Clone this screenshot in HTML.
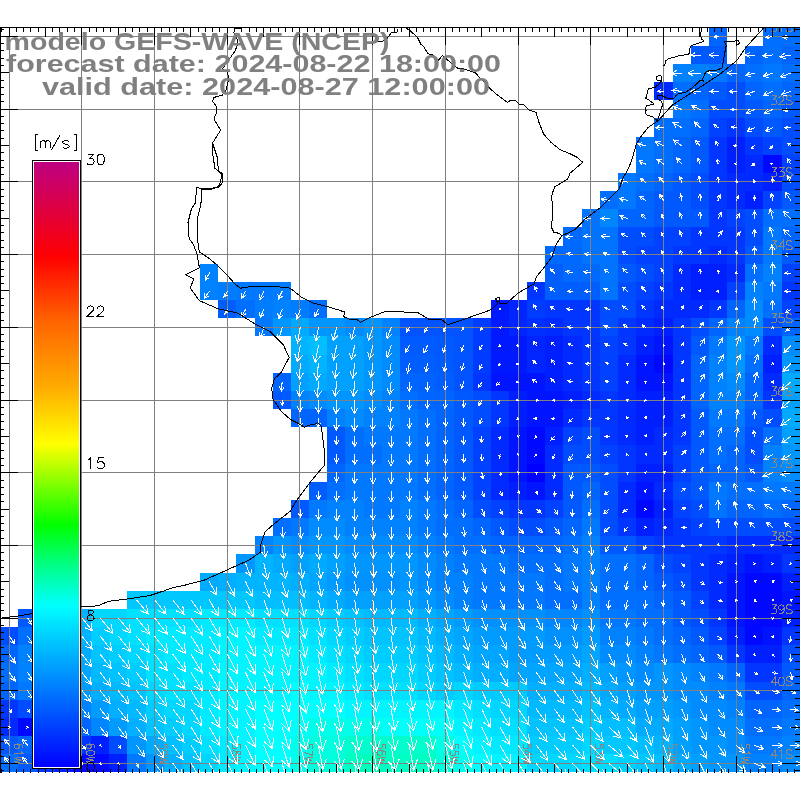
<!DOCTYPE html><html><head><meta charset="utf-8"><style>html,body{margin:0;padding:0;background:#fff;width:800px;height:800px;overflow:hidden}svg{display:block;will-change:transform}</style></head><body>
<svg width="800" height="800" viewBox="0 0 800 800">
<rect x="0" y="0" width="800" height="800" fill="#fff"/>
<defs><clipPath id="mc"><rect x="0" y="28" width="800" height="744"/></clipPath></defs>
<g shape-rendering="crispEdges" clip-path="url(#mc)">
<rect x="709" y="28" width="18" height="18" fill="#0064ff"/>
<rect x="763" y="28" width="19" height="18" fill="#006eff"/>
<rect x="782" y="28" width="18" height="18" fill="#006eff"/>
<rect x="691" y="46" width="18" height="18" fill="#0058ff"/>
<rect x="709" y="46" width="18" height="18" fill="#0058ff"/>
<rect x="745" y="46" width="18" height="18" fill="#0064ff"/>
<rect x="763" y="46" width="19" height="18" fill="#006eff"/>
<rect x="782" y="46" width="18" height="18" fill="#0064ff"/>
<rect x="673" y="64" width="18" height="18" fill="#0082ff"/>
<rect x="691" y="64" width="18" height="18" fill="#0082ff"/>
<rect x="709" y="64" width="18" height="18" fill="#0078ff"/>
<rect x="727" y="64" width="18" height="18" fill="#0064ff"/>
<rect x="745" y="64" width="18" height="18" fill="#006eff"/>
<rect x="763" y="64" width="19" height="18" fill="#0078ff"/>
<rect x="782" y="64" width="18" height="18" fill="#006eff"/>
<rect x="654" y="82" width="19" height="18" fill="#002aff"/>
<rect x="673" y="82" width="18" height="18" fill="#006eff"/>
<rect x="691" y="82" width="18" height="18" fill="#0064ff"/>
<rect x="709" y="82" width="18" height="18" fill="#0058ff"/>
<rect x="727" y="82" width="18" height="18" fill="#004dff"/>
<rect x="745" y="82" width="18" height="18" fill="#0064ff"/>
<rect x="763" y="82" width="19" height="18" fill="#006eff"/>
<rect x="782" y="82" width="18" height="18" fill="#0064ff"/>
<rect x="673" y="100" width="18" height="18" fill="#0078ff"/>
<rect x="691" y="100" width="18" height="18" fill="#006eff"/>
<rect x="709" y="100" width="18" height="18" fill="#004dff"/>
<rect x="727" y="100" width="18" height="18" fill="#004dff"/>
<rect x="745" y="100" width="18" height="18" fill="#0058ff"/>
<rect x="763" y="100" width="19" height="18" fill="#0064ff"/>
<rect x="782" y="100" width="18" height="18" fill="#0058ff"/>
<rect x="654" y="118" width="19" height="19" fill="#006eff"/>
<rect x="673" y="118" width="18" height="19" fill="#006eff"/>
<rect x="691" y="118" width="18" height="19" fill="#0064ff"/>
<rect x="709" y="118" width="18" height="19" fill="#0042ff"/>
<rect x="727" y="118" width="18" height="19" fill="#0036ff"/>
<rect x="745" y="118" width="18" height="19" fill="#004dff"/>
<rect x="763" y="118" width="19" height="19" fill="#0058ff"/>
<rect x="782" y="118" width="18" height="19" fill="#004dff"/>
<rect x="636" y="137" width="18" height="18" fill="#0078ff"/>
<rect x="654" y="137" width="19" height="18" fill="#006eff"/>
<rect x="673" y="137" width="18" height="18" fill="#0064ff"/>
<rect x="691" y="137" width="18" height="18" fill="#0058ff"/>
<rect x="709" y="137" width="18" height="18" fill="#0036ff"/>
<rect x="727" y="137" width="18" height="18" fill="#001fff"/>
<rect x="745" y="137" width="18" height="18" fill="#0036ff"/>
<rect x="763" y="137" width="19" height="18" fill="#0042ff"/>
<rect x="782" y="137" width="18" height="18" fill="#004dff"/>
<rect x="636" y="155" width="18" height="18" fill="#0078ff"/>
<rect x="654" y="155" width="19" height="18" fill="#006eff"/>
<rect x="673" y="155" width="18" height="18" fill="#0064ff"/>
<rect x="691" y="155" width="18" height="18" fill="#0058ff"/>
<rect x="709" y="155" width="18" height="18" fill="#0036ff"/>
<rect x="727" y="155" width="18" height="18" fill="#001fff"/>
<rect x="745" y="155" width="18" height="18" fill="#002aff"/>
<rect x="763" y="155" width="19" height="18" fill="#0008ff"/>
<rect x="782" y="155" width="18" height="18" fill="#0042ff"/>
<rect x="618" y="173" width="18" height="18" fill="#0078ff"/>
<rect x="636" y="173" width="18" height="18" fill="#006eff"/>
<rect x="654" y="173" width="19" height="18" fill="#0064ff"/>
<rect x="673" y="173" width="18" height="18" fill="#0058ff"/>
<rect x="691" y="173" width="18" height="18" fill="#004dff"/>
<rect x="709" y="173" width="18" height="18" fill="#0036ff"/>
<rect x="727" y="173" width="18" height="18" fill="#002aff"/>
<rect x="745" y="173" width="18" height="18" fill="#002aff"/>
<rect x="763" y="173" width="19" height="18" fill="#001fff"/>
<rect x="782" y="173" width="18" height="18" fill="#004dff"/>
<rect x="600" y="191" width="18" height="18" fill="#006eff"/>
<rect x="618" y="191" width="18" height="18" fill="#0078ff"/>
<rect x="636" y="191" width="18" height="18" fill="#0064ff"/>
<rect x="654" y="191" width="19" height="18" fill="#0058ff"/>
<rect x="673" y="191" width="18" height="18" fill="#0058ff"/>
<rect x="691" y="191" width="18" height="18" fill="#004dff"/>
<rect x="709" y="191" width="18" height="18" fill="#0036ff"/>
<rect x="727" y="191" width="18" height="18" fill="#002aff"/>
<rect x="745" y="191" width="18" height="18" fill="#001fff"/>
<rect x="763" y="191" width="19" height="18" fill="#0042ff"/>
<rect x="782" y="191" width="18" height="18" fill="#0058ff"/>
<rect x="582" y="209" width="18" height="18" fill="#0073ff"/>
<rect x="600" y="209" width="18" height="18" fill="#0087ff"/>
<rect x="618" y="209" width="18" height="18" fill="#0064ff"/>
<rect x="636" y="209" width="18" height="18" fill="#0064ff"/>
<rect x="654" y="209" width="19" height="18" fill="#0058ff"/>
<rect x="673" y="209" width="18" height="18" fill="#0058ff"/>
<rect x="691" y="209" width="18" height="18" fill="#0058ff"/>
<rect x="709" y="209" width="18" height="18" fill="#0036ff"/>
<rect x="727" y="209" width="18" height="18" fill="#0042ff"/>
<rect x="745" y="209" width="18" height="18" fill="#004dff"/>
<rect x="763" y="209" width="19" height="18" fill="#006eff"/>
<rect x="782" y="209" width="18" height="18" fill="#006eff"/>
<rect x="563" y="227" width="19" height="19" fill="#0069ff"/>
<rect x="582" y="227" width="18" height="19" fill="#0073ff"/>
<rect x="600" y="227" width="18" height="19" fill="#0073ff"/>
<rect x="618" y="227" width="18" height="19" fill="#004dff"/>
<rect x="636" y="227" width="18" height="19" fill="#004dff"/>
<rect x="654" y="227" width="19" height="19" fill="#0042ff"/>
<rect x="673" y="227" width="18" height="19" fill="#0042ff"/>
<rect x="691" y="227" width="18" height="19" fill="#0036ff"/>
<rect x="709" y="227" width="18" height="19" fill="#0036ff"/>
<rect x="727" y="227" width="18" height="19" fill="#0036ff"/>
<rect x="745" y="227" width="18" height="19" fill="#004dff"/>
<rect x="763" y="227" width="19" height="19" fill="#0078ff"/>
<rect x="782" y="227" width="18" height="19" fill="#0064ff"/>
<rect x="545" y="246" width="18" height="18" fill="#0069ff"/>
<rect x="563" y="246" width="19" height="18" fill="#0069ff"/>
<rect x="582" y="246" width="18" height="18" fill="#0073ff"/>
<rect x="600" y="246" width="18" height="18" fill="#0073ff"/>
<rect x="618" y="246" width="18" height="18" fill="#004dff"/>
<rect x="636" y="246" width="18" height="18" fill="#0042ff"/>
<rect x="654" y="246" width="19" height="18" fill="#0042ff"/>
<rect x="673" y="246" width="18" height="18" fill="#0036ff"/>
<rect x="691" y="246" width="18" height="18" fill="#0036ff"/>
<rect x="709" y="246" width="18" height="18" fill="#002aff"/>
<rect x="727" y="246" width="18" height="18" fill="#0036ff"/>
<rect x="745" y="246" width="18" height="18" fill="#0058ff"/>
<rect x="763" y="246" width="19" height="18" fill="#0078ff"/>
<rect x="782" y="246" width="18" height="18" fill="#0058ff"/>
<rect x="200" y="264" width="18" height="18" fill="#0082ff"/>
<rect x="545" y="264" width="18" height="18" fill="#005eff"/>
<rect x="563" y="264" width="19" height="18" fill="#0069ff"/>
<rect x="582" y="264" width="18" height="18" fill="#0069ff"/>
<rect x="600" y="264" width="18" height="18" fill="#0073ff"/>
<rect x="618" y="264" width="18" height="18" fill="#0058ff"/>
<rect x="636" y="264" width="18" height="18" fill="#004dff"/>
<rect x="654" y="264" width="19" height="18" fill="#0042ff"/>
<rect x="673" y="264" width="18" height="18" fill="#002aff"/>
<rect x="691" y="264" width="18" height="18" fill="#001fff"/>
<rect x="709" y="264" width="18" height="18" fill="#001fff"/>
<rect x="727" y="264" width="18" height="18" fill="#002aff"/>
<rect x="745" y="264" width="18" height="18" fill="#006eff"/>
<rect x="763" y="264" width="19" height="18" fill="#0082ff"/>
<rect x="782" y="264" width="18" height="18" fill="#0042ff"/>
<rect x="200" y="282" width="18" height="18" fill="#0082ff"/>
<rect x="218" y="282" width="18" height="18" fill="#007dff"/>
<rect x="236" y="282" width="19" height="18" fill="#0078ff"/>
<rect x="255" y="282" width="18" height="18" fill="#0078ff"/>
<rect x="273" y="282" width="18" height="18" fill="#007dff"/>
<rect x="527" y="282" width="18" height="18" fill="#0036ff"/>
<rect x="545" y="282" width="18" height="18" fill="#005eff"/>
<rect x="563" y="282" width="19" height="18" fill="#005eff"/>
<rect x="582" y="282" width="18" height="18" fill="#005eff"/>
<rect x="600" y="282" width="18" height="18" fill="#0073ff"/>
<rect x="618" y="282" width="18" height="18" fill="#004dff"/>
<rect x="636" y="282" width="18" height="18" fill="#0042ff"/>
<rect x="654" y="282" width="19" height="18" fill="#0036ff"/>
<rect x="673" y="282" width="18" height="18" fill="#002aff"/>
<rect x="691" y="282" width="18" height="18" fill="#001fff"/>
<rect x="709" y="282" width="18" height="18" fill="#001fff"/>
<rect x="727" y="282" width="18" height="18" fill="#0042ff"/>
<rect x="745" y="282" width="18" height="18" fill="#0082ff"/>
<rect x="763" y="282" width="19" height="18" fill="#0078ff"/>
<rect x="782" y="282" width="18" height="18" fill="#0036ff"/>
<rect x="218" y="300" width="18" height="18" fill="#005eff"/>
<rect x="236" y="300" width="19" height="18" fill="#006eff"/>
<rect x="255" y="300" width="18" height="18" fill="#007dff"/>
<rect x="273" y="300" width="18" height="18" fill="#0082ff"/>
<rect x="291" y="300" width="18" height="18" fill="#007dff"/>
<rect x="309" y="300" width="18" height="18" fill="#006eff"/>
<rect x="491" y="300" width="18" height="18" fill="#0019ff"/>
<rect x="509" y="300" width="18" height="18" fill="#0025ff"/>
<rect x="527" y="300" width="18" height="18" fill="#003cff"/>
<rect x="545" y="300" width="18" height="18" fill="#0036ff"/>
<rect x="563" y="300" width="19" height="18" fill="#0036ff"/>
<rect x="582" y="300" width="18" height="18" fill="#0036ff"/>
<rect x="600" y="300" width="18" height="18" fill="#004dff"/>
<rect x="618" y="300" width="18" height="18" fill="#004dff"/>
<rect x="636" y="300" width="18" height="18" fill="#0036ff"/>
<rect x="654" y="300" width="19" height="18" fill="#002aff"/>
<rect x="673" y="300" width="18" height="18" fill="#002aff"/>
<rect x="691" y="300" width="18" height="18" fill="#002aff"/>
<rect x="709" y="300" width="18" height="18" fill="#0036ff"/>
<rect x="727" y="300" width="18" height="18" fill="#0064ff"/>
<rect x="745" y="300" width="18" height="18" fill="#008cff"/>
<rect x="763" y="300" width="19" height="18" fill="#006eff"/>
<rect x="782" y="300" width="18" height="18" fill="#0042ff"/>
<rect x="255" y="318" width="18" height="18" fill="#0078ff"/>
<rect x="273" y="318" width="18" height="18" fill="#0096ff"/>
<rect x="291" y="318" width="18" height="18" fill="#00aaff"/>
<rect x="309" y="318" width="18" height="18" fill="#0096ff"/>
<rect x="327" y="318" width="18" height="18" fill="#0096ff"/>
<rect x="345" y="318" width="19" height="18" fill="#008cff"/>
<rect x="364" y="318" width="18" height="18" fill="#0096ff"/>
<rect x="382" y="318" width="18" height="18" fill="#0082ff"/>
<rect x="400" y="318" width="18" height="18" fill="#0053ff"/>
<rect x="418" y="318" width="18" height="18" fill="#0053ff"/>
<rect x="436" y="318" width="18" height="18" fill="#0053ff"/>
<rect x="454" y="318" width="19" height="18" fill="#0053ff"/>
<rect x="473" y="318" width="18" height="18" fill="#003cff"/>
<rect x="491" y="318" width="18" height="18" fill="#0019ff"/>
<rect x="509" y="318" width="18" height="18" fill="#0025ff"/>
<rect x="527" y="318" width="18" height="18" fill="#0030ff"/>
<rect x="545" y="318" width="18" height="18" fill="#002aff"/>
<rect x="563" y="318" width="19" height="18" fill="#0036ff"/>
<rect x="582" y="318" width="18" height="18" fill="#0036ff"/>
<rect x="600" y="318" width="18" height="18" fill="#004dff"/>
<rect x="618" y="318" width="18" height="18" fill="#0036ff"/>
<rect x="636" y="318" width="18" height="18" fill="#002aff"/>
<rect x="654" y="318" width="19" height="18" fill="#001fff"/>
<rect x="673" y="318" width="18" height="18" fill="#0036ff"/>
<rect x="691" y="318" width="18" height="18" fill="#004dff"/>
<rect x="709" y="318" width="18" height="18" fill="#0064ff"/>
<rect x="727" y="318" width="18" height="18" fill="#0082ff"/>
<rect x="745" y="318" width="18" height="18" fill="#008cff"/>
<rect x="763" y="318" width="19" height="18" fill="#004dff"/>
<rect x="782" y="318" width="18" height="18" fill="#0064ff"/>
<rect x="291" y="336" width="18" height="19" fill="#00b4ff"/>
<rect x="309" y="336" width="18" height="19" fill="#00beff"/>
<rect x="327" y="336" width="18" height="19" fill="#00a0ff"/>
<rect x="345" y="336" width="19" height="19" fill="#00a0ff"/>
<rect x="364" y="336" width="18" height="19" fill="#0096ff"/>
<rect x="382" y="336" width="18" height="19" fill="#008cff"/>
<rect x="400" y="336" width="18" height="19" fill="#005bff"/>
<rect x="418" y="336" width="18" height="19" fill="#005bff"/>
<rect x="436" y="336" width="18" height="19" fill="#0058ff"/>
<rect x="454" y="336" width="19" height="19" fill="#0053ff"/>
<rect x="473" y="336" width="18" height="19" fill="#003cff"/>
<rect x="491" y="336" width="18" height="19" fill="#0019ff"/>
<rect x="509" y="336" width="18" height="19" fill="#0019ff"/>
<rect x="527" y="336" width="18" height="19" fill="#0025ff"/>
<rect x="545" y="336" width="18" height="19" fill="#001fff"/>
<rect x="563" y="336" width="19" height="19" fill="#002aff"/>
<rect x="582" y="336" width="18" height="19" fill="#0036ff"/>
<rect x="600" y="336" width="18" height="19" fill="#0042ff"/>
<rect x="618" y="336" width="18" height="19" fill="#0036ff"/>
<rect x="636" y="336" width="18" height="19" fill="#001fff"/>
<rect x="654" y="336" width="19" height="19" fill="#0014ff"/>
<rect x="673" y="336" width="18" height="19" fill="#0036ff"/>
<rect x="691" y="336" width="18" height="19" fill="#0058ff"/>
<rect x="709" y="336" width="18" height="19" fill="#0078ff"/>
<rect x="727" y="336" width="18" height="19" fill="#0096ff"/>
<rect x="745" y="336" width="18" height="19" fill="#0078ff"/>
<rect x="763" y="336" width="19" height="19" fill="#002aff"/>
<rect x="782" y="336" width="18" height="19" fill="#008cff"/>
<rect x="291" y="355" width="18" height="18" fill="#00aaff"/>
<rect x="309" y="355" width="18" height="18" fill="#00b4ff"/>
<rect x="327" y="355" width="18" height="18" fill="#00a0ff"/>
<rect x="345" y="355" width="19" height="18" fill="#00a0ff"/>
<rect x="364" y="355" width="18" height="18" fill="#0096ff"/>
<rect x="382" y="355" width="18" height="18" fill="#008cff"/>
<rect x="400" y="355" width="18" height="18" fill="#005eff"/>
<rect x="418" y="355" width="18" height="18" fill="#005eff"/>
<rect x="436" y="355" width="18" height="18" fill="#005bff"/>
<rect x="454" y="355" width="19" height="18" fill="#0053ff"/>
<rect x="473" y="355" width="18" height="18" fill="#003cff"/>
<rect x="491" y="355" width="18" height="18" fill="#0019ff"/>
<rect x="509" y="355" width="18" height="18" fill="#0019ff"/>
<rect x="527" y="355" width="18" height="18" fill="#0025ff"/>
<rect x="545" y="355" width="18" height="18" fill="#001fff"/>
<rect x="563" y="355" width="19" height="18" fill="#002aff"/>
<rect x="582" y="355" width="18" height="18" fill="#0036ff"/>
<rect x="600" y="355" width="18" height="18" fill="#0042ff"/>
<rect x="618" y="355" width="18" height="18" fill="#002aff"/>
<rect x="636" y="355" width="18" height="18" fill="#0014ff"/>
<rect x="654" y="355" width="19" height="18" fill="#0008ff"/>
<rect x="673" y="355" width="18" height="18" fill="#0036ff"/>
<rect x="691" y="355" width="18" height="18" fill="#0064ff"/>
<rect x="709" y="355" width="18" height="18" fill="#0082ff"/>
<rect x="727" y="355" width="18" height="18" fill="#0096ff"/>
<rect x="745" y="355" width="18" height="18" fill="#006eff"/>
<rect x="763" y="355" width="19" height="18" fill="#001fff"/>
<rect x="782" y="355" width="18" height="18" fill="#0096ff"/>
<rect x="273" y="373" width="18" height="18" fill="#0064ff"/>
<rect x="291" y="373" width="18" height="18" fill="#00a0ff"/>
<rect x="309" y="373" width="18" height="18" fill="#00aaff"/>
<rect x="327" y="373" width="18" height="18" fill="#00a0ff"/>
<rect x="345" y="373" width="19" height="18" fill="#00a0ff"/>
<rect x="364" y="373" width="18" height="18" fill="#0096ff"/>
<rect x="382" y="373" width="18" height="18" fill="#008cff"/>
<rect x="400" y="373" width="18" height="18" fill="#0064ff"/>
<rect x="418" y="373" width="18" height="18" fill="#0062ff"/>
<rect x="436" y="373" width="18" height="18" fill="#005eff"/>
<rect x="454" y="373" width="19" height="18" fill="#0053ff"/>
<rect x="473" y="373" width="18" height="18" fill="#0036ff"/>
<rect x="491" y="373" width="18" height="18" fill="#0014ff"/>
<rect x="509" y="373" width="18" height="18" fill="#0014ff"/>
<rect x="527" y="373" width="18" height="18" fill="#0014ff"/>
<rect x="545" y="373" width="18" height="18" fill="#001fff"/>
<rect x="563" y="373" width="19" height="18" fill="#002aff"/>
<rect x="582" y="373" width="18" height="18" fill="#0036ff"/>
<rect x="600" y="373" width="18" height="18" fill="#0042ff"/>
<rect x="618" y="373" width="18" height="18" fill="#002aff"/>
<rect x="636" y="373" width="18" height="18" fill="#0014ff"/>
<rect x="654" y="373" width="19" height="18" fill="#0014ff"/>
<rect x="673" y="373" width="18" height="18" fill="#0036ff"/>
<rect x="691" y="373" width="18" height="18" fill="#0064ff"/>
<rect x="709" y="373" width="18" height="18" fill="#0082ff"/>
<rect x="727" y="373" width="18" height="18" fill="#008cff"/>
<rect x="745" y="373" width="18" height="18" fill="#0064ff"/>
<rect x="763" y="373" width="19" height="18" fill="#002aff"/>
<rect x="782" y="373" width="18" height="18" fill="#00aaff"/>
<rect x="273" y="391" width="18" height="18" fill="#0058ff"/>
<rect x="291" y="391" width="18" height="18" fill="#0082ff"/>
<rect x="309" y="391" width="18" height="18" fill="#008cff"/>
<rect x="327" y="391" width="18" height="18" fill="#0096ff"/>
<rect x="345" y="391" width="19" height="18" fill="#0096ff"/>
<rect x="364" y="391" width="18" height="18" fill="#008cff"/>
<rect x="382" y="391" width="18" height="18" fill="#0082ff"/>
<rect x="400" y="391" width="18" height="18" fill="#006eff"/>
<rect x="418" y="391" width="18" height="18" fill="#0064ff"/>
<rect x="436" y="391" width="18" height="18" fill="#0064ff"/>
<rect x="454" y="391" width="19" height="18" fill="#0058ff"/>
<rect x="473" y="391" width="18" height="18" fill="#004dff"/>
<rect x="491" y="391" width="18" height="18" fill="#0036ff"/>
<rect x="509" y="391" width="18" height="18" fill="#001fff"/>
<rect x="527" y="391" width="18" height="18" fill="#0014ff"/>
<rect x="545" y="391" width="18" height="18" fill="#0014ff"/>
<rect x="563" y="391" width="19" height="18" fill="#001fff"/>
<rect x="582" y="391" width="18" height="18" fill="#002aff"/>
<rect x="600" y="391" width="18" height="18" fill="#0036ff"/>
<rect x="618" y="391" width="18" height="18" fill="#002aff"/>
<rect x="636" y="391" width="18" height="18" fill="#001fff"/>
<rect x="654" y="391" width="19" height="18" fill="#001fff"/>
<rect x="673" y="391" width="18" height="18" fill="#0036ff"/>
<rect x="691" y="391" width="18" height="18" fill="#0064ff"/>
<rect x="709" y="391" width="18" height="18" fill="#0082ff"/>
<rect x="727" y="391" width="18" height="18" fill="#0082ff"/>
<rect x="745" y="391" width="18" height="18" fill="#0064ff"/>
<rect x="763" y="391" width="19" height="18" fill="#0036ff"/>
<rect x="782" y="391" width="18" height="18" fill="#00a0ff"/>
<rect x="291" y="409" width="18" height="18" fill="#0064ff"/>
<rect x="309" y="409" width="18" height="18" fill="#0064ff"/>
<rect x="327" y="409" width="18" height="18" fill="#0082ff"/>
<rect x="345" y="409" width="19" height="18" fill="#008cff"/>
<rect x="364" y="409" width="18" height="18" fill="#0082ff"/>
<rect x="382" y="409" width="18" height="18" fill="#0082ff"/>
<rect x="400" y="409" width="18" height="18" fill="#0078ff"/>
<rect x="418" y="409" width="18" height="18" fill="#006eff"/>
<rect x="436" y="409" width="18" height="18" fill="#0064ff"/>
<rect x="454" y="409" width="19" height="18" fill="#0058ff"/>
<rect x="473" y="409" width="18" height="18" fill="#004dff"/>
<rect x="491" y="409" width="18" height="18" fill="#0036ff"/>
<rect x="509" y="409" width="18" height="18" fill="#001fff"/>
<rect x="527" y="409" width="18" height="18" fill="#0014ff"/>
<rect x="545" y="409" width="18" height="18" fill="#0014ff"/>
<rect x="563" y="409" width="19" height="18" fill="#002aff"/>
<rect x="582" y="409" width="18" height="18" fill="#0036ff"/>
<rect x="600" y="409" width="18" height="18" fill="#0036ff"/>
<rect x="618" y="409" width="18" height="18" fill="#002aff"/>
<rect x="636" y="409" width="18" height="18" fill="#001fff"/>
<rect x="654" y="409" width="19" height="18" fill="#001fff"/>
<rect x="673" y="409" width="18" height="18" fill="#0036ff"/>
<rect x="691" y="409" width="18" height="18" fill="#0058ff"/>
<rect x="709" y="409" width="18" height="18" fill="#0078ff"/>
<rect x="727" y="409" width="18" height="18" fill="#0078ff"/>
<rect x="745" y="409" width="18" height="18" fill="#0058ff"/>
<rect x="763" y="409" width="19" height="18" fill="#004dff"/>
<rect x="782" y="409" width="18" height="18" fill="#00aaff"/>
<rect x="327" y="427" width="18" height="18" fill="#0058ff"/>
<rect x="345" y="427" width="19" height="18" fill="#006eff"/>
<rect x="364" y="427" width="18" height="18" fill="#0078ff"/>
<rect x="382" y="427" width="18" height="18" fill="#0078ff"/>
<rect x="400" y="427" width="18" height="18" fill="#0078ff"/>
<rect x="418" y="427" width="18" height="18" fill="#006eff"/>
<rect x="436" y="427" width="18" height="18" fill="#0064ff"/>
<rect x="454" y="427" width="19" height="18" fill="#0058ff"/>
<rect x="473" y="427" width="18" height="18" fill="#0042ff"/>
<rect x="491" y="427" width="18" height="18" fill="#002aff"/>
<rect x="509" y="427" width="18" height="18" fill="#0014ff"/>
<rect x="527" y="427" width="18" height="18" fill="#0008ff"/>
<rect x="545" y="427" width="18" height="18" fill="#001fff"/>
<rect x="563" y="427" width="19" height="18" fill="#0042ff"/>
<rect x="582" y="427" width="18" height="18" fill="#004dff"/>
<rect x="600" y="427" width="18" height="18" fill="#0036ff"/>
<rect x="618" y="427" width="18" height="18" fill="#002aff"/>
<rect x="636" y="427" width="18" height="18" fill="#001fff"/>
<rect x="654" y="427" width="19" height="18" fill="#002aff"/>
<rect x="673" y="427" width="18" height="18" fill="#0036ff"/>
<rect x="691" y="427" width="18" height="18" fill="#0058ff"/>
<rect x="709" y="427" width="18" height="18" fill="#006eff"/>
<rect x="727" y="427" width="18" height="18" fill="#006eff"/>
<rect x="745" y="427" width="18" height="18" fill="#004dff"/>
<rect x="763" y="427" width="19" height="18" fill="#006eff"/>
<rect x="782" y="427" width="18" height="18" fill="#00a0ff"/>
<rect x="327" y="445" width="18" height="19" fill="#0058ff"/>
<rect x="345" y="445" width="19" height="19" fill="#006eff"/>
<rect x="364" y="445" width="18" height="19" fill="#006eff"/>
<rect x="382" y="445" width="18" height="19" fill="#0078ff"/>
<rect x="400" y="445" width="18" height="19" fill="#0078ff"/>
<rect x="418" y="445" width="18" height="19" fill="#006eff"/>
<rect x="436" y="445" width="18" height="19" fill="#0064ff"/>
<rect x="454" y="445" width="19" height="19" fill="#0058ff"/>
<rect x="473" y="445" width="18" height="19" fill="#0042ff"/>
<rect x="491" y="445" width="18" height="19" fill="#002aff"/>
<rect x="509" y="445" width="18" height="19" fill="#0014ff"/>
<rect x="527" y="445" width="18" height="19" fill="#0008ff"/>
<rect x="545" y="445" width="18" height="19" fill="#002aff"/>
<rect x="563" y="445" width="19" height="19" fill="#004dff"/>
<rect x="582" y="445" width="18" height="19" fill="#004dff"/>
<rect x="600" y="445" width="18" height="19" fill="#0042ff"/>
<rect x="618" y="445" width="18" height="19" fill="#0036ff"/>
<rect x="636" y="445" width="18" height="19" fill="#002aff"/>
<rect x="654" y="445" width="19" height="19" fill="#002aff"/>
<rect x="673" y="445" width="18" height="19" fill="#0042ff"/>
<rect x="691" y="445" width="18" height="19" fill="#0058ff"/>
<rect x="709" y="445" width="18" height="19" fill="#006eff"/>
<rect x="727" y="445" width="18" height="19" fill="#0064ff"/>
<rect x="745" y="445" width="18" height="19" fill="#004dff"/>
<rect x="763" y="445" width="19" height="19" fill="#0082ff"/>
<rect x="782" y="445" width="18" height="19" fill="#0096ff"/>
<rect x="327" y="464" width="18" height="18" fill="#0064ff"/>
<rect x="345" y="464" width="19" height="18" fill="#0078ff"/>
<rect x="364" y="464" width="18" height="18" fill="#0078ff"/>
<rect x="382" y="464" width="18" height="18" fill="#0078ff"/>
<rect x="400" y="464" width="18" height="18" fill="#0078ff"/>
<rect x="418" y="464" width="18" height="18" fill="#006eff"/>
<rect x="436" y="464" width="18" height="18" fill="#0064ff"/>
<rect x="454" y="464" width="19" height="18" fill="#0058ff"/>
<rect x="473" y="464" width="18" height="18" fill="#0042ff"/>
<rect x="491" y="464" width="18" height="18" fill="#002aff"/>
<rect x="509" y="464" width="18" height="18" fill="#0014ff"/>
<rect x="527" y="464" width="18" height="18" fill="#0000ff"/>
<rect x="545" y="464" width="18" height="18" fill="#002aff"/>
<rect x="563" y="464" width="19" height="18" fill="#0058ff"/>
<rect x="582" y="464" width="18" height="18" fill="#0058ff"/>
<rect x="600" y="464" width="18" height="18" fill="#004dff"/>
<rect x="618" y="464" width="18" height="18" fill="#0036ff"/>
<rect x="636" y="464" width="18" height="18" fill="#001fff"/>
<rect x="654" y="464" width="19" height="18" fill="#001fff"/>
<rect x="673" y="464" width="18" height="18" fill="#0042ff"/>
<rect x="691" y="464" width="18" height="18" fill="#0058ff"/>
<rect x="709" y="464" width="18" height="18" fill="#0064ff"/>
<rect x="727" y="464" width="18" height="18" fill="#0064ff"/>
<rect x="745" y="464" width="18" height="18" fill="#0058ff"/>
<rect x="763" y="464" width="19" height="18" fill="#0082ff"/>
<rect x="782" y="464" width="18" height="18" fill="#008cff"/>
<rect x="309" y="482" width="18" height="18" fill="#005eff"/>
<rect x="327" y="482" width="18" height="18" fill="#006eff"/>
<rect x="345" y="482" width="19" height="18" fill="#0078ff"/>
<rect x="364" y="482" width="18" height="18" fill="#0078ff"/>
<rect x="382" y="482" width="18" height="18" fill="#0078ff"/>
<rect x="400" y="482" width="18" height="18" fill="#0078ff"/>
<rect x="418" y="482" width="18" height="18" fill="#006eff"/>
<rect x="436" y="482" width="18" height="18" fill="#0064ff"/>
<rect x="454" y="482" width="19" height="18" fill="#0058ff"/>
<rect x="473" y="482" width="18" height="18" fill="#0042ff"/>
<rect x="491" y="482" width="18" height="18" fill="#002aff"/>
<rect x="509" y="482" width="18" height="18" fill="#001fff"/>
<rect x="527" y="482" width="18" height="18" fill="#0014ff"/>
<rect x="545" y="482" width="18" height="18" fill="#002aff"/>
<rect x="563" y="482" width="19" height="18" fill="#0058ff"/>
<rect x="582" y="482" width="18" height="18" fill="#0064ff"/>
<rect x="600" y="482" width="18" height="18" fill="#004dff"/>
<rect x="618" y="482" width="18" height="18" fill="#002aff"/>
<rect x="636" y="482" width="18" height="18" fill="#0014ff"/>
<rect x="654" y="482" width="19" height="18" fill="#002aff"/>
<rect x="673" y="482" width="18" height="18" fill="#004dff"/>
<rect x="691" y="482" width="18" height="18" fill="#0058ff"/>
<rect x="709" y="482" width="18" height="18" fill="#0078ff"/>
<rect x="727" y="482" width="18" height="18" fill="#006eff"/>
<rect x="745" y="482" width="18" height="18" fill="#006eff"/>
<rect x="763" y="482" width="19" height="18" fill="#0078ff"/>
<rect x="782" y="482" width="18" height="18" fill="#0078ff"/>
<rect x="291" y="500" width="18" height="18" fill="#0058ff"/>
<rect x="309" y="500" width="18" height="18" fill="#0078ff"/>
<rect x="327" y="500" width="18" height="18" fill="#0082ff"/>
<rect x="345" y="500" width="19" height="18" fill="#0082ff"/>
<rect x="364" y="500" width="18" height="18" fill="#0078ff"/>
<rect x="382" y="500" width="18" height="18" fill="#0078ff"/>
<rect x="400" y="500" width="18" height="18" fill="#0082ff"/>
<rect x="418" y="500" width="18" height="18" fill="#0078ff"/>
<rect x="436" y="500" width="18" height="18" fill="#006eff"/>
<rect x="454" y="500" width="19" height="18" fill="#0064ff"/>
<rect x="473" y="500" width="18" height="18" fill="#004dff"/>
<rect x="491" y="500" width="18" height="18" fill="#0042ff"/>
<rect x="509" y="500" width="18" height="18" fill="#0036ff"/>
<rect x="527" y="500" width="18" height="18" fill="#0036ff"/>
<rect x="545" y="500" width="18" height="18" fill="#0042ff"/>
<rect x="563" y="500" width="19" height="18" fill="#0058ff"/>
<rect x="582" y="500" width="18" height="18" fill="#006eff"/>
<rect x="600" y="500" width="18" height="18" fill="#004dff"/>
<rect x="618" y="500" width="18" height="18" fill="#002aff"/>
<rect x="636" y="500" width="18" height="18" fill="#0008ff"/>
<rect x="654" y="500" width="19" height="18" fill="#001fff"/>
<rect x="673" y="500" width="18" height="18" fill="#0042ff"/>
<rect x="691" y="500" width="18" height="18" fill="#004dff"/>
<rect x="709" y="500" width="18" height="18" fill="#0073ff"/>
<rect x="727" y="500" width="18" height="18" fill="#0064ff"/>
<rect x="745" y="500" width="18" height="18" fill="#0064ff"/>
<rect x="763" y="500" width="19" height="18" fill="#006eff"/>
<rect x="782" y="500" width="18" height="18" fill="#0064ff"/>
<rect x="273" y="518" width="18" height="18" fill="#006eff"/>
<rect x="291" y="518" width="18" height="18" fill="#0078ff"/>
<rect x="309" y="518" width="18" height="18" fill="#008cff"/>
<rect x="327" y="518" width="18" height="18" fill="#008cff"/>
<rect x="345" y="518" width="19" height="18" fill="#0082ff"/>
<rect x="364" y="518" width="18" height="18" fill="#0082ff"/>
<rect x="382" y="518" width="18" height="18" fill="#0082ff"/>
<rect x="400" y="518" width="18" height="18" fill="#0082ff"/>
<rect x="418" y="518" width="18" height="18" fill="#0078ff"/>
<rect x="436" y="518" width="18" height="18" fill="#006eff"/>
<rect x="454" y="518" width="19" height="18" fill="#006eff"/>
<rect x="473" y="518" width="18" height="18" fill="#0064ff"/>
<rect x="491" y="518" width="18" height="18" fill="#0058ff"/>
<rect x="509" y="518" width="18" height="18" fill="#004dff"/>
<rect x="527" y="518" width="18" height="18" fill="#004dff"/>
<rect x="545" y="518" width="18" height="18" fill="#0058ff"/>
<rect x="563" y="518" width="19" height="18" fill="#0064ff"/>
<rect x="582" y="518" width="18" height="18" fill="#0078ff"/>
<rect x="600" y="518" width="18" height="18" fill="#004dff"/>
<rect x="618" y="518" width="18" height="18" fill="#0036ff"/>
<rect x="636" y="518" width="18" height="18" fill="#001fff"/>
<rect x="654" y="518" width="19" height="18" fill="#002aff"/>
<rect x="673" y="518" width="18" height="18" fill="#0036ff"/>
<rect x="691" y="518" width="18" height="18" fill="#0042ff"/>
<rect x="709" y="518" width="18" height="18" fill="#004dff"/>
<rect x="727" y="518" width="18" height="18" fill="#004dff"/>
<rect x="745" y="518" width="18" height="18" fill="#004dff"/>
<rect x="763" y="518" width="19" height="18" fill="#004dff"/>
<rect x="782" y="518" width="18" height="18" fill="#004dff"/>
<rect x="255" y="536" width="18" height="18" fill="#0082ff"/>
<rect x="273" y="536" width="18" height="18" fill="#0096ff"/>
<rect x="291" y="536" width="18" height="18" fill="#008cff"/>
<rect x="309" y="536" width="18" height="18" fill="#0096ff"/>
<rect x="327" y="536" width="18" height="18" fill="#0096ff"/>
<rect x="345" y="536" width="19" height="18" fill="#008cff"/>
<rect x="364" y="536" width="18" height="18" fill="#008cff"/>
<rect x="382" y="536" width="18" height="18" fill="#008cff"/>
<rect x="400" y="536" width="18" height="18" fill="#008cff"/>
<rect x="418" y="536" width="18" height="18" fill="#0082ff"/>
<rect x="436" y="536" width="18" height="18" fill="#0078ff"/>
<rect x="454" y="536" width="19" height="18" fill="#006eff"/>
<rect x="473" y="536" width="18" height="18" fill="#006eff"/>
<rect x="491" y="536" width="18" height="18" fill="#0064ff"/>
<rect x="509" y="536" width="18" height="18" fill="#0064ff"/>
<rect x="527" y="536" width="18" height="18" fill="#0064ff"/>
<rect x="545" y="536" width="18" height="18" fill="#0064ff"/>
<rect x="563" y="536" width="19" height="18" fill="#006eff"/>
<rect x="582" y="536" width="18" height="18" fill="#0082ff"/>
<rect x="600" y="536" width="18" height="18" fill="#0058ff"/>
<rect x="618" y="536" width="18" height="18" fill="#0058ff"/>
<rect x="636" y="536" width="18" height="18" fill="#0042ff"/>
<rect x="654" y="536" width="19" height="18" fill="#0036ff"/>
<rect x="673" y="536" width="18" height="18" fill="#0036ff"/>
<rect x="691" y="536" width="18" height="18" fill="#0036ff"/>
<rect x="709" y="536" width="18" height="18" fill="#0036ff"/>
<rect x="727" y="536" width="18" height="18" fill="#002aff"/>
<rect x="745" y="536" width="18" height="18" fill="#002aff"/>
<rect x="763" y="536" width="19" height="18" fill="#002aff"/>
<rect x="782" y="536" width="18" height="18" fill="#002aff"/>
<rect x="236" y="554" width="19" height="19" fill="#0096ff"/>
<rect x="255" y="554" width="18" height="19" fill="#00b4ff"/>
<rect x="273" y="554" width="18" height="19" fill="#00aaff"/>
<rect x="291" y="554" width="18" height="19" fill="#00a0ff"/>
<rect x="309" y="554" width="18" height="19" fill="#00aaff"/>
<rect x="327" y="554" width="18" height="19" fill="#00a0ff"/>
<rect x="345" y="554" width="19" height="19" fill="#0096ff"/>
<rect x="364" y="554" width="18" height="19" fill="#0096ff"/>
<rect x="382" y="554" width="18" height="19" fill="#0096ff"/>
<rect x="400" y="554" width="18" height="19" fill="#0096ff"/>
<rect x="418" y="554" width="18" height="19" fill="#008cff"/>
<rect x="436" y="554" width="18" height="19" fill="#0082ff"/>
<rect x="454" y="554" width="19" height="19" fill="#0078ff"/>
<rect x="473" y="554" width="18" height="19" fill="#0078ff"/>
<rect x="491" y="554" width="18" height="19" fill="#0078ff"/>
<rect x="509" y="554" width="18" height="19" fill="#006eff"/>
<rect x="527" y="554" width="18" height="19" fill="#006eff"/>
<rect x="545" y="554" width="18" height="19" fill="#006eff"/>
<rect x="563" y="554" width="19" height="19" fill="#0078ff"/>
<rect x="582" y="554" width="18" height="19" fill="#0082ff"/>
<rect x="600" y="554" width="18" height="19" fill="#006eff"/>
<rect x="618" y="554" width="18" height="19" fill="#006eff"/>
<rect x="636" y="554" width="18" height="19" fill="#0064ff"/>
<rect x="654" y="554" width="19" height="19" fill="#004dff"/>
<rect x="673" y="554" width="18" height="19" fill="#0042ff"/>
<rect x="691" y="554" width="18" height="19" fill="#0036ff"/>
<rect x="709" y="554" width="18" height="19" fill="#002aff"/>
<rect x="727" y="554" width="18" height="19" fill="#001fff"/>
<rect x="745" y="554" width="18" height="19" fill="#0014ff"/>
<rect x="763" y="554" width="19" height="19" fill="#001fff"/>
<rect x="782" y="554" width="18" height="19" fill="#0036ff"/>
<rect x="200" y="573" width="18" height="18" fill="#00aaff"/>
<rect x="218" y="573" width="18" height="18" fill="#00afff"/>
<rect x="236" y="573" width="19" height="18" fill="#00b4ff"/>
<rect x="255" y="573" width="18" height="18" fill="#00b4ff"/>
<rect x="273" y="573" width="18" height="18" fill="#00b4ff"/>
<rect x="291" y="573" width="18" height="18" fill="#00afff"/>
<rect x="309" y="573" width="18" height="18" fill="#00a5ff"/>
<rect x="327" y="573" width="18" height="18" fill="#009bff"/>
<rect x="345" y="573" width="19" height="18" fill="#0091ff"/>
<rect x="364" y="573" width="18" height="18" fill="#0091ff"/>
<rect x="382" y="573" width="18" height="18" fill="#0091ff"/>
<rect x="400" y="573" width="18" height="18" fill="#0096ff"/>
<rect x="418" y="573" width="18" height="18" fill="#008cff"/>
<rect x="436" y="573" width="18" height="18" fill="#0082ff"/>
<rect x="454" y="573" width="19" height="18" fill="#0082ff"/>
<rect x="473" y="573" width="18" height="18" fill="#0078ff"/>
<rect x="491" y="573" width="18" height="18" fill="#0078ff"/>
<rect x="509" y="573" width="18" height="18" fill="#0078ff"/>
<rect x="527" y="573" width="18" height="18" fill="#0078ff"/>
<rect x="545" y="573" width="18" height="18" fill="#006eff"/>
<rect x="563" y="573" width="19" height="18" fill="#0078ff"/>
<rect x="582" y="573" width="18" height="18" fill="#0082ff"/>
<rect x="600" y="573" width="18" height="18" fill="#006eff"/>
<rect x="618" y="573" width="18" height="18" fill="#006eff"/>
<rect x="636" y="573" width="18" height="18" fill="#0064ff"/>
<rect x="654" y="573" width="19" height="18" fill="#0058ff"/>
<rect x="673" y="573" width="18" height="18" fill="#004dff"/>
<rect x="691" y="573" width="18" height="18" fill="#0036ff"/>
<rect x="709" y="573" width="18" height="18" fill="#002aff"/>
<rect x="727" y="573" width="18" height="18" fill="#0014ff"/>
<rect x="745" y="573" width="18" height="18" fill="#0008ff"/>
<rect x="763" y="573" width="19" height="18" fill="#0008ff"/>
<rect x="782" y="573" width="18" height="18" fill="#001fff"/>
<rect x="127" y="591" width="19" height="18" fill="#00c8ff"/>
<rect x="146" y="591" width="18" height="18" fill="#00c8ff"/>
<rect x="164" y="591" width="18" height="18" fill="#00c8ff"/>
<rect x="182" y="591" width="18" height="18" fill="#00c8ff"/>
<rect x="200" y="591" width="18" height="18" fill="#00c8ff"/>
<rect x="218" y="591" width="18" height="18" fill="#00c8ff"/>
<rect x="236" y="591" width="19" height="18" fill="#00c8ff"/>
<rect x="255" y="591" width="18" height="18" fill="#00beff"/>
<rect x="273" y="591" width="18" height="18" fill="#00beff"/>
<rect x="291" y="591" width="18" height="18" fill="#00beff"/>
<rect x="309" y="591" width="18" height="18" fill="#00b4ff"/>
<rect x="327" y="591" width="18" height="18" fill="#00aaff"/>
<rect x="345" y="591" width="19" height="18" fill="#00a0ff"/>
<rect x="364" y="591" width="18" height="18" fill="#00a0ff"/>
<rect x="382" y="591" width="18" height="18" fill="#00a0ff"/>
<rect x="400" y="591" width="18" height="18" fill="#00a0ff"/>
<rect x="418" y="591" width="18" height="18" fill="#0096ff"/>
<rect x="436" y="591" width="18" height="18" fill="#008cff"/>
<rect x="454" y="591" width="19" height="18" fill="#0082ff"/>
<rect x="473" y="591" width="18" height="18" fill="#0078ff"/>
<rect x="491" y="591" width="18" height="18" fill="#0078ff"/>
<rect x="509" y="591" width="18" height="18" fill="#0078ff"/>
<rect x="527" y="591" width="18" height="18" fill="#0078ff"/>
<rect x="545" y="591" width="18" height="18" fill="#006eff"/>
<rect x="563" y="591" width="19" height="18" fill="#006eff"/>
<rect x="582" y="591" width="18" height="18" fill="#0082ff"/>
<rect x="600" y="591" width="18" height="18" fill="#006eff"/>
<rect x="618" y="591" width="18" height="18" fill="#006eff"/>
<rect x="636" y="591" width="18" height="18" fill="#006eff"/>
<rect x="654" y="591" width="19" height="18" fill="#0064ff"/>
<rect x="673" y="591" width="18" height="18" fill="#0058ff"/>
<rect x="691" y="591" width="18" height="18" fill="#0042ff"/>
<rect x="709" y="591" width="18" height="18" fill="#002aff"/>
<rect x="727" y="591" width="18" height="18" fill="#0014ff"/>
<rect x="745" y="591" width="18" height="18" fill="#0008ff"/>
<rect x="763" y="591" width="19" height="18" fill="#0008ff"/>
<rect x="782" y="591" width="18" height="18" fill="#0014ff"/>
<rect x="18" y="609" width="19" height="18" fill="#0058ff"/>
<rect x="37" y="609" width="18" height="18" fill="#0078ff"/>
<rect x="55" y="609" width="18" height="18" fill="#0096ff"/>
<rect x="73" y="609" width="18" height="18" fill="#00b4ff"/>
<rect x="91" y="609" width="18" height="18" fill="#00d7ff"/>
<rect x="109" y="609" width="18" height="18" fill="#00d7ff"/>
<rect x="127" y="609" width="19" height="18" fill="#00e1ff"/>
<rect x="146" y="609" width="18" height="18" fill="#00e1ff"/>
<rect x="164" y="609" width="18" height="18" fill="#00e1ff"/>
<rect x="182" y="609" width="18" height="18" fill="#00e1ff"/>
<rect x="200" y="609" width="18" height="18" fill="#00ebff"/>
<rect x="218" y="609" width="18" height="18" fill="#00ebff"/>
<rect x="236" y="609" width="19" height="18" fill="#00ebff"/>
<rect x="255" y="609" width="18" height="18" fill="#00e1ff"/>
<rect x="273" y="609" width="18" height="18" fill="#00e1ff"/>
<rect x="291" y="609" width="18" height="18" fill="#00e1ff"/>
<rect x="309" y="609" width="18" height="18" fill="#00d7ff"/>
<rect x="327" y="609" width="18" height="18" fill="#00cdff"/>
<rect x="345" y="609" width="19" height="18" fill="#00c3ff"/>
<rect x="364" y="609" width="18" height="18" fill="#00b9ff"/>
<rect x="382" y="609" width="18" height="18" fill="#00b9ff"/>
<rect x="400" y="609" width="18" height="18" fill="#00b9ff"/>
<rect x="418" y="609" width="18" height="18" fill="#00afff"/>
<rect x="436" y="609" width="18" height="18" fill="#00a5ff"/>
<rect x="454" y="609" width="19" height="18" fill="#009bff"/>
<rect x="473" y="609" width="18" height="18" fill="#0091ff"/>
<rect x="491" y="609" width="18" height="18" fill="#0091ff"/>
<rect x="509" y="609" width="18" height="18" fill="#0091ff"/>
<rect x="527" y="609" width="18" height="18" fill="#0091ff"/>
<rect x="545" y="609" width="18" height="18" fill="#0087ff"/>
<rect x="563" y="609" width="19" height="18" fill="#0087ff"/>
<rect x="582" y="609" width="18" height="18" fill="#0091ff"/>
<rect x="600" y="609" width="18" height="18" fill="#0078ff"/>
<rect x="618" y="609" width="18" height="18" fill="#0078ff"/>
<rect x="636" y="609" width="18" height="18" fill="#006eff"/>
<rect x="654" y="609" width="19" height="18" fill="#006eff"/>
<rect x="673" y="609" width="18" height="18" fill="#0058ff"/>
<rect x="691" y="609" width="18" height="18" fill="#004dff"/>
<rect x="709" y="609" width="18" height="18" fill="#0036ff"/>
<rect x="727" y="609" width="18" height="18" fill="#0014ff"/>
<rect x="745" y="609" width="18" height="18" fill="#0008ff"/>
<rect x="763" y="609" width="19" height="18" fill="#0008ff"/>
<rect x="782" y="609" width="18" height="18" fill="#001fff"/>
<rect x="0" y="627" width="18" height="18" fill="#004dff"/>
<rect x="18" y="627" width="19" height="18" fill="#006eff"/>
<rect x="37" y="627" width="18" height="18" fill="#008cff"/>
<rect x="55" y="627" width="18" height="18" fill="#00a0ff"/>
<rect x="73" y="627" width="18" height="18" fill="#00b4ff"/>
<rect x="91" y="627" width="18" height="18" fill="#00cdff"/>
<rect x="109" y="627" width="18" height="18" fill="#00d7ff"/>
<rect x="127" y="627" width="19" height="18" fill="#00e1ff"/>
<rect x="146" y="627" width="18" height="18" fill="#00ebff"/>
<rect x="164" y="627" width="18" height="18" fill="#00ebff"/>
<rect x="182" y="627" width="18" height="18" fill="#00ebff"/>
<rect x="200" y="627" width="18" height="18" fill="#00ebff"/>
<rect x="218" y="627" width="18" height="18" fill="#00f5ff"/>
<rect x="236" y="627" width="19" height="18" fill="#00f5ff"/>
<rect x="255" y="627" width="18" height="18" fill="#00ebff"/>
<rect x="273" y="627" width="18" height="18" fill="#00ebff"/>
<rect x="291" y="627" width="18" height="18" fill="#00ebff"/>
<rect x="309" y="627" width="18" height="18" fill="#00e1ff"/>
<rect x="327" y="627" width="18" height="18" fill="#00d7ff"/>
<rect x="345" y="627" width="19" height="18" fill="#00cdff"/>
<rect x="364" y="627" width="18" height="18" fill="#00c3ff"/>
<rect x="382" y="627" width="18" height="18" fill="#00c3ff"/>
<rect x="400" y="627" width="18" height="18" fill="#00c3ff"/>
<rect x="418" y="627" width="18" height="18" fill="#00b9ff"/>
<rect x="436" y="627" width="18" height="18" fill="#00afff"/>
<rect x="454" y="627" width="19" height="18" fill="#00a5ff"/>
<rect x="473" y="627" width="18" height="18" fill="#009bff"/>
<rect x="491" y="627" width="18" height="18" fill="#009bff"/>
<rect x="509" y="627" width="18" height="18" fill="#009bff"/>
<rect x="527" y="627" width="18" height="18" fill="#009bff"/>
<rect x="545" y="627" width="18" height="18" fill="#0091ff"/>
<rect x="563" y="627" width="19" height="18" fill="#0091ff"/>
<rect x="582" y="627" width="18" height="18" fill="#009bff"/>
<rect x="600" y="627" width="18" height="18" fill="#0082ff"/>
<rect x="618" y="627" width="18" height="18" fill="#0082ff"/>
<rect x="636" y="627" width="18" height="18" fill="#0078ff"/>
<rect x="654" y="627" width="19" height="18" fill="#006eff"/>
<rect x="673" y="627" width="18" height="18" fill="#0064ff"/>
<rect x="691" y="627" width="18" height="18" fill="#0058ff"/>
<rect x="709" y="627" width="18" height="18" fill="#0042ff"/>
<rect x="727" y="627" width="18" height="18" fill="#001fff"/>
<rect x="745" y="627" width="18" height="18" fill="#0008ff"/>
<rect x="763" y="627" width="19" height="18" fill="#0014ff"/>
<rect x="782" y="627" width="18" height="18" fill="#0036ff"/>
<rect x="0" y="645" width="18" height="18" fill="#0064ff"/>
<rect x="18" y="645" width="19" height="18" fill="#0082ff"/>
<rect x="37" y="645" width="18" height="18" fill="#0096ff"/>
<rect x="55" y="645" width="18" height="18" fill="#00a0ff"/>
<rect x="73" y="645" width="18" height="18" fill="#00aaff"/>
<rect x="91" y="645" width="18" height="18" fill="#00c3ff"/>
<rect x="109" y="645" width="18" height="18" fill="#00cdff"/>
<rect x="127" y="645" width="19" height="18" fill="#00d7ff"/>
<rect x="146" y="645" width="18" height="18" fill="#00e1ff"/>
<rect x="164" y="645" width="18" height="18" fill="#00ebff"/>
<rect x="182" y="645" width="18" height="18" fill="#00ebff"/>
<rect x="200" y="645" width="18" height="18" fill="#00ebff"/>
<rect x="218" y="645" width="18" height="18" fill="#00f5ff"/>
<rect x="236" y="645" width="19" height="18" fill="#00f5ff"/>
<rect x="255" y="645" width="18" height="18" fill="#00f5ff"/>
<rect x="273" y="645" width="18" height="18" fill="#00f5ff"/>
<rect x="291" y="645" width="18" height="18" fill="#00f5ff"/>
<rect x="309" y="645" width="18" height="18" fill="#00ebff"/>
<rect x="327" y="645" width="18" height="18" fill="#00e1ff"/>
<rect x="345" y="645" width="19" height="18" fill="#00d7ff"/>
<rect x="364" y="645" width="18" height="18" fill="#00cdff"/>
<rect x="382" y="645" width="18" height="18" fill="#00cdff"/>
<rect x="400" y="645" width="18" height="18" fill="#00cdff"/>
<rect x="418" y="645" width="18" height="18" fill="#00c3ff"/>
<rect x="436" y="645" width="18" height="18" fill="#00b9ff"/>
<rect x="454" y="645" width="19" height="18" fill="#00afff"/>
<rect x="473" y="645" width="18" height="18" fill="#00a5ff"/>
<rect x="491" y="645" width="18" height="18" fill="#00a5ff"/>
<rect x="509" y="645" width="18" height="18" fill="#009bff"/>
<rect x="527" y="645" width="18" height="18" fill="#009bff"/>
<rect x="545" y="645" width="18" height="18" fill="#009bff"/>
<rect x="563" y="645" width="19" height="18" fill="#009bff"/>
<rect x="582" y="645" width="18" height="18" fill="#00a5ff"/>
<rect x="600" y="645" width="18" height="18" fill="#008cff"/>
<rect x="618" y="645" width="18" height="18" fill="#008cff"/>
<rect x="636" y="645" width="18" height="18" fill="#0082ff"/>
<rect x="654" y="645" width="19" height="18" fill="#0078ff"/>
<rect x="673" y="645" width="18" height="18" fill="#006eff"/>
<rect x="691" y="645" width="18" height="18" fill="#0064ff"/>
<rect x="709" y="645" width="18" height="18" fill="#0058ff"/>
<rect x="727" y="645" width="18" height="18" fill="#0036ff"/>
<rect x="745" y="645" width="18" height="18" fill="#001fff"/>
<rect x="763" y="645" width="19" height="18" fill="#001fff"/>
<rect x="782" y="645" width="18" height="18" fill="#004dff"/>
<rect x="0" y="663" width="18" height="19" fill="#006eff"/>
<rect x="18" y="663" width="19" height="19" fill="#0082ff"/>
<rect x="37" y="663" width="18" height="19" fill="#0091ff"/>
<rect x="55" y="663" width="18" height="19" fill="#009bff"/>
<rect x="73" y="663" width="18" height="19" fill="#00a5ff"/>
<rect x="91" y="663" width="18" height="19" fill="#00b9ff"/>
<rect x="109" y="663" width="18" height="19" fill="#00c3ff"/>
<rect x="127" y="663" width="19" height="19" fill="#00cdff"/>
<rect x="146" y="663" width="18" height="19" fill="#00e1ff"/>
<rect x="164" y="663" width="18" height="19" fill="#00e1ff"/>
<rect x="182" y="663" width="18" height="19" fill="#00ebff"/>
<rect x="200" y="663" width="18" height="19" fill="#00ebff"/>
<rect x="218" y="663" width="18" height="19" fill="#00f5ff"/>
<rect x="236" y="663" width="19" height="19" fill="#00f5ff"/>
<rect x="255" y="663" width="18" height="19" fill="#00f5ff"/>
<rect x="273" y="663" width="18" height="19" fill="#00f5ff"/>
<rect x="291" y="663" width="18" height="19" fill="#00f5ff"/>
<rect x="309" y="663" width="18" height="19" fill="#00f5ff"/>
<rect x="327" y="663" width="18" height="19" fill="#00ebff"/>
<rect x="345" y="663" width="19" height="19" fill="#00e1ff"/>
<rect x="364" y="663" width="18" height="19" fill="#00d7ff"/>
<rect x="382" y="663" width="18" height="19" fill="#00d7ff"/>
<rect x="400" y="663" width="18" height="19" fill="#00d7ff"/>
<rect x="418" y="663" width="18" height="19" fill="#00cdff"/>
<rect x="436" y="663" width="18" height="19" fill="#00c3ff"/>
<rect x="454" y="663" width="19" height="19" fill="#00b9ff"/>
<rect x="473" y="663" width="18" height="19" fill="#00afff"/>
<rect x="491" y="663" width="18" height="19" fill="#00afff"/>
<rect x="509" y="663" width="18" height="19" fill="#00a5ff"/>
<rect x="527" y="663" width="18" height="19" fill="#00a5ff"/>
<rect x="545" y="663" width="18" height="19" fill="#00a5ff"/>
<rect x="563" y="663" width="19" height="19" fill="#00a5ff"/>
<rect x="582" y="663" width="18" height="19" fill="#00afff"/>
<rect x="600" y="663" width="18" height="19" fill="#00a0ff"/>
<rect x="618" y="663" width="18" height="19" fill="#0096ff"/>
<rect x="636" y="663" width="18" height="19" fill="#008cff"/>
<rect x="654" y="663" width="19" height="19" fill="#0096ff"/>
<rect x="673" y="663" width="18" height="19" fill="#008cff"/>
<rect x="691" y="663" width="18" height="19" fill="#0082ff"/>
<rect x="709" y="663" width="18" height="19" fill="#0078ff"/>
<rect x="727" y="663" width="18" height="19" fill="#0064ff"/>
<rect x="745" y="663" width="18" height="19" fill="#0036ff"/>
<rect x="763" y="663" width="19" height="19" fill="#0036ff"/>
<rect x="782" y="663" width="18" height="19" fill="#0058ff"/>
<rect x="0" y="682" width="18" height="18" fill="#0064ff"/>
<rect x="18" y="682" width="19" height="18" fill="#0078ff"/>
<rect x="37" y="682" width="18" height="18" fill="#0087ff"/>
<rect x="55" y="682" width="18" height="18" fill="#0091ff"/>
<rect x="73" y="682" width="18" height="18" fill="#009bff"/>
<rect x="91" y="682" width="18" height="18" fill="#00afff"/>
<rect x="109" y="682" width="18" height="18" fill="#00b9ff"/>
<rect x="127" y="682" width="19" height="18" fill="#00c3ff"/>
<rect x="146" y="682" width="18" height="18" fill="#00d7ff"/>
<rect x="164" y="682" width="18" height="18" fill="#00e1ff"/>
<rect x="182" y="682" width="18" height="18" fill="#00e1ff"/>
<rect x="200" y="682" width="18" height="18" fill="#00ebff"/>
<rect x="218" y="682" width="18" height="18" fill="#00f5ff"/>
<rect x="236" y="682" width="19" height="18" fill="#00f5ff"/>
<rect x="255" y="682" width="18" height="18" fill="#00f5ff"/>
<rect x="273" y="682" width="18" height="18" fill="#00f5ff"/>
<rect x="291" y="682" width="18" height="18" fill="#00ffff"/>
<rect x="309" y="682" width="18" height="18" fill="#00f5ff"/>
<rect x="327" y="682" width="18" height="18" fill="#00f5ff"/>
<rect x="345" y="682" width="19" height="18" fill="#00ebff"/>
<rect x="364" y="682" width="18" height="18" fill="#00e1ff"/>
<rect x="382" y="682" width="18" height="18" fill="#00e1ff"/>
<rect x="400" y="682" width="18" height="18" fill="#00e1ff"/>
<rect x="418" y="682" width="18" height="18" fill="#00d7ff"/>
<rect x="436" y="682" width="18" height="18" fill="#00cdff"/>
<rect x="454" y="682" width="19" height="18" fill="#00d5ff"/>
<rect x="473" y="682" width="18" height="18" fill="#00cbff"/>
<rect x="491" y="682" width="18" height="18" fill="#00cbff"/>
<rect x="509" y="682" width="18" height="18" fill="#00cbff"/>
<rect x="527" y="682" width="18" height="18" fill="#00afff"/>
<rect x="545" y="682" width="18" height="18" fill="#00afff"/>
<rect x="563" y="682" width="19" height="18" fill="#00afff"/>
<rect x="582" y="682" width="18" height="18" fill="#00b9ff"/>
<rect x="600" y="682" width="18" height="18" fill="#00aaff"/>
<rect x="618" y="682" width="18" height="18" fill="#00a0ff"/>
<rect x="636" y="682" width="18" height="18" fill="#0096ff"/>
<rect x="654" y="682" width="19" height="18" fill="#0096ff"/>
<rect x="673" y="682" width="18" height="18" fill="#008cff"/>
<rect x="691" y="682" width="18" height="18" fill="#008cff"/>
<rect x="709" y="682" width="18" height="18" fill="#0082ff"/>
<rect x="727" y="682" width="18" height="18" fill="#0078ff"/>
<rect x="745" y="682" width="18" height="18" fill="#004dff"/>
<rect x="763" y="682" width="19" height="18" fill="#004dff"/>
<rect x="782" y="682" width="18" height="18" fill="#0064ff"/>
<rect x="0" y="700" width="18" height="18" fill="#0036ff"/>
<rect x="18" y="700" width="19" height="18" fill="#004dff"/>
<rect x="37" y="700" width="18" height="18" fill="#0064ff"/>
<rect x="55" y="700" width="18" height="18" fill="#0078ff"/>
<rect x="73" y="700" width="18" height="18" fill="#0082ff"/>
<rect x="91" y="700" width="18" height="18" fill="#009bff"/>
<rect x="109" y="700" width="18" height="18" fill="#00afff"/>
<rect x="127" y="700" width="19" height="18" fill="#00b9ff"/>
<rect x="146" y="700" width="18" height="18" fill="#00cdff"/>
<rect x="164" y="700" width="18" height="18" fill="#00d7ff"/>
<rect x="182" y="700" width="18" height="18" fill="#00d7ff"/>
<rect x="200" y="700" width="18" height="18" fill="#00ebff"/>
<rect x="218" y="700" width="18" height="18" fill="#00f5ff"/>
<rect x="236" y="700" width="19" height="18" fill="#00f5ff"/>
<rect x="255" y="700" width="18" height="18" fill="#00ffff"/>
<rect x="273" y="700" width="18" height="18" fill="#00ffff"/>
<rect x="291" y="700" width="18" height="18" fill="#00ffff"/>
<rect x="309" y="700" width="18" height="18" fill="#00ffff"/>
<rect x="327" y="700" width="18" height="18" fill="#00ffff"/>
<rect x="345" y="700" width="19" height="18" fill="#00f5ff"/>
<rect x="364" y="700" width="18" height="18" fill="#00f5ff"/>
<rect x="382" y="700" width="18" height="18" fill="#00f5ff"/>
<rect x="400" y="700" width="18" height="18" fill="#00f5ff"/>
<rect x="418" y="700" width="18" height="18" fill="#00f5ff"/>
<rect x="436" y="700" width="18" height="18" fill="#00f5ff"/>
<rect x="454" y="700" width="19" height="18" fill="#00e9ff"/>
<rect x="473" y="700" width="18" height="18" fill="#00dfff"/>
<rect x="491" y="700" width="18" height="18" fill="#00d5ff"/>
<rect x="509" y="700" width="18" height="18" fill="#00d5ff"/>
<rect x="527" y="700" width="18" height="18" fill="#00b9ff"/>
<rect x="545" y="700" width="18" height="18" fill="#00b9ff"/>
<rect x="563" y="700" width="19" height="18" fill="#00b9ff"/>
<rect x="582" y="700" width="18" height="18" fill="#00c3ff"/>
<rect x="600" y="700" width="18" height="18" fill="#00b4ff"/>
<rect x="618" y="700" width="18" height="18" fill="#00aaff"/>
<rect x="636" y="700" width="18" height="18" fill="#00a0ff"/>
<rect x="654" y="700" width="19" height="18" fill="#00a0ff"/>
<rect x="673" y="700" width="18" height="18" fill="#0096ff"/>
<rect x="691" y="700" width="18" height="18" fill="#008cff"/>
<rect x="709" y="700" width="18" height="18" fill="#008cff"/>
<rect x="727" y="700" width="18" height="18" fill="#0082ff"/>
<rect x="745" y="700" width="18" height="18" fill="#0064ff"/>
<rect x="763" y="700" width="19" height="18" fill="#0064ff"/>
<rect x="782" y="700" width="18" height="18" fill="#006eff"/>
<rect x="0" y="718" width="18" height="18" fill="#002aff"/>
<rect x="18" y="718" width="19" height="18" fill="#0008ff"/>
<rect x="37" y="718" width="18" height="18" fill="#002aff"/>
<rect x="55" y="718" width="18" height="18" fill="#004dff"/>
<rect x="73" y="718" width="18" height="18" fill="#0064ff"/>
<rect x="91" y="718" width="18" height="18" fill="#0087ff"/>
<rect x="109" y="718" width="18" height="18" fill="#009bff"/>
<rect x="127" y="718" width="19" height="18" fill="#00afff"/>
<rect x="146" y="718" width="18" height="18" fill="#00c3ff"/>
<rect x="164" y="718" width="18" height="18" fill="#00cdff"/>
<rect x="182" y="718" width="18" height="18" fill="#00d7ff"/>
<rect x="200" y="718" width="18" height="18" fill="#00ebff"/>
<rect x="218" y="718" width="18" height="18" fill="#00f5ff"/>
<rect x="236" y="718" width="19" height="18" fill="#00f5ff"/>
<rect x="255" y="718" width="18" height="18" fill="#00ffff"/>
<rect x="273" y="718" width="18" height="18" fill="#00ffff"/>
<rect x="291" y="718" width="18" height="18" fill="#00fff9"/>
<rect x="309" y="718" width="18" height="18" fill="#00ffeb"/>
<rect x="327" y="718" width="18" height="18" fill="#00ffeb"/>
<rect x="345" y="718" width="19" height="18" fill="#00ffeb"/>
<rect x="364" y="718" width="18" height="18" fill="#00ffeb"/>
<rect x="382" y="718" width="18" height="18" fill="#00fff9"/>
<rect x="400" y="718" width="18" height="18" fill="#00fff9"/>
<rect x="418" y="718" width="18" height="18" fill="#00fff9"/>
<rect x="436" y="718" width="18" height="18" fill="#00fff9"/>
<rect x="454" y="718" width="19" height="18" fill="#00f3ff"/>
<rect x="473" y="718" width="18" height="18" fill="#00e9ff"/>
<rect x="491" y="718" width="18" height="18" fill="#00dfff"/>
<rect x="509" y="718" width="18" height="18" fill="#00dfff"/>
<rect x="527" y="718" width="18" height="18" fill="#00c3ff"/>
<rect x="545" y="718" width="18" height="18" fill="#00c3ff"/>
<rect x="563" y="718" width="19" height="18" fill="#00c3ff"/>
<rect x="582" y="718" width="18" height="18" fill="#00cdff"/>
<rect x="600" y="718" width="18" height="18" fill="#00beff"/>
<rect x="618" y="718" width="18" height="18" fill="#00beff"/>
<rect x="636" y="718" width="18" height="18" fill="#00aaff"/>
<rect x="654" y="718" width="19" height="18" fill="#00aaff"/>
<rect x="673" y="718" width="18" height="18" fill="#00a0ff"/>
<rect x="691" y="718" width="18" height="18" fill="#0096ff"/>
<rect x="709" y="718" width="18" height="18" fill="#008cff"/>
<rect x="727" y="718" width="18" height="18" fill="#008cff"/>
<rect x="745" y="718" width="18" height="18" fill="#006eff"/>
<rect x="763" y="718" width="19" height="18" fill="#006eff"/>
<rect x="782" y="718" width="18" height="18" fill="#0078ff"/>
<rect x="0" y="736" width="18" height="18" fill="#0058ff"/>
<rect x="18" y="736" width="19" height="18" fill="#0064ff"/>
<rect x="37" y="736" width="18" height="18" fill="#005eff"/>
<rect x="55" y="736" width="18" height="18" fill="#0058ff"/>
<rect x="73" y="736" width="18" height="18" fill="#0036ff"/>
<rect x="91" y="736" width="18" height="18" fill="#001fff"/>
<rect x="109" y="736" width="18" height="18" fill="#004dff"/>
<rect x="127" y="736" width="19" height="18" fill="#0096ff"/>
<rect x="146" y="736" width="18" height="18" fill="#00aaff"/>
<rect x="164" y="736" width="18" height="18" fill="#00beff"/>
<rect x="182" y="736" width="18" height="18" fill="#00cdff"/>
<rect x="200" y="736" width="18" height="18" fill="#00e1ff"/>
<rect x="218" y="736" width="18" height="18" fill="#00ebff"/>
<rect x="236" y="736" width="19" height="18" fill="#00f5ff"/>
<rect x="255" y="736" width="18" height="18" fill="#00ffff"/>
<rect x="273" y="736" width="18" height="18" fill="#00ffff"/>
<rect x="291" y="736" width="18" height="18" fill="#00ffeb"/>
<rect x="309" y="736" width="18" height="18" fill="#00ffe1"/>
<rect x="327" y="736" width="18" height="18" fill="#00ffe1"/>
<rect x="345" y="736" width="19" height="18" fill="#00ffcd"/>
<rect x="364" y="736" width="18" height="18" fill="#00ffcd"/>
<rect x="382" y="736" width="18" height="18" fill="#00ffcd"/>
<rect x="400" y="736" width="18" height="18" fill="#00ffcd"/>
<rect x="418" y="736" width="18" height="18" fill="#00ffcd"/>
<rect x="436" y="736" width="18" height="18" fill="#00ffe5"/>
<rect x="454" y="736" width="19" height="18" fill="#00fdff"/>
<rect x="473" y="736" width="18" height="18" fill="#00f3ff"/>
<rect x="491" y="736" width="18" height="18" fill="#00e9ff"/>
<rect x="509" y="736" width="18" height="18" fill="#00e9ff"/>
<rect x="527" y="736" width="18" height="18" fill="#00cdff"/>
<rect x="545" y="736" width="18" height="18" fill="#00cdff"/>
<rect x="563" y="736" width="19" height="18" fill="#00cdff"/>
<rect x="582" y="736" width="18" height="18" fill="#00d7ff"/>
<rect x="600" y="736" width="18" height="18" fill="#00c8ff"/>
<rect x="618" y="736" width="18" height="18" fill="#00c8ff"/>
<rect x="636" y="736" width="18" height="18" fill="#00beff"/>
<rect x="654" y="736" width="19" height="18" fill="#00b4ff"/>
<rect x="673" y="736" width="18" height="18" fill="#00a0ff"/>
<rect x="691" y="736" width="18" height="18" fill="#0096ff"/>
<rect x="709" y="736" width="18" height="18" fill="#0096ff"/>
<rect x="727" y="736" width="18" height="18" fill="#008cff"/>
<rect x="745" y="736" width="18" height="18" fill="#0078ff"/>
<rect x="763" y="736" width="19" height="18" fill="#0078ff"/>
<rect x="782" y="736" width="18" height="18" fill="#0082ff"/>
<rect x="0" y="754" width="18" height="18" fill="#006eff"/>
<rect x="18" y="754" width="19" height="18" fill="#0058ff"/>
<rect x="37" y="754" width="18" height="18" fill="#0036ff"/>
<rect x="55" y="754" width="18" height="18" fill="#001fff"/>
<rect x="73" y="754" width="18" height="18" fill="#0008ff"/>
<rect x="91" y="754" width="18" height="18" fill="#0008ff"/>
<rect x="109" y="754" width="18" height="18" fill="#001fff"/>
<rect x="127" y="754" width="19" height="18" fill="#0078ff"/>
<rect x="146" y="754" width="18" height="18" fill="#0096ff"/>
<rect x="164" y="754" width="18" height="18" fill="#00afff"/>
<rect x="182" y="754" width="18" height="18" fill="#00c3ff"/>
<rect x="200" y="754" width="18" height="18" fill="#00d7ff"/>
<rect x="218" y="754" width="18" height="18" fill="#00ebff"/>
<rect x="236" y="754" width="19" height="18" fill="#00f5ff"/>
<rect x="255" y="754" width="18" height="18" fill="#00ffff"/>
<rect x="273" y="754" width="18" height="18" fill="#00ffff"/>
<rect x="291" y="754" width="18" height="18" fill="#00ffeb"/>
<rect x="309" y="754" width="18" height="18" fill="#00ffdd"/>
<rect x="327" y="754" width="18" height="18" fill="#00ffdd"/>
<rect x="345" y="754" width="19" height="18" fill="#00ffc3"/>
<rect x="364" y="754" width="18" height="18" fill="#00ffb9"/>
<rect x="382" y="754" width="18" height="18" fill="#00ffc3"/>
<rect x="400" y="754" width="18" height="18" fill="#00ffc3"/>
<rect x="418" y="754" width="18" height="18" fill="#00ffc3"/>
<rect x="436" y="754" width="18" height="18" fill="#00ffdd"/>
<rect x="454" y="754" width="19" height="18" fill="#00ffef"/>
<rect x="473" y="754" width="18" height="18" fill="#00fdff"/>
<rect x="491" y="754" width="18" height="18" fill="#00f3ff"/>
<rect x="509" y="754" width="18" height="18" fill="#00f3ff"/>
<rect x="527" y="754" width="18" height="18" fill="#00d7ff"/>
<rect x="545" y="754" width="18" height="18" fill="#00d7ff"/>
<rect x="563" y="754" width="19" height="18" fill="#00d7ff"/>
<rect x="582" y="754" width="18" height="18" fill="#00e1ff"/>
<rect x="600" y="754" width="18" height="18" fill="#00dcff"/>
<rect x="618" y="754" width="18" height="18" fill="#00d2ff"/>
<rect x="636" y="754" width="18" height="18" fill="#00c8ff"/>
<rect x="654" y="754" width="19" height="18" fill="#00beff"/>
<rect x="673" y="754" width="18" height="18" fill="#00aaff"/>
<rect x="691" y="754" width="18" height="18" fill="#00a0ff"/>
<rect x="709" y="754" width="18" height="18" fill="#0096ff"/>
<rect x="727" y="754" width="18" height="18" fill="#0096ff"/>
<rect x="745" y="754" width="18" height="18" fill="#0082ff"/>
<rect x="763" y="754" width="19" height="18" fill="#0082ff"/>
<rect x="782" y="754" width="18" height="18" fill="#008cff"/>
</g>
<g fill="#808080" shape-rendering="crispEdges">
<rect x="9" y="28" width="1" height="744"/>
<rect x="0" y="36" width="800" height="1"/>
<rect x="81" y="28" width="1" height="744"/>
<rect x="0" y="109" width="800" height="1"/>
<rect x="154" y="28" width="1" height="744"/>
<rect x="0" y="181" width="800" height="1"/>
<rect x="227" y="28" width="1" height="744"/>
<rect x="0" y="254" width="800" height="1"/>
<rect x="299" y="28" width="1" height="744"/>
<rect x="0" y="327" width="800" height="1"/>
<rect x="372" y="28" width="1" height="744"/>
<rect x="0" y="400" width="800" height="1"/>
<rect x="445" y="28" width="1" height="744"/>
<rect x="0" y="472" width="800" height="1"/>
<rect x="518" y="28" width="1" height="744"/>
<rect x="0" y="545" width="800" height="1"/>
<rect x="590" y="28" width="1" height="744"/>
<rect x="0" y="618" width="800" height="1"/>
<rect x="663" y="28" width="1" height="744"/>
<rect x="0" y="690" width="800" height="1"/>
<rect x="736" y="28" width="1" height="744"/>
<rect x="0" y="763" width="800" height="1"/>
</g>
<g clip-path="url(#mc)"><path fill="none" stroke="#8a8780" stroke-width="1" shape-rendering="crispEdges" d="M771.5 22.9L776.5 22.9L773.5 26.4L775.0 26.4L776.5 27.3L777.0 29.1L776.5 30.8L774.5 31.7L772.5 31.7L771.0 30.8M779.5 24.7L781.5 22.9L781.5 31.7M792.0 24.1L790.5 22.9L787.5 22.9L786.0 24.1L786.0 25.5L787.2 26.6L790.8 27.8L792.0 29.1L792.0 30.5L790.5 31.7L787.5 31.7L786.0 30.5M771.5 95.9L776.5 95.9L773.5 99.4L775.0 99.4L776.5 100.3L777.0 102.1L776.5 103.8L774.5 104.7L772.5 104.7L771.0 103.8M778.8 98.1L779.3 96.8L781.3 95.9L783.3 96.6L784.1 98.1L783.5 99.9L778.5 104.7L784.5 104.7M792.0 97.1L790.5 95.9L787.5 95.9L786.0 97.1L786.0 98.5L787.2 99.6L790.8 100.8L792.0 102.1L792.0 103.5L790.5 104.7L787.5 104.7L786.0 103.5M771.5 167.9L776.5 167.9L773.5 171.4L775.0 171.4L776.5 172.3L777.0 174.1L776.5 175.8L774.5 176.7L772.5 176.7L771.0 175.8M779.0 167.9L784.0 167.9L781.0 171.4L782.5 171.4L784.0 172.3L784.5 174.1L784.0 175.8L782.0 176.7L780.0 176.7L778.5 175.8M792.0 169.1L790.5 167.9L787.5 167.9L786.0 169.1L786.0 170.5L787.2 171.6L790.8 172.8L792.0 174.1L792.0 175.5L790.5 176.7L787.5 176.7L786.0 175.5M771.5 240.9L776.5 240.9L773.5 244.4L775.0 244.4L776.5 245.3L777.0 247.1L776.5 248.8L774.5 249.7L772.5 249.7L771.0 248.8M783.0 249.7L783.0 240.9L778.5 246.9L785.0 246.9M792.0 242.1L790.5 240.9L787.5 240.9L786.0 242.1L786.0 243.5L787.2 244.6L790.8 245.8L792.0 247.1L792.0 248.5L790.5 249.7L787.5 249.7L786.0 248.5M771.5 313.9L776.5 313.9L773.5 317.4L775.0 317.4L776.5 318.3L777.0 320.1L776.5 321.8L774.5 322.7L772.5 322.7L771.0 321.8M784.0 313.9L779.5 313.9L779.0 317.6L781.0 317.0L783.0 317.2L784.5 318.7L784.5 320.9L783.0 322.4L781.0 322.7L779.3 322.3L778.5 321.4M792.0 315.1L790.5 313.9L787.5 313.9L786.0 315.1L786.0 316.5L787.2 317.6L790.8 318.8L792.0 320.1L792.0 321.5L790.5 322.7L787.5 322.7L786.0 321.5M771.5 386.9L776.5 386.9L773.5 390.4L775.0 390.4L776.5 391.3L777.0 393.1L776.5 394.8L774.5 395.7L772.5 395.7L771.0 394.8M783.7 387.6L782.0 386.9L780.0 387.6L778.8 389.5L778.5 392.2L779.0 394.6L781.0 395.7L783.0 395.3L784.3 393.8L784.3 392.2L783.0 390.6L781.0 390.4L779.3 391.3L778.5 392.6M792.0 388.1L790.5 386.9L787.5 386.9L786.0 388.1L786.0 389.5L787.2 390.6L790.8 391.8L792.0 393.1L792.0 394.5L790.5 395.7L787.5 395.7L786.0 394.5M771.5 458.9L776.5 458.9L773.5 462.4L775.0 462.4L776.5 463.3L777.0 465.1L776.5 466.8L774.5 467.7L772.5 467.7L771.0 466.8M778.5 458.9L784.5 458.9L780.5 467.7M792.0 460.1L790.5 458.9L787.5 458.9L786.0 460.1L786.0 461.5L787.2 462.6L790.8 463.8L792.0 465.1L792.0 466.5L790.5 467.7L787.5 467.7L786.0 466.5M771.5 531.9L776.5 531.9L773.5 535.4L775.0 535.4L776.5 536.3L777.0 538.1L776.5 539.8L774.5 540.7L772.5 540.7L771.0 539.8M781.5 531.9L779.5 532.6L779.3 534.4L781.0 535.7L783.5 536.7L784.5 538.5L783.5 540.3L781.5 540.7L779.5 540.3L778.5 538.5L779.5 536.7L782.0 535.7L783.7 534.4L783.5 532.6L781.5 531.9M792.0 533.1L790.5 531.9L787.5 531.9L786.0 533.1L786.0 534.5L787.2 535.6L790.8 536.8L792.0 538.1L792.0 539.5L790.5 540.7L787.5 540.7L786.0 539.5M771.5 604.9L776.5 604.9L773.5 608.4L775.0 608.4L776.5 609.3L777.0 611.1L776.5 612.8L774.5 613.7L772.5 613.7L771.0 612.8M784.3 608.0L783.0 609.7L781.3 610.2L779.5 609.5L778.5 607.7L779.3 605.6L781.3 604.9L783.3 605.6L784.3 608.0L784.1 610.6L783.0 612.8L781.3 613.7L779.3 613.3M792.0 606.1L790.5 604.9L787.5 604.9L786.0 606.1L786.0 607.5L787.2 608.6L790.8 609.8L792.0 611.1L792.0 612.5L790.5 613.7L787.5 613.7L786.0 612.5M775.5 685.7L775.5 676.9L771.0 682.9L777.5 682.9M781.5 676.9L779.5 677.6L778.7 679.5L778.5 681.3L778.7 683.1L779.5 685.0L781.5 685.7L783.5 685.0L784.3 683.1L784.5 681.3L784.3 679.5L783.5 677.6L781.5 676.9M792.0 678.1L790.5 676.9L787.5 676.9L786.0 678.1L786.0 679.5L787.2 680.6L790.8 681.8L792.0 683.1L792.0 684.5L790.5 685.7L787.5 685.7L786.0 684.5M775.5 758.7L775.5 749.9L771.0 755.9L777.5 755.9M779.5 751.7L781.5 749.9L781.5 758.7M792.0 751.1L790.5 749.9L787.5 749.9L786.0 751.1L786.0 752.5L787.2 753.6L790.8 754.8L792.0 756.1L792.0 757.5L790.5 758.7L787.5 758.7L786.0 757.5M22.1 748.3L22.8 746.9L22.1 745.2L20.2 744.2L17.5 744.0L15.1 744.4L14.0 746.0L14.4 747.7L15.9 748.8L17.5 748.8L19.1 747.7L19.3 746.0L18.4 744.7L17.1 744.0M21.0 751.4L22.8 753.0L14.0 753.0M22.8 757.1L14.0 758.6L21.5 760.2L14.0 761.9L22.8 763.4M94.1 748.3L94.8 746.9L94.1 745.2L92.2 744.2L89.5 744.0L87.1 744.4L86.0 746.0L86.4 747.7L87.9 748.8L89.5 748.8L91.1 747.7L91.3 746.0L90.4 744.7L89.1 744.0M94.8 753.0L94.1 751.4L92.2 750.7L90.4 750.6L88.6 750.7L86.7 751.4L86.0 753.0L86.7 754.7L88.6 755.3L90.4 755.5L92.2 755.3L94.1 754.7L94.8 753.0M94.8 757.1L86.0 758.6L93.5 760.2L86.0 761.9L94.8 763.4M167.8 748.5L167.8 744.8L164.1 744.4L164.7 746.0L164.5 747.7L163.0 748.9L160.8 748.9L159.3 747.7L159.0 746.0L159.4 744.7L160.3 744.0M164.7 755.3L163.0 754.2L162.5 752.9L163.2 751.4L165.0 750.6L167.1 751.2L167.8 752.9L167.1 754.5L164.7 755.3L162.1 755.2L159.9 754.2L159.0 752.9L159.4 751.2M167.8 757.1L159.0 758.6L166.5 760.2L159.0 761.9L167.8 763.4M240.8 748.5L240.8 744.8L237.1 744.4L237.7 746.0L237.5 747.7L236.0 748.9L233.8 748.9L232.3 747.7L232.0 746.0L232.4 744.7L233.3 744.0M240.8 753.0L240.1 751.4L238.3 751.2L237.0 752.6L236.0 754.7L234.2 755.5L232.4 754.7L232.0 753.0L232.4 751.4L234.2 750.6L236.0 751.4L237.0 753.4L238.3 754.8L240.1 754.7L240.8 753.0M240.8 757.1L232.0 758.6L239.5 760.2L232.0 761.9L240.8 763.4M312.8 748.5L312.8 744.8L309.1 744.4L309.7 746.0L309.5 747.7L308.0 748.9L305.8 748.9L304.3 747.7L304.0 746.0L304.4 744.7L305.3 744.0M312.8 750.6L312.8 755.5L304.0 752.2M312.8 757.1L304.0 758.6L311.5 760.2L304.0 761.9L312.8 763.4M385.8 748.5L385.8 744.8L382.1 744.4L382.7 746.0L382.5 747.7L381.0 748.9L378.8 748.9L377.3 747.7L377.0 746.0L377.4 744.7L378.3 744.0M385.1 754.8L385.8 753.4L385.1 751.8L383.2 750.8L380.5 750.6L378.1 751.0L377.0 752.6L377.4 754.2L378.9 755.3L380.5 755.3L382.1 754.2L382.3 752.6L381.4 751.2L380.1 750.6M385.8 757.1L377.0 758.6L384.5 760.2L377.0 761.9L385.8 763.4M458.8 748.5L458.8 744.8L455.1 744.4L455.7 746.0L455.5 747.7L454.0 748.9L451.8 748.9L450.3 747.7L450.0 746.0L450.4 744.7L451.3 744.0M458.8 755.1L458.8 751.4L455.1 751.0L455.7 752.6L455.5 754.2L454.0 755.5L451.8 755.5L450.3 754.2L450.0 752.6L450.4 751.2L451.3 750.6M458.8 757.1L450.0 758.6L457.5 760.2L450.0 761.9L458.8 763.4M531.8 748.5L531.8 744.8L528.1 744.4L528.7 746.0L528.5 747.7L527.0 748.9L524.8 748.9L523.3 747.7L523.0 746.0L523.4 744.7L524.3 744.0M523.0 754.2L531.8 754.2L525.8 750.6L525.8 755.9M531.8 757.1L523.0 758.6L530.5 760.2L523.0 761.9L531.8 763.4M603.8 748.5L603.8 744.8L600.1 744.4L600.7 746.0L600.5 747.7L599.0 748.9L596.8 748.9L595.3 747.7L595.0 746.0L595.4 744.7L596.3 744.0M603.8 751.0L603.8 755.1L600.3 752.6L600.3 753.8L599.4 755.1L597.6 755.5L595.9 755.1L595.0 753.4L595.0 751.8L595.9 750.6M603.8 757.1L595.0 758.6L602.5 760.2L595.0 761.9L603.8 763.4M676.8 748.5L676.8 744.8L673.1 744.4L673.7 746.0L673.5 747.7L672.0 748.9L669.8 748.9L668.3 747.7L668.0 746.0L668.4 744.7L669.3 744.0M674.6 750.8L675.9 751.2L676.8 752.9L676.1 754.5L674.6 755.2L672.8 754.7L668.0 750.6L668.0 755.5M676.8 757.1L668.0 758.6L675.5 760.2L668.0 761.9L676.8 763.4M749.8 748.5L749.8 744.8L746.1 744.4L746.7 746.0L746.5 747.7L745.0 748.9L742.8 748.9L741.3 747.7L741.0 746.0L741.4 744.7L742.3 744.0M748.0 751.4L749.8 753.0L741.0 753.0M749.8 757.1L741.0 758.6L748.5 760.2L741.0 761.9L749.8 763.4"/></g>
<g clip-path="url(#mc)"><path fill="none" stroke="#fff" stroke-width="1" stroke-linecap="square" shape-rendering="crispEdges" d="M718.1 36.8L714.1 36.8M716.4 38.0L714.1 36.8L716.4 35.6M772.6 36.8L765.7 37.4M769.1 38.9L765.7 37.4L768.8 35.3M790.8 36.8L782.8 37.5M786.7 39.2L782.8 37.5L786.3 35.2M700.0 55.0L691.0 55.0M695.0 57.2L691.0 55.0L695.0 52.8M718.1 55.0L709.1 55.0M713.2 57.2L709.1 55.0L713.2 52.8M754.5 55.0L745.5 55.0M749.5 57.2L745.5 55.0L749.5 52.8M772.6 55.0L762.7 55.8M767.3 57.8L762.7 55.8L766.8 53.1M790.8 55.0L780.0 56.9M785.1 58.6L780.0 56.9L784.2 53.5M681.8 73.1L671.8 73.1M676.2 75.5L671.8 73.1L676.2 70.7M700.0 73.1L688.0 73.1M693.0 75.9L688.0 73.1L693.0 70.4M718.1 73.1L707.2 72.2M711.7 75.2L707.2 72.2L712.1 70.0M736.3 73.1L727.3 73.1M731.3 75.3L727.3 73.1L731.3 70.9M754.5 73.1L745.8 75.5M750.2 76.6L745.8 75.5L749.1 72.3M772.6 73.1L763.2 76.6M768.2 77.3L763.2 76.6L766.5 72.8M790.8 73.1L780.5 76.9M785.8 77.7L780.5 76.9L784.0 72.8M663.6 91.3L657.6 91.3M660.6 92.9L657.6 91.3L660.6 89.7M681.8 91.3L671.8 90.4M676.0 93.2L671.8 90.4L676.4 88.4M700.0 91.3L691.0 91.3M695.0 93.5L691.0 91.3L695.0 89.1M718.1 91.3L710.1 91.3M713.8 93.3L710.1 91.3L713.8 89.3M736.3 91.3L729.3 91.3M732.6 93.1L729.3 91.3L732.6 89.5M754.5 91.3L746.0 94.4M750.6 95.1L746.0 94.4L749.1 90.9M772.6 91.3L763.6 95.5M768.6 95.9L763.6 95.5L766.5 91.5M790.8 91.3L781.4 94.7M786.4 95.5L781.4 94.7L784.7 91.0M681.8 109.5L673.3 106.4M676.4 109.9L673.3 106.4L677.9 105.7M700.0 109.5L691.8 105.7M694.5 109.4L691.8 105.7L696.4 105.4M718.1 109.5L711.8 106.5M714.0 109.6L711.8 106.5L715.6 106.3M736.3 109.5L731.3 109.5M733.9 110.9L731.3 109.5L733.9 108.0M754.5 109.5L746.3 113.3M750.9 113.6L746.3 113.3L749.0 109.6M772.6 109.5L764.5 113.3M769.1 113.6L764.5 113.3L767.2 109.6M790.8 109.5L783.9 110.7M787.5 111.9L783.9 110.7L786.9 108.3M663.6 127.7L655.6 127.7M659.3 129.7L655.6 127.7L659.3 125.6M681.8 127.7L673.1 122.7M675.7 126.9L673.1 122.7L678.1 122.8M700.0 127.7L694.3 122.0M695.5 126.0L694.3 122.0L698.3 123.2M718.1 127.7L714.0 124.8M715.4 127.5L714.0 124.8L717.0 125.1M736.3 127.7L731.4 126.8M733.7 128.7L731.4 126.8L734.2 125.8M754.5 127.7L747.2 131.0M751.4 131.3L747.2 131.0L749.7 127.6M772.6 127.7L765.4 131.0M769.6 131.3L765.4 131.0L767.9 127.6M790.8 127.7L784.8 127.7M787.8 129.3L784.8 127.7L787.8 126.0M645.5 145.8L637.7 143.7M640.8 146.6L637.7 143.7L641.8 142.8M663.6 145.8L655.5 142.0M658.2 145.7L655.5 142.0L660.1 141.7M681.8 145.8L673.6 140.1M675.8 144.6L673.6 140.1L678.6 140.6M700.0 145.8L695.5 140.5M696.2 144.2L695.5 140.5L699.0 141.8M718.1 145.8L715.6 141.5M715.7 144.5L715.6 141.5L718.2 143.1M736.3 145.8L733.3 145.8M735.2 146.9L733.3 145.8L735.2 144.8M754.5 145.8L751.6 148.6M754.1 147.9L751.6 148.6L752.4 146.2M772.6 145.8L769.8 148.6M772.3 147.9L769.8 148.6L770.5 146.2M790.8 145.8L787.7 143.2M788.7 145.7L787.7 143.2L790.3 143.8M645.5 164.0L639.1 161.0M641.4 164.1L639.1 161.0L642.9 160.8M663.6 164.0L657.1 159.4M658.9 163.2L657.1 159.4L661.2 159.9M681.8 164.0L676.6 157.9M677.5 162.0L676.6 157.9L680.6 159.4M700.0 164.0L697.9 158.4M697.4 161.7L697.9 158.4L700.5 160.6M718.1 164.0L717.3 159.1M716.3 161.9L717.3 159.1L719.1 161.4M736.3 164.0L734.4 163.3M735.7 164.8L734.4 163.3L736.4 163.0M754.5 164.0L751.9 165.5M754.1 165.4L751.9 165.5L753.0 163.6M772.6 164.0L770.8 163.3M772.1 164.8L770.8 163.3L772.7 163.0M790.8 164.0L787.8 158.8M787.9 162.2L787.8 158.8L790.7 160.6M627.3 182.2L619.6 180.1M622.6 183.0L619.6 180.1L623.6 179.1M645.5 182.2L640.5 178.7M642.0 181.8L640.5 178.7L643.9 179.1M663.6 182.2L658.7 177.2M659.7 180.9L658.7 177.2L662.3 178.3M681.8 182.2L679.7 176.5M679.2 179.9L679.7 176.5L682.3 178.8M700.0 182.2L698.9 176.3M697.8 179.5L698.9 176.3L701.0 178.9M718.1 182.2L718.1 177.2M716.7 179.8L718.1 177.2L719.6 179.8M736.3 182.2L736.6 180.2M735.4 181.8L736.6 180.2L737.3 182.1M754.5 182.2L753.8 180.3M753.5 182.3L753.8 180.3L755.3 181.6M772.6 182.2L772.6 178.2M771.4 180.4L772.6 178.2L773.9 180.4M790.8 182.2L787.3 176.1M787.4 179.9L787.3 176.1L790.6 178.1M609.1 200.3L601.2 198.9M604.5 201.6L601.2 198.9L605.2 197.6M627.3 200.3L619.6 198.3M622.6 201.2L619.6 198.3L623.6 197.3M645.5 200.3L639.7 196.3M641.4 199.7L639.7 196.3L643.5 196.7M663.6 200.3L659.6 194.6M660.0 198.4L659.6 194.6L663.0 196.3M681.8 200.3L680.7 194.4M679.7 197.6L680.7 194.4L682.9 197.1M700.0 200.3L700.0 194.3M698.3 197.3L700.0 194.3L701.6 197.3M718.1 200.3L720.2 194.7M717.6 196.9L720.2 194.7L720.7 198.1M736.3 200.3L738.8 196.0M736.2 197.6L738.8 196.0L738.7 199.0M754.5 200.3L754.5 196.3M753.2 198.6L754.5 196.3L755.7 198.6M772.6 200.3L771.4 193.4M770.2 197.0L771.4 193.4L773.8 196.4M790.8 200.3L785.1 192.1M785.6 197.1L785.1 192.1L789.6 194.4M590.9 218.5L583.9 218.5M587.3 220.3L583.9 218.5L587.3 216.7M609.1 218.5L601.1 218.5M604.8 220.5L601.1 218.5L604.8 216.5M627.3 218.5L619.8 215.8M622.5 218.9L619.8 215.8L623.9 215.1M645.5 218.5L641.2 214.3M642.2 217.5L641.2 214.3L644.5 215.2M663.6 218.5L661.1 214.2M661.2 217.2L661.1 214.2L663.7 215.7M681.8 218.5L679.7 212.9M679.2 216.2L679.7 212.9L682.3 215.1M700.0 218.5L700.0 212.5M698.3 215.5L700.0 212.5L701.6 215.5M718.1 218.5L721.6 212.4M718.4 214.4L721.6 212.4L721.5 216.2M736.3 218.5L739.7 213.6M736.7 215.1L739.7 213.6L739.4 217.0M754.5 218.5L754.5 211.5M752.6 214.8L754.5 211.5L756.3 214.8M772.6 218.5L770.1 208.8M768.9 213.7L770.1 208.8L773.5 212.5M790.8 218.5L783.7 211.4M785.1 216.2L783.7 211.4L788.5 212.8M572.8 236.7L565.8 236.7M569.1 238.5L565.8 236.7L569.1 234.8M590.9 236.7L584.0 236.1M587.1 238.2L584.0 236.1L587.4 234.5M609.1 236.7L601.1 236.0M604.6 238.3L601.1 236.0L605.0 234.3M627.3 236.7L621.2 233.2M623.2 236.4L621.2 233.2L625.0 233.3M645.5 236.7L641.9 233.1M642.8 236.0L641.9 233.1L644.8 234.0M663.6 236.7L661.1 232.3M661.2 235.3L661.1 232.3L663.7 233.9M681.8 236.7L679.7 231.0M679.2 234.4L679.7 231.0L682.3 233.3M700.0 236.7L700.5 230.7M698.6 233.5L700.5 230.7L701.8 233.8M718.1 236.7L722.1 230.9M718.7 232.6L722.1 230.9L721.7 234.7M736.3 236.7L740.2 232.1M737.0 233.3L740.2 232.1L739.5 235.4M754.5 236.7L754.5 229.7M752.6 233.0L754.5 229.7L756.3 233.0M772.6 236.7L770.1 227.0M768.9 231.9L770.1 227.0L773.5 230.6M790.8 236.7L783.7 229.6M785.1 234.4L783.7 229.6L788.5 231.0M554.6 254.8L549.9 253.1M551.9 255.4L549.9 253.1L552.9 252.7M572.8 254.8L567.0 253.3M569.4 255.6L567.0 253.3L570.3 252.5M590.9 254.8L585.0 253.8M587.7 255.9L585.0 253.8L588.3 252.7M609.1 254.8L603.5 252.8M605.7 255.3L603.5 252.8L606.8 252.3M627.3 254.8L622.4 251.4M623.9 254.4L622.4 251.4L625.7 251.8M645.5 254.8L641.6 250.2M642.3 253.6L641.6 250.2L644.8 251.5M663.6 254.8L661.1 250.5M661.2 253.5L661.1 250.5L663.7 252.1M681.8 254.8L680.1 250.1M679.6 253.1L680.1 250.1L682.3 252.1M700.0 254.8L700.0 249.8M698.5 252.5L700.0 249.8L701.4 252.5M718.1 254.8L720.6 250.5M718.1 252.1L720.6 250.5L720.6 253.5M736.3 254.8L736.3 250.8M735.1 253.1L736.3 250.8L737.5 253.1M754.5 254.8L754.5 246.8M752.5 250.5L754.5 246.8L756.5 250.5M772.6 254.8L771.8 244.9M769.8 249.5L771.8 244.9L774.5 249.0M790.8 254.8L784.8 254.8M787.8 256.5L784.8 254.8L787.8 253.2M209.4 273.0L205.4 279.9M209.0 277.8L205.4 279.9L205.5 275.7M554.6 273.0L550.4 268.8M551.3 272.0L550.4 268.8L553.6 269.7M572.8 273.0L566.0 271.2M568.8 273.8L566.0 271.2L569.7 270.3M590.9 273.0L584.0 271.8M587.0 274.2L584.0 271.8L587.6 270.6M609.1 273.0L604.2 269.6M605.7 272.6L604.2 269.6L607.6 269.9M627.3 273.0L623.0 268.8M624.0 272.0L623.0 268.8L626.3 269.7M645.5 273.0L641.6 268.4M642.3 271.7L641.6 268.4L644.8 269.7M663.6 273.0L661.1 268.7M661.2 271.7L661.1 268.7L663.7 270.2M681.8 273.0L680.1 268.3M679.6 271.3L680.1 268.3L682.3 270.3M700.0 273.0L700.0 269.0M698.7 271.3L700.0 269.0L701.2 271.3M718.1 273.0L718.1 270.0M717.1 271.9L718.1 270.0L719.2 271.9M736.3 273.0L736.3 272.0M735.3 273.8L736.3 272.0L737.3 273.8M754.5 273.0L754.5 264.0M752.3 268.0L754.5 264.0L756.7 268.0M772.6 273.0L772.6 263.0M770.2 267.4L772.6 263.0L775.0 267.4M790.8 273.0L784.8 273.0M787.8 274.6L784.8 273.0L787.8 271.4M209.4 291.2L204.2 298.6M208.3 296.5L204.2 298.6L204.7 294.0M227.5 291.2L224.0 297.2M227.3 295.3L224.0 297.2L224.1 293.4M245.7 291.2L241.7 298.1M245.3 295.9L241.7 298.1L241.8 293.9M263.9 291.2L260.1 299.3M263.8 296.6L260.1 299.3L259.8 294.7M282.1 291.2L278.2 299.3M282.0 296.6L278.2 299.3L278.0 294.7M536.4 291.2L534.7 286.5M534.3 289.4L534.7 286.5L537.0 288.5M554.6 291.2L549.7 287.7M551.2 290.8L549.7 287.7L553.1 288.1M572.8 291.2L567.8 291.2M570.4 292.6L567.8 291.2L570.4 289.7M590.9 291.2L584.9 291.2M587.9 292.8L584.9 291.2L587.9 289.5M609.1 291.2L603.9 288.2M605.7 291.1L603.9 288.2L607.3 288.3M627.3 291.2L622.7 287.3M623.9 290.5L622.7 287.3L626.0 288.0M645.5 291.2L641.6 286.6M642.3 289.9L641.6 286.6L644.8 287.8M663.6 291.2L660.8 287.1M661.1 290.1L660.8 287.1L663.4 288.4M681.8 291.2L682.1 287.2M680.7 289.4L682.1 287.2L683.2 289.6M700.0 291.2L700.6 289.3M699.1 290.6L700.6 289.3L700.9 291.3M718.1 291.2L718.6 290.3M716.9 291.4L718.6 290.3L718.6 292.3M736.3 291.2L736.8 290.3M735.1 291.4L736.8 290.3L736.8 292.3M754.5 291.2L754.5 280.2M751.9 284.9L754.5 280.2L757.1 284.9M772.6 291.2L772.6 281.2M770.2 285.6L772.6 281.2L775.0 285.6M790.8 291.2L784.8 291.2M787.8 292.8L784.8 291.2L787.8 289.5M227.5 309.4L225.0 313.7M227.6 312.1L225.0 313.7L225.1 310.7M245.7 309.4L241.7 316.3M245.3 314.1L241.7 316.3L241.8 312.1M263.9 309.4L260.1 317.5M263.8 314.8L260.1 317.5L259.8 312.9M282.1 309.4L278.6 318.7M282.4 315.4L278.6 318.7L277.9 313.8M300.2 309.4L296.8 318.7M300.6 315.4L296.8 318.7L296.0 313.8M318.4 309.4L315.0 316.6M318.4 314.1L315.0 316.6L314.7 312.4M500.1 309.4L500.1 308.4M499.1 310.1L500.1 308.4L501.0 310.1M518.3 309.4L518.3 307.4M517.3 309.1L518.3 307.4L519.2 309.1M536.4 309.4L533.9 305.0M534.0 308.0L533.9 305.0L536.5 306.6M554.6 309.4L550.5 306.5M551.8 309.2L550.5 306.5L553.5 306.8M572.8 309.4L566.8 308.8M569.6 310.7L566.8 308.8L569.9 307.5M590.9 309.4L585.9 309.4M588.6 310.8L585.9 309.4L588.6 307.9M609.1 309.4L604.6 307.2M606.4 309.7L604.6 307.2L607.6 307.0M627.3 309.4L622.4 305.9M623.9 309.0L622.4 305.9L625.7 306.3M645.5 309.4L641.9 305.8M642.8 308.7L641.9 305.8L644.8 306.7M663.6 309.4L661.0 306.3M661.6 308.8L661.0 306.3L663.5 307.2M681.8 309.4L683.2 305.6M681.2 307.3L683.2 305.6L683.5 308.2M700.0 309.4L702.0 305.9M699.7 307.2L702.0 305.9L701.9 308.5M718.1 309.4L720.7 306.3M718.3 307.2L720.7 306.3L720.2 308.8M736.3 309.4L736.3 307.4M735.3 309.1L736.3 307.4L737.3 309.1M754.5 309.4L754.5 298.4M751.9 303.1L754.5 298.4L757.1 303.1M772.6 309.4L772.6 300.4M770.4 304.4L772.6 300.4L774.8 304.4M790.8 309.4L785.6 312.4M789.0 312.3L785.6 312.4L787.4 309.4M263.9 327.5L260.2 337.7M264.2 334.2L260.2 337.7L259.4 332.4M282.1 327.5L278.6 340.6M283.0 335.9L278.6 340.6L277.0 334.3M300.2 327.5L297.6 342.6M302.0 337.0L297.6 342.6L295.3 335.8M318.4 327.5L316.0 340.8M320.0 335.8L316.0 340.8L314.0 334.8M336.6 327.5L333.1 340.6M337.5 335.9L333.1 340.6L331.6 334.3M354.7 327.5L351.5 339.7M355.6 335.3L351.5 339.7L350.0 333.8M372.9 327.5L368.3 340.2M373.1 336.0L368.3 340.2L367.3 333.9M391.1 327.5L387.1 338.5M391.3 334.8L387.1 338.5L386.2 332.9M409.2 327.5L406.7 331.9M409.3 330.3L406.7 331.9L406.8 328.9M427.4 327.5L424.9 331.9M427.5 330.3L424.9 331.9L425.0 328.9M445.6 327.5L443.1 331.9M445.6 330.3L443.1 331.9L443.2 328.9M463.8 327.5L462.0 330.0M464.0 329.0L462.0 330.0L462.3 327.8M481.9 327.5L480.9 330.3M482.5 328.9L480.9 330.3L480.6 328.2M500.1 327.5L500.1 328.5M501.0 326.8L500.1 328.5L499.1 326.8M518.3 327.5L518.3 329.5M519.2 327.8L518.3 329.5L517.3 327.8M536.4 327.5L533.6 323.4M533.9 326.4L533.6 323.4L536.3 324.8M554.6 327.5L551.1 324.0M551.9 326.9L551.1 324.0L553.9 324.8M572.8 327.5L567.8 326.7M570.2 328.5L567.8 326.7L570.7 325.7M590.9 327.5L585.9 327.5M588.6 329.0L585.9 327.5L588.6 326.1M609.1 327.5L604.4 325.8M606.4 328.1L604.4 325.8L607.4 325.4M627.3 327.5L623.2 324.7M624.5 327.3L623.2 324.7L626.2 325.0M645.5 327.5L642.4 324.9M643.3 327.4L642.4 324.9L644.9 325.5M663.6 327.5L663.3 326.6M663.0 328.6L663.3 326.6L664.8 327.9M681.8 327.5L683.7 325.2M681.7 326.0L683.7 325.2L683.3 327.4M700.0 327.5L703.4 322.6M700.4 324.1L703.4 322.6L703.0 326.0M718.1 327.5L722.1 320.6M718.5 322.8L722.1 320.6L722.0 324.8M736.3 327.5L738.4 319.8M735.5 322.8L738.4 319.8L739.4 323.9M754.5 327.5L756.4 316.7M753.0 320.9L756.4 316.7L758.1 321.8M772.6 327.5L772.6 326.5M771.7 328.3L772.6 326.5L773.6 328.3M790.8 327.5L785.9 331.0M789.3 330.6L785.9 331.0L787.4 327.9M300.2 345.7L297.4 361.6M302.1 355.8L297.4 361.6L295.0 354.5M318.4 345.7L315.2 362.5M320.2 356.4L315.2 362.5L312.8 355.0M336.6 345.7L333.7 359.8M338.1 354.6L333.7 359.8L331.7 353.4M354.7 345.7L351.4 359.7M355.9 354.7L351.4 359.7L349.6 353.2M372.9 345.7L369.5 358.8M373.9 354.1L369.5 358.8L368.0 352.6M391.1 345.7L387.2 357.7M391.6 353.5L387.2 357.7L386.1 351.7M409.2 345.7L405.2 352.6M408.8 350.4L405.2 352.6L405.3 348.4M427.4 345.7L424.0 352.9M427.4 350.5L424.0 352.9L423.8 348.7M445.6 345.7L443.2 352.3M446.0 349.8L443.2 352.3L442.6 348.5M463.8 345.7L461.2 351.1M464.0 349.1L461.2 351.1L461.0 347.7M481.9 345.7L479.1 349.8M481.7 348.5L479.1 349.8L479.4 346.8M500.1 345.7L498.4 346.7M500.4 346.6L498.4 346.7L499.4 345.0M518.3 345.7L516.3 345.7M518.0 346.6L516.3 345.7L518.0 344.7M536.4 345.7L533.6 341.6M533.9 344.6L533.6 341.6L536.3 342.9M554.6 345.7L551.1 342.2M551.9 345.0L551.1 342.2L553.9 343.0M572.8 345.7L568.1 344.0M570.1 346.2L568.1 344.0L571.0 343.5M590.9 345.7L585.9 345.7M588.6 347.1L585.9 345.7L588.6 344.3M609.1 345.7L604.6 343.6M606.4 346.0L604.6 343.6L607.6 343.4M627.3 345.7L624.0 343.4M625.2 345.7L624.0 343.4L626.6 343.7M645.5 345.7L644.7 345.0M645.4 346.9L644.7 345.0L646.6 345.4M663.6 345.7L663.3 344.8M663.0 346.7L663.3 344.8L664.8 346.1M681.8 345.7L683.3 343.1M681.4 344.2L683.3 343.1L683.2 345.3M700.0 345.7L704.5 339.1M700.8 341.0L704.5 339.1L704.1 343.3M718.1 345.7L722.6 337.9M718.7 340.3L722.6 337.9L722.5 342.5M736.3 345.7L739.7 336.3M736.0 339.6L739.7 336.3L740.5 341.2M754.5 345.7L757.9 336.3M754.1 339.6L757.9 336.3L758.6 341.2M772.6 345.7L772.6 344.7M771.7 346.4L772.6 344.7L773.6 346.4M790.8 345.7L783.7 352.8M788.5 351.4L783.7 352.8L785.1 348.0M300.2 363.9L299.7 379.2M303.3 373.0L299.7 379.2L296.5 372.8M318.4 363.9L316.7 380.0M321.0 373.8L316.7 380.0L313.8 373.1M336.6 363.9L335.3 378.2M339.1 372.6L335.3 378.2L332.6 372.0M354.7 363.9L352.7 378.1M356.7 372.7L352.7 378.1L350.3 371.8M372.9 363.9L371.0 377.2M374.8 372.1L371.0 377.2L368.8 371.2M391.1 363.9L388.9 376.3M392.7 371.6L388.9 376.3L387.0 370.5M409.2 363.9L407.7 372.7M410.6 369.1L407.7 372.7L406.2 368.4M427.4 363.9L426.0 371.7M428.6 368.5L426.0 371.7L424.7 367.8M445.6 363.9L444.2 371.7M446.8 368.5L444.2 371.7L442.8 367.8M463.8 363.9L461.4 370.4M464.2 367.9L461.4 370.4L460.8 366.7M481.9 363.9L479.4 369.3M482.1 367.3L479.4 369.3L479.2 365.9M500.1 363.9L498.7 365.3M500.6 364.7L498.7 365.3L499.2 363.4M518.3 363.9L516.3 363.9M518.0 364.8L516.3 363.9L518.0 362.9M536.4 363.9L532.9 360.3M533.7 363.2L532.9 360.3L535.8 361.2M554.6 363.9L551.4 360.0M552.0 363.0L551.4 360.0L554.2 361.1M572.8 363.9L567.8 363.0M570.2 364.9L567.8 363.0L570.7 362.0M590.9 363.9L585.9 363.9M588.6 365.3L585.9 363.9L588.6 362.4M609.1 363.9L605.4 362.5M607.1 364.4L605.4 362.5L607.9 362.1M627.3 363.9L626.4 363.4M627.5 365.1L626.4 363.4L628.4 363.4M645.5 363.9L644.7 363.2M645.4 365.1L644.7 363.2L646.6 363.6M663.6 363.9L663.3 362.9M663.0 364.9L663.3 362.9L664.8 364.2M681.8 363.9L683.8 360.4M681.6 361.7L683.8 360.4L683.7 363.0M700.0 363.9L705.1 356.5M701.0 358.5L705.1 356.5L704.6 361.1M718.1 363.9L723.1 355.2M718.9 357.8L723.1 355.2L723.0 360.2M736.3 363.9L740.5 354.8M736.5 357.8L740.5 354.8L740.8 359.8M754.5 363.9L757.9 354.5M754.1 357.8L757.9 354.5L758.6 359.4M772.6 363.9L772.6 362.9M771.7 364.6L772.6 362.9L773.6 364.6M790.8 363.9L783.0 371.6M788.2 370.1L783.0 371.6L784.6 366.5M282.1 382.0L281.6 391.0M284.0 387.1L281.6 391.0L279.6 386.9M300.2 382.0L299.4 396.4M303.0 390.7L299.4 396.4L296.5 390.3M318.4 382.0L317.5 397.3M321.3 391.3L317.5 397.3L314.5 390.9M336.6 382.0L335.3 396.4M339.1 390.7L335.3 396.4L332.6 390.2M354.7 382.0L353.4 396.4M357.2 390.8L353.4 396.4L350.7 390.2M372.9 382.0L371.2 395.4M375.0 390.2L371.2 395.4L368.9 389.5M391.1 382.0L389.7 394.6M393.2 389.6L389.7 394.6L387.4 389.0M409.2 382.0L409.2 391.0M411.4 387.0L409.2 391.0L407.0 387.0M427.4 382.0L427.4 391.0M429.6 387.0L427.4 391.0L425.2 387.0M445.6 382.0L444.9 390.0M447.2 386.5L444.9 390.0L443.2 386.2M463.8 382.0L461.4 388.6M464.2 386.1L461.4 388.6L460.8 384.9M481.9 382.0L478.9 387.2M481.8 385.5L478.9 387.2L479.0 383.8M500.1 382.0L496.3 385.2M499.2 384.7L496.3 385.2L497.4 382.4M518.3 382.0L516.3 382.0M518.0 383.0L516.3 382.0L518.0 381.1M536.4 382.0L532.3 379.2M533.7 381.9L532.3 379.2L535.3 379.5M554.6 382.0L550.8 378.8M551.9 381.6L550.8 378.8L553.7 379.4M572.8 382.0L568.1 380.3M570.1 382.6L568.1 380.3L571.0 379.9M590.9 382.0L585.9 382.0M588.6 383.5L585.9 382.0L588.6 380.6M609.1 382.0L605.4 380.7M607.1 382.6L605.4 380.7L607.9 380.3M627.3 382.0L626.4 381.5M627.5 383.2L626.4 381.5L628.4 381.6M645.5 382.0L644.7 381.4M645.4 383.2L644.7 381.4L646.6 381.8M663.6 382.0L663.6 381.0M662.7 382.8L663.6 381.0L664.6 382.8M681.8 382.0L683.8 378.6M681.6 379.9L683.8 378.6L683.7 381.2M700.0 382.0L704.5 374.2M700.5 376.6L704.5 374.2L704.4 378.8M718.1 382.0L722.4 373.0M718.3 375.9L722.4 373.0L722.7 378.0M736.3 382.0L739.7 372.6M736.0 375.9L739.7 372.6L740.5 377.6M754.5 382.0L757.1 372.4M753.6 376.0L757.1 372.4L758.2 377.2M772.6 382.0L771.6 382.0M773.4 383.0L771.6 382.0L773.4 381.1M790.8 382.0L781.6 389.7M787.3 388.6L781.6 389.7L783.7 384.3M282.1 400.2L282.1 405.2M283.5 402.6L282.1 405.2L280.6 402.6M300.2 400.2L300.0 411.9M302.8 407.0L300.0 411.9L297.4 406.9M318.4 400.2L318.4 412.8M321.3 407.5L318.4 412.8L315.5 407.5M336.6 400.2L336.1 413.7M339.3 408.2L336.1 413.7L333.2 408.0M354.7 400.2L354.3 413.7M357.5 408.2L354.3 413.7L351.4 408.0M372.9 400.2L372.0 412.8M375.3 407.7L372.0 412.8L369.5 407.3M391.1 400.2L390.1 411.9M393.2 407.1L390.1 411.9L387.8 406.7M409.2 400.2L409.2 409.2M411.4 405.2L409.2 409.2L407.0 405.2M427.4 400.2L427.4 408.2M429.4 404.5L427.4 408.2L425.4 404.5M445.6 400.2L444.9 408.2M447.2 404.7L444.9 408.2L443.2 404.3M463.8 400.2L463.8 407.2M465.6 403.9L463.8 407.2L461.9 403.9M481.9 400.2L478.9 405.4M481.8 403.6L478.9 405.4L479.0 402.0M500.1 400.2L497.2 404.3M499.9 403.0L497.2 404.3L497.6 401.3M518.3 400.2L516.3 400.2M518.0 401.2L516.3 400.2L518.0 399.2M536.4 400.2L538.4 400.2M536.7 399.2L538.4 400.2L536.7 401.2M554.6 400.2L552.6 400.2M554.4 401.2L552.6 400.2L554.4 399.2M572.8 400.2L569.8 400.2M571.7 401.3L569.8 400.2L571.7 399.1M590.9 400.2L588.1 399.2M589.6 400.8L588.1 399.2L590.3 398.8M609.1 400.2L608.2 399.9M609.5 401.4L608.2 399.9L610.1 399.6M627.3 400.2L626.4 399.7M627.5 401.4L626.4 399.7L628.4 399.7M645.5 400.2L645.1 399.3M644.8 401.2L645.1 399.3L646.6 400.6M663.6 400.2L664.6 397.4M663.0 398.8L664.6 397.4L665.0 399.6M681.8 400.2L684.3 395.9M681.7 397.4L684.3 395.9L684.2 398.9M700.0 400.2L704.0 393.3M700.4 395.5L704.0 393.3L703.9 397.5M718.1 400.2L721.9 392.0M718.2 394.8L721.9 392.0L722.2 396.6M736.3 400.2L739.7 390.8M736.0 394.1L739.7 390.8L740.5 395.7M754.5 400.2L756.5 392.5M753.6 395.5L756.5 392.5L757.5 396.6M772.6 400.2L771.8 400.7M773.8 400.7L771.8 400.7L772.8 399.0M790.8 400.2L781.6 407.9M787.3 406.8L781.6 407.9L783.7 402.5M300.2 418.4L300.1 427.4M302.3 423.4L300.1 427.4L297.9 423.3M318.4 418.4L318.3 427.4M320.5 423.4L318.3 427.4L316.1 423.3M336.6 418.4L336.3 430.1M339.2 425.1L336.3 430.1L333.7 425.0M354.7 418.4L354.3 431.0M357.4 425.8L354.3 431.0L351.6 425.6M372.9 418.4L372.4 430.1M375.3 425.2L372.4 430.1L369.9 425.0M391.1 418.4L390.7 430.1M393.6 425.2L390.7 430.1L388.1 425.0M409.2 418.4L409.2 428.4M411.6 424.0L409.2 428.4L406.8 424.0M427.4 418.4L427.4 427.4M429.6 423.3L427.4 427.4L425.2 423.3M445.6 418.4L445.6 426.4M447.6 422.7L445.6 426.4L443.6 422.7M463.8 418.4L463.8 426.4M465.8 422.7L463.8 426.4L461.7 422.7M481.9 418.4L479.4 423.8M482.1 421.8L479.4 423.8L479.2 420.4M500.1 418.4L497.6 423.8M500.3 421.8L497.6 423.8L497.3 420.4M518.3 418.4L516.7 419.7M518.7 419.3L516.7 419.7L517.5 417.8M536.4 418.4L534.4 418.4M536.2 419.3L534.4 418.4L536.2 417.4M554.6 418.4L551.6 418.9M553.7 419.6L551.6 418.9L553.4 417.5M572.8 418.4L569.2 421.9M572.1 421.1L569.2 421.9L570.1 419.0M590.9 418.4L588.3 419.9M590.5 419.8L588.3 419.9L589.5 418.0M609.1 418.4L606.1 418.4M608.0 419.4L606.1 418.4L608.0 417.3M627.3 418.4L626.6 416.5M626.3 418.5L626.6 416.5L628.1 417.8M645.5 418.4L646.1 416.5M644.6 417.8L646.1 416.5L646.4 418.5M663.6 418.4L664.6 415.6M663.0 417.0L664.6 415.6L665.0 417.7M681.8 418.4L684.7 414.3M682.0 415.6L684.7 414.3L684.3 417.3M700.0 418.4L703.5 412.3M700.2 414.3L703.5 412.3L703.4 416.1M718.1 418.4L721.2 409.9M717.8 413.0L721.2 409.9L721.9 414.5M736.3 418.4L737.9 409.5M735.0 413.1L737.9 409.5L739.3 413.9M754.5 418.4L754.5 411.4M752.6 414.7L754.5 411.4L756.3 414.7M772.6 418.4L766.5 423.5M770.6 422.7L766.5 423.5L768.0 419.6M790.8 418.4L781.0 425.3M786.7 424.6L781.0 425.3L783.6 420.1M336.6 436.5L336.6 444.5M338.6 440.8L336.6 444.5L334.6 440.8M354.7 436.5L354.6 446.4M357.0 442.1L354.6 446.4L352.3 442.1M372.9 436.5L372.7 447.3M375.4 442.7L372.7 447.3L370.3 442.6M391.1 436.5L391.1 447.3M393.6 442.7L391.1 447.3L388.5 442.7M409.2 436.5L409.2 446.5M411.6 442.2L409.2 446.5L406.8 442.2M427.4 436.5L427.4 446.5M429.8 442.2L427.4 446.5L425.0 442.2M445.6 436.5L445.6 444.5M447.6 440.9L445.6 444.5L443.6 440.9M463.8 436.5L463.8 444.5M465.8 440.9L463.8 444.5L461.7 440.9M481.9 436.5L481.4 442.5M483.3 439.7L481.4 442.5L480.0 439.4M500.1 436.5L499.6 439.5M500.9 437.8L499.6 439.5L498.9 437.4M518.3 436.5L518.3 437.5M519.2 435.8L518.3 437.5L517.3 435.8M536.4 436.5L535.0 438.0M536.9 437.4L535.0 438.0L535.6 436.0M554.6 436.5L551.1 440.1M553.9 439.2L551.1 440.1L551.9 437.2M572.8 436.5L568.5 440.8M571.8 439.8L568.5 440.8L569.5 437.5M590.9 436.5L587.7 438.8M590.2 438.5L587.7 438.8L588.8 436.5M609.1 436.5L605.1 436.5M607.4 437.8L605.1 436.5L607.4 435.3M627.3 436.5L625.7 435.3M626.5 437.1L625.7 435.3L627.7 435.6M645.5 436.5L646.5 434.8M644.7 435.8L646.5 434.8L646.4 436.8M663.6 436.5L666.2 433.5M663.8 434.4L666.2 433.5L665.7 436.0M681.8 436.5L685.6 431.9M682.5 433.2L685.6 431.9L685.0 435.3M700.0 436.5L703.5 430.5M700.2 432.5L703.5 430.5L703.4 434.3M718.1 436.5L721.2 428.1M717.8 431.1L721.2 428.1L721.9 432.6M736.3 436.5L737.9 427.7M735.0 431.3L737.9 427.7L739.3 432.0M754.5 436.5L753.4 430.6M752.3 433.9L753.4 430.6L755.6 433.3M772.6 436.5L764.4 442.3M769.4 441.7L764.4 442.3L766.7 437.8M790.8 436.5L781.8 442.8M787.2 442.3L781.8 442.8L784.2 438.0M336.6 454.7L336.5 462.7M338.6 459.0L336.5 462.7L334.5 459.0M354.7 454.7L354.7 464.6M357.1 460.3L354.7 464.6L352.3 460.2M372.9 454.7L372.8 464.6M375.2 460.3L372.8 464.6L370.5 460.2M391.1 454.7L391.0 465.5M393.6 460.8L391.0 465.5L388.5 460.8M409.2 454.7L409.2 464.7M411.6 460.3L409.2 464.7L406.8 460.3M427.4 454.7L427.4 464.7M429.8 460.3L427.4 464.7L425.0 460.3M445.6 454.7L445.6 463.7M447.8 459.7L445.6 463.7L443.4 459.7M463.8 454.7L463.8 462.7M465.8 459.0L463.8 462.7L461.7 459.0M481.9 454.7L481.9 460.7M483.6 457.7L481.9 460.7L480.3 457.7M500.1 454.7L499.6 457.7M500.9 455.9L499.6 457.7L498.9 455.6M518.3 454.7L518.3 455.7M519.2 454.0L518.3 455.7L517.3 454.0M536.4 454.7L535.0 456.1M536.9 455.6L535.0 456.1L535.6 454.2M554.6 454.7L552.1 459.0M554.7 457.5L552.1 459.0L552.2 456.0M572.8 454.7L568.8 460.4M572.2 458.8L568.8 460.4L569.2 456.7M590.9 454.7L586.8 457.6M589.8 457.2L586.8 457.6L588.2 454.9M609.1 454.7L605.2 455.4M607.6 456.2L605.2 455.4L607.2 453.8M627.3 454.7L626.9 453.8M626.6 455.7L626.9 453.8L628.4 455.1M645.5 454.7L646.7 453.2M644.9 453.9L646.7 453.2L646.3 455.1M663.6 454.7L666.4 451.9M664.0 452.6L666.4 451.9L665.7 454.4M681.8 454.7L686.0 450.5M682.8 451.4L686.0 450.5L685.1 453.7M700.0 454.7L703.5 448.6M700.2 450.6L703.5 448.6L703.4 452.4M718.1 454.7L720.2 447.0M717.3 450.0L720.2 447.0L721.2 451.1M736.3 454.7L736.9 447.7M734.8 450.9L736.9 447.7L738.4 451.2M754.5 454.7L751.5 449.5M751.6 452.9L751.5 449.5L754.4 451.3M772.6 454.7L764.0 459.7M769.0 459.6L764.0 459.7L766.6 455.4M790.8 454.7L782.1 459.7M787.1 459.6L782.1 459.7L784.8 455.4M336.6 472.9L336.6 481.9M338.8 477.8L336.6 481.9L334.4 477.8M354.7 472.9L354.7 483.7M357.3 479.0L354.7 483.7L352.2 479.0M372.9 472.9L372.9 483.7M375.5 479.0L372.9 483.7L370.4 479.0M391.1 472.9L391.1 483.7M393.6 479.0L391.1 483.7L388.5 479.0M409.2 472.9L409.2 482.9M411.6 478.5L409.2 482.9L406.8 478.5M427.4 472.9L427.4 482.9M429.8 478.5L427.4 482.9L425.0 478.5M445.6 472.9L445.6 481.9M447.8 477.8L445.6 481.9L443.4 477.8M463.8 472.9L463.8 480.9M465.8 477.2L463.8 480.9L461.7 477.2M481.9 472.9L483.0 478.8M484.0 475.6L483.0 478.8L480.8 476.1M500.1 472.9L500.6 475.8M501.3 473.7L500.6 475.8L499.2 474.1M518.3 472.9L518.3 473.9M519.2 472.1L518.3 473.9L517.3 472.1M536.4 472.9L536.4 473.9M537.4 472.1L536.4 473.9L535.5 472.1M554.6 472.9L553.7 477.8M555.6 475.5L553.7 477.8L552.8 475.0M572.8 472.9L570.4 479.5M573.2 476.9L570.4 479.5L569.8 475.7M590.9 472.9L587.1 477.5M590.2 476.2L587.1 477.5L587.8 474.1M609.1 472.9L605.4 474.2M607.9 474.6L605.4 474.2L607.1 472.3M627.3 472.9L626.3 472.5M627.7 474.0L626.3 472.5L628.3 472.2M645.5 472.9L646.0 472.0M644.2 473.1L646.0 472.0L645.9 474.0M663.6 472.9L665.0 471.5M663.1 472.0L665.0 471.5L664.5 473.4M681.8 472.9L685.6 469.7M682.7 470.3L685.6 469.7L684.5 472.5M700.0 472.9L703.0 467.7M700.1 469.5L703.0 467.7L702.9 471.1M718.1 472.9L719.3 466.0M717.0 469.0L719.3 466.0L720.6 469.6M736.3 472.9L736.3 466.9M734.7 469.9L736.3 466.9L737.9 469.9M754.5 472.9L749.9 469.0M751.1 472.2L749.9 469.0L753.2 469.7M772.6 472.9L763.2 476.3M768.2 477.1L763.2 476.3L766.5 472.5M790.8 472.9L781.0 474.6M785.7 476.2L781.0 474.6L784.9 471.5M318.4 491.1L318.4 499.5M320.5 495.7L318.4 499.5L316.3 495.7M336.6 491.1L336.6 500.9M339.0 496.6L336.6 500.9L334.2 496.6M354.7 491.1L354.7 501.9M357.3 497.2L354.7 501.9L352.2 497.2M372.9 491.1L372.9 501.8M375.5 497.2L372.9 501.8L370.4 497.2M391.1 491.1L391.1 501.9M393.6 497.2L391.1 501.9L388.5 497.2M409.2 491.1L409.2 501.1M411.6 496.7L409.2 501.1L406.8 496.7M427.4 491.1L427.4 501.1M429.8 496.7L427.4 501.1L425.0 496.7M445.6 491.1L445.6 500.1M447.8 496.0L445.6 500.1L443.4 496.0M463.8 491.1L463.8 499.1M465.8 495.4L463.8 499.1L461.7 495.4M481.9 491.1L484.0 496.7M484.5 493.3L484.0 496.7L481.4 494.4M500.1 491.1L502.2 495.6M502.4 492.6L502.2 495.6L499.8 493.8M518.3 491.1L519.8 493.6M519.7 491.4L519.8 493.6L517.9 492.5M536.4 491.1L537.5 493.9M537.8 491.7L537.5 493.9L535.8 492.4M554.6 491.1L554.6 496.1M556.0 493.4L554.6 496.1L553.2 493.4M572.8 491.1L571.6 497.9M573.9 495.0L571.6 497.9L570.3 494.3M590.9 491.1L587.4 497.1M590.7 495.1L587.4 497.1L587.5 493.3M609.1 491.1L604.2 494.5M607.6 494.1L604.2 494.5L605.7 491.4M627.3 491.1L624.7 492.6M626.9 492.5L624.7 492.6L625.8 490.7M645.5 491.1L646.0 490.2M644.2 491.2L646.0 490.2L645.9 492.2M663.6 491.1L665.2 489.8M663.2 490.2L665.2 489.8L664.4 491.6M681.8 491.1L684.9 488.5M682.3 489.0L684.9 488.5L683.9 490.9M700.0 491.1L701.7 486.4M699.4 488.3L701.7 486.4L702.1 489.3M718.1 491.1L718.1 482.1M715.9 486.1L718.1 482.1L720.3 486.1M736.3 491.1L734.2 483.3M733.2 487.4L734.2 483.3L737.1 486.4M754.5 491.1L747.9 488.7M750.4 491.5L747.9 488.7L751.6 488.1M772.6 491.1L763.9 488.7M767.3 491.9L763.9 488.7L768.4 487.6M790.8 491.1L782.1 488.7M785.4 491.9L782.1 488.7L786.6 487.6M300.2 509.2L300.6 517.2M302.4 513.4L300.6 517.2L298.4 513.6M318.4 509.2L318.6 520.0M321.1 515.3L318.6 520.0L316.0 515.4M336.6 509.2L336.8 520.9M339.4 515.9L336.8 520.9L334.0 516.0M354.7 509.2L354.9 520.9M357.5 515.9L354.9 520.9L352.1 516.0M372.9 509.2L373.0 520.0M375.5 515.3L373.0 520.0L370.4 515.4M391.1 509.2L391.2 520.0M393.7 515.3L391.2 520.0L388.6 515.4M409.2 509.2L409.2 520.2M411.8 515.5L409.2 520.2L406.7 515.5M427.4 509.2L427.4 519.2M429.8 514.8L427.4 519.2L425.0 514.8M445.6 509.2L445.6 518.2M447.8 514.2L445.6 518.2L443.4 514.2M463.8 509.2L463.8 517.2M465.8 513.5L463.8 517.2L461.7 513.5M481.9 509.2L484.3 515.8M484.9 512.0L484.3 515.8L481.5 513.3M500.1 509.2L502.6 514.7M502.8 511.3L502.6 514.7L499.9 512.6M518.3 509.2L522.1 513.8M521.4 510.5L522.1 513.8L519.0 512.6M536.4 509.2L541.0 513.1M539.8 509.9L541.0 513.1L537.7 512.4M554.6 509.2L557.6 514.4M557.5 511.0L557.6 514.4L554.7 512.6M572.8 509.2L572.2 516.2M574.3 513.0L572.2 516.2L570.6 512.7M590.9 509.2L588.5 515.8M591.4 513.3L588.5 515.8L588.0 512.0M609.1 509.2L603.7 513.7M607.5 513.0L603.7 513.7L605.1 510.2M627.3 509.2L623.2 512.1M626.2 511.8L623.2 512.1L624.5 509.4M645.5 509.2L646.5 509.2M644.7 508.3L646.5 509.2L644.7 510.2M663.6 509.2L665.6 509.2M663.9 508.3L665.6 509.2L663.9 510.2M681.8 509.2L685.5 507.9M683.0 507.5L685.5 507.9L683.8 509.8M700.0 509.2L701.7 504.5M699.4 506.5L701.7 504.5L702.1 507.5M718.1 509.2L718.1 500.2M715.9 504.3L718.1 500.2L720.3 504.3M736.3 509.2L734.2 501.5M733.2 505.6L734.2 501.5L737.1 504.5M754.5 509.2L747.9 504.6M749.8 508.4L747.9 504.6L752.1 505.1M772.6 509.2L764.8 504.7M767.2 508.6L764.8 504.7L769.4 504.8M790.8 509.2L783.0 504.7M785.4 508.6L783.0 504.7L787.6 504.8M282.1 527.4L283.3 537.2M285.1 532.6L283.3 537.2L280.4 533.2M300.2 527.4L301.2 538.1M303.3 533.3L301.2 538.1L298.2 533.7M318.4 527.4L319.2 540.0M321.8 534.5L319.2 540.0L316.0 534.9M336.6 527.4L337.1 540.0M339.8 534.6L337.1 540.0L334.0 534.8M354.7 527.4L355.2 539.1M357.7 534.0L355.2 539.1L352.3 534.2M372.9 527.4L373.3 539.1M375.8 534.0L373.3 539.1L370.4 534.2M391.1 527.4L391.3 539.1M393.9 534.0L391.3 539.1L388.5 534.2M409.2 527.4L409.2 539.4M412.0 534.3L409.2 539.4L406.5 534.3M427.4 527.4L427.4 538.4M430.0 533.7L427.4 538.4L424.8 533.7M445.6 527.4L445.6 537.4M448.0 533.0L445.6 537.4L443.2 533.0M463.8 527.4L464.5 536.4M466.4 532.1L464.5 536.4L462.0 532.5M481.9 527.4L484.0 535.1M485.0 531.0L484.0 535.1L481.1 532.1M500.1 527.4L503.5 534.6M503.7 530.4L503.5 534.6L500.1 532.2M518.3 527.4L523.4 533.5M522.6 529.4L523.4 533.5L519.5 532.0M536.4 527.4L542.6 532.5M541.0 528.6L542.6 532.5L538.4 531.7M554.6 527.4L559.2 533.9M558.7 529.8L559.2 533.9L555.4 532.1M572.8 527.4L574.2 535.3M575.5 531.3L574.2 535.3L571.5 532.0M590.9 527.4L589.6 535.3M592.2 532.0L589.6 535.3L588.2 531.3M609.1 527.4L604.2 532.3M607.8 531.3L604.2 532.3L605.2 528.7M627.3 527.4L624.1 531.2M626.9 530.1L624.1 531.2L624.7 528.3M645.5 527.4L646.5 527.4M644.7 526.4L646.5 527.4L644.7 528.3M663.6 527.4L666.6 527.4M664.7 526.3L666.6 527.4L664.7 528.4M681.8 527.4L685.8 527.4M683.5 526.1L685.8 527.4L683.5 528.6M700.0 527.4L702.0 523.9M699.7 525.3L702.0 523.9L701.9 526.5M718.1 527.4L718.1 519.4M716.1 523.1L718.1 519.4L720.1 523.1M736.3 527.4L735.3 521.5M734.2 524.7L735.3 521.5L737.4 524.1M754.5 527.4L749.5 522.4M750.6 526.1L749.5 522.4L753.2 523.5M772.6 527.4L766.5 522.2M768.0 526.2L766.5 522.2L770.6 523.1M790.8 527.4L784.3 522.8M786.1 526.6L784.3 522.8L788.4 523.3M263.9 545.6L265.5 557.1M267.5 551.8L265.5 557.1L262.1 552.6M282.1 545.6L283.8 558.9M286.1 553.0L283.8 558.9L280.0 553.8M300.2 545.6L301.3 558.1M303.7 552.6L301.3 558.1L298.0 553.1M318.4 545.6L319.4 559.0M322.0 553.2L319.4 559.0L315.9 553.7M336.6 545.6L337.0 559.1M339.9 553.3L337.0 559.1L333.8 553.5M354.7 545.6L355.3 558.1M358.0 552.7L355.3 558.1L352.2 553.0M372.9 545.6L373.3 558.2M376.0 552.8L373.3 558.2L370.3 553.0M391.1 545.6L391.5 558.2M394.2 552.7L391.5 558.2L388.4 553.0M409.2 545.6L409.2 558.6M412.2 553.1L409.2 558.6L406.3 553.1M427.4 545.6L427.4 557.6M430.2 552.5L427.4 557.6L424.6 552.5M445.6 545.6L446.5 556.5M448.7 551.6L446.5 556.5L443.5 552.0M463.8 545.6L465.5 555.4M467.1 550.7L465.5 555.4L462.4 551.5M481.9 545.6L485.0 554.0M485.7 549.5L485.0 554.0L481.5 551.0M500.1 545.6L503.9 553.7M504.2 549.1L503.9 553.7L500.2 551.0M518.3 545.6L524.0 552.5M523.1 547.9L524.0 552.5L519.8 550.8M536.4 545.6L542.8 551.9M541.5 547.5L542.8 551.9L538.4 550.6M554.6 545.6L560.4 552.5M559.5 547.9L560.4 552.5L556.1 550.8M572.8 545.6L577.3 553.4M577.2 548.8L577.3 553.4L573.3 551.0M590.9 545.6L591.8 555.5M593.8 550.9L591.8 555.5L589.0 551.4M609.1 545.6L605.6 551.6M608.9 549.6L605.6 551.6L605.7 547.8M627.3 545.6L624.3 550.8M627.2 549.0L624.3 550.8L624.4 547.4M645.5 545.6L644.1 549.3M646.0 547.6L644.1 549.3L643.7 546.7M663.6 545.6L664.6 547.3M664.6 545.3L664.6 547.3L662.9 546.3M681.8 545.6L683.7 546.2M682.3 544.7L683.7 546.2L681.7 546.5M700.0 545.6L701.7 544.6M699.7 544.6L701.7 544.6L700.7 546.3M718.1 545.6L718.8 543.7M717.3 545.0L718.8 543.7L719.1 545.7M736.3 545.6L736.3 544.6M735.3 546.3L736.3 544.6L737.3 546.3M754.5 545.6L752.9 544.3M753.7 546.1L752.9 544.3L754.9 544.7M772.6 545.6L771.0 544.4M771.9 546.2L771.0 544.4L773.0 544.6M790.8 545.6L789.1 544.6M790.1 546.3L789.1 544.6L791.1 544.6M245.7 563.7L250.5 576.4M251.4 570.0L250.5 576.4L245.6 572.2M263.9 563.7L267.6 579.5M269.6 572.3L267.6 579.5L262.6 573.9M282.1 563.7L285.6 578.6M287.5 571.7L285.6 578.6L280.8 573.3M300.2 563.7L302.5 578.0M304.7 571.6L302.5 578.0L298.3 572.6M318.4 563.7L320.7 578.9M323.1 572.2L320.7 578.9L316.4 573.2M336.6 563.7L337.9 578.1M340.6 571.9L337.9 578.1L334.1 572.5M354.7 563.7L356.0 577.2M358.5 571.3L356.0 577.2L352.4 571.9M372.9 563.7L373.8 577.2M376.5 571.4L373.8 577.2L370.4 571.8M391.1 563.7L392.1 577.2M394.7 571.4L392.1 577.2L388.6 571.8M409.2 563.7L410.5 577.7M413.1 571.6L410.5 577.7L406.8 572.2M427.4 563.7L428.5 576.7M431.0 571.0L428.5 576.7L425.1 571.5M445.6 563.7L447.7 575.5M449.5 570.1L447.7 575.5L444.0 571.0M463.8 563.7L466.6 574.4M467.9 569.1L466.6 574.4L462.9 570.4M481.9 563.7L485.3 573.1M486.1 568.2L485.3 573.1L481.6 569.8M500.1 563.7L504.3 572.8M504.6 567.8L504.3 572.8L500.3 569.8M518.3 563.7L524.0 571.9M523.4 567.0L524.0 571.9L519.5 569.7M536.4 563.7L542.9 571.4M541.9 566.5L542.9 571.4L538.2 569.6M554.6 563.7L560.3 571.9M559.8 567.0L560.3 571.9L555.9 569.7M572.8 563.7L577.8 572.4M577.7 567.4L577.8 572.4L573.5 569.8M590.9 563.7L592.9 574.6M594.6 569.4L592.9 574.6L589.5 570.3M609.1 563.7L606.4 571.2M609.5 568.5L606.4 571.2L605.7 567.1M627.3 563.7L624.3 570.1M627.4 567.8L624.3 570.1L624.1 566.3M645.5 563.7L643.4 569.4M646.0 567.1L643.4 569.4L642.9 566.0M663.6 563.7L662.8 568.7M664.6 566.3L662.8 568.7L661.8 565.8M681.8 563.7L684.6 566.6M683.9 564.1L684.6 566.6L682.1 565.8M700.0 563.7L703.7 565.1M702.0 563.1L703.7 565.1L701.1 565.5M718.1 563.7L722.8 562.0M719.9 561.6L722.8 562.0L720.8 564.3M736.3 563.7L736.8 562.9M735.1 563.9L736.8 562.9L736.8 564.9M754.5 563.7L755.5 563.7M753.7 562.8L755.5 563.7L753.7 564.7M772.6 563.7L773.6 563.7M771.9 562.8L773.6 563.7L771.9 564.7M790.8 563.7L791.8 563.7M790.1 562.8L791.8 563.7L790.1 564.7M209.4 581.9L217.0 595.2M216.9 588.0L217.0 595.2L210.9 591.4M227.5 581.9L234.7 595.9M234.9 588.6L234.7 595.9L228.7 591.8M245.7 581.9L252.6 596.6M253.0 589.1L252.6 596.6L246.5 592.1M263.9 581.9L269.5 597.1M270.6 589.7L269.5 597.1L263.9 592.2M282.1 581.9L287.1 597.3M288.4 590.0L287.1 597.3L281.6 592.2M300.2 581.9L304.0 597.2M305.9 590.1L304.0 597.2L299.1 591.8M318.4 581.9L321.5 596.4M323.5 589.8L321.5 596.4L317.0 591.2M336.6 581.9L338.8 595.7M341.0 589.5L338.8 595.7L334.7 590.5M354.7 581.9L356.5 594.8M358.7 589.0L356.5 594.8L352.8 589.8M372.9 581.9L374.3 594.9M376.7 589.1L374.3 594.9L370.7 589.8M391.1 581.9L392.2 594.9M394.7 589.2L392.2 594.9L388.8 589.7M409.2 581.9L411.1 595.3M413.4 589.3L411.1 595.3L407.3 590.1M427.4 581.9L429.2 594.4M431.3 588.7L429.2 594.4L425.6 589.5M445.6 581.9L448.0 593.3M449.6 587.9L448.0 593.3L444.3 589.0M463.8 581.9L466.8 593.2M468.2 587.7L466.8 593.2L462.9 589.1M481.9 581.9L485.6 592.0M486.4 586.8L485.6 592.0L481.6 588.5M500.1 581.9L504.7 591.7M505.0 586.4L504.7 591.7L500.4 588.5M518.3 581.9L523.7 591.3M523.5 585.9L523.7 591.3L519.1 588.5M536.4 581.9L542.2 591.0M541.9 585.7L542.2 591.0L537.6 588.4M554.6 581.9L560.3 590.0M559.7 585.1L560.3 590.0L555.8 587.8M572.8 581.9L577.1 591.8M577.6 586.5L577.1 591.8L572.9 588.5M590.9 581.9L596.4 592.2M596.5 586.6L596.4 592.2L591.7 589.1M609.1 581.9L607.5 590.8M610.4 587.2L607.5 590.8L606.1 586.4M627.3 581.9L625.9 589.8M628.5 586.5L625.9 589.8L624.5 585.8M645.5 581.9L644.8 589.9M647.1 586.4L644.8 589.9L643.1 586.0M663.6 581.9L663.6 587.9M665.3 584.9L663.6 587.9L662.0 584.9M681.8 581.9L683.8 587.5M684.4 584.2L683.8 587.5L681.3 585.3M700.0 581.9L704.3 584.4M702.7 581.8L704.3 584.4L701.3 584.3M718.1 581.9L722.1 582.6M720.0 581.0L722.1 582.6L719.6 583.4M736.3 581.9L737.3 581.9M735.5 580.9L737.3 581.9L735.5 582.9M754.5 581.9L756.2 580.9M754.2 580.9L756.2 580.9L755.2 582.6M772.6 581.9L774.2 580.6M772.2 581.0L774.2 580.6L773.4 582.5M790.8 581.9L792.8 581.9M791.1 580.9L792.8 581.9L791.1 582.9M136.7 600.1L148.3 613.9M146.6 605.8L148.3 613.9L140.6 610.9M154.9 600.1L166.1 614.1M164.7 606.0L166.1 614.1L158.6 611.0M173.0 600.1L184.1 614.3M182.8 606.2L184.1 614.3L176.6 611.0M191.2 600.1L201.6 614.8M200.7 606.6L201.6 614.8L194.2 611.2M209.4 600.1L218.4 615.7M218.2 607.5L218.4 615.7L211.4 611.4M227.5 600.1L235.7 616.1M235.9 607.9L235.7 616.1L228.9 611.5M245.7 600.1L253.1 616.5M253.7 608.3L253.1 616.5L246.6 611.5M263.9 600.1L269.8 616.1M271.0 608.3L269.8 616.1L263.9 611.0M282.1 600.1L287.2 616.4M288.7 608.7L287.2 616.4L281.5 610.9M300.2 600.1L304.4 616.6M306.4 609.0L304.4 616.6L299.1 610.9M318.4 600.1L321.7 615.9M323.8 608.8L321.7 615.9L316.8 610.2M336.6 600.1L339.1 615.2M341.4 608.4L339.1 615.2L334.7 609.6M354.7 600.1L356.7 614.3M359.1 608.0L356.7 614.3L352.7 608.9M372.9 600.1L374.5 614.4M377.1 608.1L374.5 614.4L370.6 608.9M391.1 600.1L392.6 614.4M395.2 608.2L392.6 614.4L388.7 608.8M409.2 600.1L411.1 614.4M413.5 608.1L411.1 614.4L407.1 608.9M427.4 600.1L429.5 613.4M431.7 607.4L429.5 613.4L425.6 608.3M445.6 600.1L448.2 612.4M449.9 606.6L448.2 612.4L444.3 607.8M463.8 600.1L466.9 611.3M468.2 605.8L466.9 611.3L463.0 607.3M481.9 600.1L485.7 610.2M486.4 604.9L485.7 610.2L481.7 606.7M500.1 600.1L504.6 609.9M505.0 604.6L504.6 609.9L500.4 606.7M518.3 600.1L523.4 609.6M523.4 604.2L523.4 609.6L518.9 606.7M536.4 600.1L541.6 609.6M541.6 604.2L541.6 609.6L537.1 606.7M554.6 600.1L559.1 608.9M559.3 603.9L559.1 608.9L555.0 606.1M572.8 600.1L575.7 609.5M576.7 604.6L575.7 609.5L572.2 606.1M590.9 600.1L592.4 611.7M594.5 606.4L592.4 611.7L589.1 607.1M609.1 600.1L608.3 609.0M610.9 605.2L608.3 609.0L606.5 604.8M627.3 600.1L625.7 608.9M628.6 605.3L625.7 608.9L624.2 604.6M645.5 600.1L644.8 608.0M647.1 604.5L644.8 608.0L643.1 604.2M663.6 600.1L663.1 606.0M665.0 603.2L663.1 606.0L661.7 602.9M681.8 600.1L684.8 605.3M684.7 601.9L684.8 605.3L681.9 603.5M700.0 600.1L703.5 603.6M702.7 600.7L703.5 603.6L700.6 602.8M718.1 600.1L721.9 601.4M720.2 599.5L721.9 601.4L719.3 601.8M736.3 600.1L737.3 600.1M735.5 599.1L737.3 600.1L735.5 601.0M754.5 600.1L755.9 601.5M755.3 599.6L755.9 601.5L754.0 600.9M772.6 600.1L773.6 600.1M771.9 599.1L773.6 600.1L771.9 601.0M790.8 600.1L792.7 599.4M790.7 599.1L792.7 599.4L791.4 600.9M27.7 618.2L32.3 624.8M31.8 620.6L32.3 624.8L28.5 622.9M45.8 618.2L52.1 627.1M51.5 621.8L52.1 627.1L47.3 624.7M64.0 618.2L72.1 629.0M71.2 622.7L72.1 629.0L66.3 626.4M82.2 618.2L92.4 630.8M91.1 623.4L92.4 630.8L85.5 628.0M100.4 618.2L112.8 633.1M111.1 624.5L112.8 633.1L104.6 629.9M118.5 618.2L130.9 633.1M129.2 624.6L130.9 633.1L122.7 629.9M136.7 618.2L149.6 633.9M147.9 624.9L149.6 633.9L141.1 630.5M154.9 618.2L167.4 634.1M165.9 625.2L167.4 634.1L159.0 630.6M173.0 618.2L185.3 634.3M183.9 625.3L185.3 634.3L177.0 630.6M191.2 618.2L202.7 634.9M201.8 625.8L202.7 634.9L194.6 630.8M209.4 618.2L220.1 636.5M219.8 627.0L220.1 636.5L212.0 631.6M227.5 618.2L237.1 637.1M237.4 627.7L237.1 637.1L229.3 631.8M245.7 618.2L254.3 637.6M255.1 628.1L254.3 637.6L246.8 631.8M263.9 618.2L271.0 637.2M272.3 628.2L271.0 637.2L264.1 631.3M282.1 618.2L288.1 637.6M289.9 628.6L288.1 637.6L281.6 631.2M300.2 618.2L305.3 637.8M307.5 629.0L305.3 637.8L299.1 631.2M318.4 618.2L322.3 637.2M324.9 628.8L322.3 637.2L316.6 630.5M336.6 618.2L339.7 636.4M342.4 628.5L339.7 636.4L334.5 629.9M354.7 618.2L357.3 635.6M360.0 628.1L357.3 635.6L352.4 629.2M372.9 618.2L375.1 634.7M377.8 627.6L375.1 634.7L370.6 628.6M391.1 618.2L393.2 634.8M396.0 627.6L393.2 634.8L388.7 628.6M409.2 618.2L411.6 634.7M414.3 627.6L411.6 634.7L407.0 628.6M427.4 618.2L430.2 633.7M432.5 626.8L430.2 633.7L425.6 628.1M445.6 618.2L448.9 632.7M450.8 626.0L448.9 632.7L444.3 627.5M463.8 618.2L467.8 631.6M469.1 625.2L467.8 631.6L463.1 627.0M481.9 618.2L486.6 630.4M487.4 624.3L486.6 630.4L481.9 626.4M500.1 618.2L505.6 630.1M506.0 623.9L505.6 630.1L500.6 626.4M518.3 618.2L524.2 629.8M524.4 623.6L524.2 629.8L519.1 626.4M536.4 618.2L542.1 630.0M542.4 623.8L542.1 630.0L537.1 626.4M554.6 618.2L559.0 629.6M559.8 623.8L559.0 629.6L554.5 625.8M572.8 618.2L575.6 630.1M577.1 624.4L575.6 630.1L571.7 625.7M590.9 618.2L592.2 631.2M594.7 625.5L592.2 631.2L588.7 626.1M609.1 618.2L609.1 628.2M611.5 623.9L609.1 628.2L606.7 623.9M627.3 618.2L626.5 627.2M629.0 623.4L626.5 627.2L624.7 623.0M645.5 618.2L644.8 626.2M647.1 622.7L644.8 626.2L643.1 622.4M663.6 618.2L663.6 624.2M665.3 621.3L663.6 624.2L662.0 621.3M681.8 618.2L683.3 624.0M684.1 620.7L683.3 624.0L681.0 621.6M700.0 618.2L703.0 623.4M702.9 620.0L703.0 623.4L700.1 621.7M718.1 618.2L720.7 619.7M719.6 617.9L720.7 619.7L718.5 619.7M736.3 618.2L737.3 618.2M735.5 617.3L737.3 618.2L735.5 619.2M754.5 618.2L755.5 618.2M753.7 617.3L755.5 618.2L753.7 619.2M772.6 618.2L772.6 619.2M773.6 617.5L772.6 619.2L771.7 617.5M790.8 618.2L787.8 623.4M790.7 621.7L787.8 623.4L787.9 620.0M9.5 636.4L14.7 643.8M14.2 639.2L14.7 643.8L10.5 641.7M27.7 636.4L32.8 643.8M32.3 639.2L32.8 643.8L28.7 641.7M45.8 636.4L53.2 646.7M52.4 640.7L53.2 646.7L47.7 644.0M64.0 636.4L72.7 647.9M71.7 641.2L72.7 647.9L66.5 645.1M82.2 636.4L92.2 649.1M91.0 641.7L92.2 649.1L85.4 646.2M100.4 636.4L111.9 650.8M110.4 642.5L111.9 650.8L104.2 647.6M118.5 636.4L130.6 651.5M129.1 642.9L130.6 651.5L122.5 648.1M136.7 636.4L149.2 652.3M147.7 643.3L149.2 652.3L140.9 648.7M154.9 636.4L167.8 653.1M166.3 643.8L167.8 653.1L159.1 649.3M173.0 636.4L185.6 653.4M184.3 644.0L185.6 653.4L177.0 649.4M191.2 636.4L202.5 654.3M201.9 644.8L202.5 654.3L194.2 649.7M209.4 636.4L219.9 654.7M219.7 645.3L219.9 654.7L211.9 649.8M227.5 636.4L237.7 656.0M237.9 646.1L237.7 656.0L229.6 650.5M245.7 636.4L255.2 656.3M255.7 646.5L255.2 656.3L247.2 650.6M263.9 636.4L271.7 656.1M272.8 646.7L271.7 656.1L264.4 650.0M282.1 636.4L288.6 656.5M290.3 647.2L288.6 656.5L281.7 650.0M300.2 636.4L305.5 656.9M307.8 647.7L305.5 656.9L299.0 650.0M318.4 636.4L322.2 656.3M325.0 647.6L322.2 656.3L316.4 649.3M336.6 636.4L340.0 655.4M342.8 647.1L340.0 655.4L334.5 648.7M354.7 636.4L357.6 654.6M360.5 646.7L357.6 654.6L352.5 648.0M372.9 636.4L375.6 653.7M378.3 646.2L375.6 653.7L370.7 647.4M391.1 636.4L393.8 653.7M396.5 646.2L393.8 653.7L388.9 647.4M409.2 636.4L412.2 653.7M414.8 646.1L412.2 653.7L407.2 647.4M427.4 636.4L430.8 652.7M433.0 645.4L430.8 652.7L425.8 646.9M445.6 636.4L449.4 651.7M451.3 644.6L449.4 651.7L444.5 646.3M463.8 636.4L468.4 650.5M469.6 643.7L468.4 650.5L463.3 645.8M481.9 636.4L487.3 649.3M488.0 642.8L487.3 649.3L482.1 645.2M500.1 636.4L506.4 648.9M506.6 642.3L506.4 648.9L501.0 645.1M518.3 636.4L525.1 648.6M525.0 642.0L525.1 648.6L519.5 645.1M536.4 636.4L542.9 648.8M543.0 642.2L542.9 648.8L537.4 645.1M554.6 636.4L559.9 648.4M560.4 642.2L559.9 648.4L554.9 644.6M572.8 636.4L576.8 648.8M577.9 642.7L576.8 648.8L572.3 644.5M590.9 636.4L594.3 650.0M596.0 643.6L594.3 650.0L589.8 645.1M609.1 636.4L612.0 647.0M613.2 641.8L612.0 647.0L608.2 643.1M627.3 636.4L628.2 646.4M630.2 641.8L628.2 646.4L625.4 642.2M645.5 636.4L645.8 645.4M647.8 641.3L645.8 645.4L643.4 641.4M663.6 636.4L663.9 644.4M665.8 640.7L663.9 644.4L661.8 640.8M681.8 636.4L683.6 643.2M684.5 639.5L683.6 643.2L681.0 640.4M700.0 636.4L703.4 641.3M703.0 637.9L703.4 641.3L700.4 639.8M718.1 636.4L721.7 639.9M720.8 637.1L721.7 639.9L718.8 639.1M736.3 636.4L737.0 637.1M736.4 635.2L737.0 637.1L735.1 636.6M754.5 636.4L755.2 637.1M754.6 635.2L755.2 637.1L753.3 636.6M772.6 636.4L773.1 637.3M773.1 635.3L773.1 637.3L771.4 636.2M790.8 636.4L789.8 642.3M791.9 639.7L789.8 642.3L788.7 639.1M9.5 654.6L15.2 662.8M14.7 657.8L15.2 662.8L10.8 660.6M27.7 654.6L33.4 662.8M32.9 657.8L33.4 662.8L28.9 660.6M45.8 654.6L53.7 665.6M52.9 659.2L53.7 665.6L47.9 662.8M64.0 654.6L72.7 666.1M71.7 659.4L72.7 666.1L66.5 663.3M82.2 654.6L91.6 666.6M90.4 659.6L91.6 666.6L85.1 663.8M100.4 654.6L111.2 668.4M109.9 660.5L111.2 668.4L103.8 665.2M118.5 654.6L129.9 669.1M128.5 660.8L129.9 669.1L122.2 665.8M136.7 654.6L148.6 669.9M147.2 661.2L148.6 669.9L140.6 666.4M154.9 654.6L167.3 670.5M165.8 661.6L167.3 670.5L159.0 666.9M173.0 654.6L185.7 671.5M184.4 662.1L185.7 671.5L177.1 667.6M191.2 654.6L202.1 672.7M201.7 663.2L202.1 672.7L194.0 667.9M209.4 654.6L219.9 672.9M219.7 663.4L219.9 672.9L211.9 668.0M227.5 654.6L237.9 674.1M238.0 664.2L237.9 674.1L229.7 668.7M245.7 654.6L255.4 674.4M255.8 664.6L255.4 674.4L247.4 668.7M263.9 654.6L272.1 675.0M273.3 665.3L272.1 675.0L264.5 668.8M282.1 654.6L288.9 675.6M290.7 665.9L288.9 675.6L281.7 668.8M300.2 654.6L305.7 675.9M308.1 666.4L305.7 675.9L299.0 668.8M318.4 654.6L322.1 675.4M325.1 666.4L322.1 675.4L316.2 668.0M336.6 654.6L340.2 674.5M343.0 665.9L340.2 674.5L334.5 667.4M354.7 654.6L357.9 673.7M360.8 665.4L357.9 673.7L352.5 666.8M372.9 654.6L375.8 672.8M378.6 664.9L375.8 672.8L370.7 666.2M391.1 654.6L394.1 672.8M396.8 664.9L394.1 672.8L388.9 666.2M409.2 654.6L412.5 672.7M415.2 664.8L412.5 672.7L407.3 666.2M427.4 654.6L431.1 671.7M433.4 664.0L431.1 671.7L425.9 665.7M445.6 654.6L449.8 670.7M451.6 663.3L449.8 670.7L444.5 665.1M463.8 654.6L469.0 669.4M470.1 662.2L469.0 669.4L463.5 664.6M481.9 654.6L488.1 668.1M488.6 661.2L488.1 668.1L482.5 663.9M500.1 654.6L507.3 667.5M507.3 660.6L507.3 667.5L501.5 663.9M518.3 654.6L526.0 666.2M525.4 659.7L526.0 666.2L520.1 663.1M536.4 654.6L544.2 666.2M543.6 659.6L544.2 666.2L538.3 663.1M554.6 654.6L562.5 666.1M561.8 659.5L562.5 666.1L556.6 663.1M572.8 654.6L579.4 666.9M579.4 660.3L579.4 666.9L573.9 663.3M590.9 654.6L597.4 667.9M597.8 661.0L597.4 667.9L591.8 663.9M609.1 654.6L614.6 666.4M615.0 660.2L614.6 666.4L609.6 662.7M627.3 654.6L630.4 666.2M631.8 660.5L630.4 666.2L626.4 662.0M645.5 654.6L647.4 665.4M649.1 660.3L647.4 665.4L644.0 661.2M663.6 654.6L665.0 664.5M666.8 659.8L665.0 664.5L662.0 660.5M681.8 654.6L684.6 663.1M685.4 658.6L684.6 663.1L681.2 660.0M700.0 654.6L704.0 661.5M703.9 657.3L704.0 661.5L700.4 659.3M718.1 654.6L722.0 659.2M721.3 655.8L722.0 659.2L718.8 657.9M736.3 654.6L738.4 656.7M737.8 654.6L738.4 656.7L736.3 656.1M754.5 654.6L755.2 655.3M754.6 653.4L755.2 655.3L753.3 654.7M772.6 654.6L774.1 656.0M773.5 654.1L774.1 656.0L772.1 655.4M790.8 654.6L790.8 661.6M792.6 658.2L790.8 661.6L789.0 658.2M9.5 672.8L15.2 680.9M14.7 676.0L15.2 680.9L10.8 678.7M27.7 672.8L33.4 680.9M32.9 676.0L33.4 680.9L28.9 678.7M45.8 672.8L53.5 683.3M52.7 677.2L53.5 683.3L47.9 680.6M64.0 672.8L72.5 683.8M71.5 677.3L72.5 683.8L66.5 681.2M82.2 672.8L91.4 684.4M90.2 677.6L91.4 684.4L85.0 681.7M100.4 672.8L110.6 685.8M109.4 678.3L110.6 685.8L103.6 682.8M118.5 672.8L129.3 686.6M128.0 678.7L129.3 686.6L122.0 683.4M136.7 672.8L148.0 687.3M146.7 679.0L148.0 687.3L140.3 684.0M154.9 672.8L167.2 688.8M165.8 679.8L167.2 688.8L158.9 685.1M173.0 672.8L185.0 689.1M183.8 680.1L185.0 689.1L176.8 685.2M191.2 672.8L202.3 690.7M201.8 681.3L202.3 690.7L194.1 686.1M209.4 672.8L219.9 691.1M219.7 681.6L219.9 691.1L211.8 686.1M227.5 672.8L237.7 692.3M237.9 682.5L237.7 692.3L229.6 686.8M245.7 672.8L255.2 692.6M255.7 682.8L255.2 692.6L247.2 686.9M263.9 672.8L272.1 693.2M273.2 683.5L272.1 693.2L264.5 687.0M282.1 672.8L288.9 693.7M290.7 684.1L288.9 693.7L281.8 687.0M300.2 672.8L305.8 694.1M308.2 684.5L305.8 694.1L299.1 686.9M318.4 672.8L322.6 694.4M325.6 685.0L322.6 694.4L316.3 686.8M336.6 672.8L340.5 693.5M343.4 684.5L340.5 693.5L334.5 686.2M354.7 672.8L358.1 692.7M361.1 684.1L358.1 692.7L352.5 685.6M372.9 672.8L376.0 691.8M378.9 683.6L376.0 691.8L370.7 685.0M391.1 672.8L394.4 691.8M397.2 683.5L394.4 691.8L388.9 685.0M409.2 672.8L412.6 691.8M415.4 683.5L412.6 691.8L407.1 685.0M427.4 672.8L431.3 690.8M433.7 682.7L431.3 690.8L425.8 684.4M445.6 672.8L449.8 689.8M451.9 682.0L449.8 689.8L444.4 683.9M463.8 672.8L469.3 688.4M470.5 680.9L469.3 688.4L463.6 683.3M481.9 672.8L488.6 687.0M489.0 679.7L488.6 687.0L482.7 682.7M500.1 672.8L507.9 686.4M507.8 679.1L507.9 686.4L501.7 682.6M518.3 672.8L526.8 684.9M526.0 678.0L526.8 684.9L520.6 681.8M536.4 672.8L545.2 684.7M544.3 677.8L545.2 684.7L538.9 681.8M554.6 672.8L564.1 684.1M562.8 677.3L564.1 684.1L557.7 681.6M572.8 672.8L581.4 684.9M580.5 678.0L581.4 684.9L575.1 681.8M590.9 672.8L601.1 684.8M599.6 677.7L601.1 684.8L594.3 682.2M609.1 672.8L617.1 684.2M616.4 677.7L617.1 684.2L611.2 681.3M627.3 672.8L632.5 685.7M633.3 679.2L632.5 685.7L627.4 681.5M645.5 672.8L648.8 685.3M650.3 679.3L648.8 685.3L644.5 680.8M663.6 672.8L665.9 683.5M667.5 678.3L665.9 683.5L662.4 679.4M681.8 672.8L685.6 683.1M686.4 677.7L685.6 683.1L681.5 679.5M700.0 672.8L704.7 681.6M704.7 676.6L704.7 681.6L700.5 678.8M718.1 672.8L722.7 679.3M722.3 675.1L722.7 679.3L719.0 677.4M736.3 672.8L739.8 676.3M739.0 673.4L739.8 676.3L737.0 675.4M754.5 672.8L757.9 674.8M756.6 672.5L757.9 674.8L755.3 674.7M772.6 672.8L776.6 673.4M774.5 671.8L776.6 673.4L774.1 674.3M790.8 672.8L792.0 679.6M793.2 676.0L792.0 679.6L789.7 676.7M9.5 690.9L14.7 698.3M14.2 693.7L14.7 698.3L10.5 696.3M27.7 690.9L32.8 698.3M32.3 693.7L32.8 698.3L28.7 696.3M45.8 690.9L53.1 700.6M52.3 694.8L53.1 700.6L47.8 698.2M64.0 690.9L72.2 701.0M71.1 694.9L72.2 701.0L66.5 698.7M82.2 690.9L90.9 701.8M89.7 695.4L90.9 701.8L84.8 699.3M100.4 690.9L110.0 703.3M108.9 696.1L110.0 703.3L103.3 700.4M118.5 690.9L128.8 704.0M127.5 696.5L128.8 704.0L121.7 701.0M136.7 690.9L147.5 704.7M146.2 696.8L147.5 704.7L140.1 701.6M154.9 690.9L166.7 706.2M165.3 697.6L166.7 706.2L158.7 702.7M173.0 690.9L184.9 707.3M183.8 698.3L184.9 707.3L176.7 703.4M191.2 690.9L202.1 708.0M201.5 698.9L202.1 708.0L194.1 703.6M209.4 690.9L219.9 709.3M219.7 699.8L219.9 709.3L211.8 704.3M227.5 690.9L237.7 710.5M237.9 700.7L237.7 710.5L229.5 705.0M245.7 690.9L254.9 710.9M255.6 701.1L254.9 710.9L247.1 705.1M263.9 690.9L272.0 711.4M273.2 701.7L272.0 711.4L264.4 705.1M282.1 690.9L289.0 711.8M290.8 702.2L289.0 711.8L281.8 705.2M300.2 690.9L306.3 713.0M308.6 703.1L306.3 713.0L299.2 705.7M318.4 690.9L323.2 712.4M325.9 703.0L323.2 712.4L316.7 705.1M336.6 690.9L340.9 712.5M343.8 703.2L340.9 712.5L334.6 705.0M354.7 690.9L358.5 711.7M361.5 702.8L358.5 711.7L352.5 704.4M372.9 690.9L376.4 710.9M379.3 702.3L376.4 710.9L370.7 703.7M391.1 690.9L394.6 710.9M397.5 702.2L394.6 710.9L388.9 703.8M409.2 690.9L412.9 710.8M415.8 702.2L412.9 710.8L407.2 703.8M427.4 690.9L431.6 709.8M434.1 701.4L431.6 709.8L425.9 703.2M445.6 690.9L450.3 708.8M452.3 700.6L450.3 708.8L444.5 702.7M463.8 690.9L470.2 709.0M471.6 700.4L470.2 709.0L463.8 703.2M481.9 690.9L489.6 707.5M490.2 699.2L489.6 707.5L482.9 702.6M500.1 690.9L509.1 706.8M509.0 698.5L509.1 706.8L502.1 702.4M518.3 690.9L528.6 706.0M527.7 697.7L528.6 706.0L521.2 702.2M536.4 690.9L545.7 703.7M544.7 696.4L545.7 703.7L539.1 700.5M554.6 690.9L564.1 703.5M563.0 696.3L564.1 703.5L557.4 700.5M572.8 690.9L581.6 704.0M580.9 696.7L581.6 704.0L575.1 700.6M590.9 690.9L600.2 704.8M599.5 697.1L600.2 704.8L593.4 701.2M609.1 690.9L617.7 703.2M616.9 696.3L617.7 703.2L611.4 700.1M627.3 690.9L632.3 707.2M633.8 699.5L632.3 707.2L626.7 701.7M645.5 690.9L648.6 704.6M650.4 698.2L648.6 704.6L644.2 699.6M663.6 690.9L665.9 701.7M667.5 696.5L665.9 701.7L662.4 697.6M681.8 690.9L686.1 702.1M686.9 696.4L686.1 702.1L681.7 698.4M700.0 690.9L706.3 702.3M706.2 696.1L706.3 702.3L701.0 699.0M718.1 690.9L723.9 699.1M723.3 694.1L723.9 699.1L719.4 696.9M736.3 690.9L741.2 695.9M740.2 692.2L741.2 695.9L737.6 694.8M754.5 690.9L759.7 693.9M757.9 691.0L759.7 693.9L756.3 693.8M772.6 690.9L779.4 692.7M776.7 690.1L779.4 692.7L775.7 693.6M790.8 690.9L796.0 693.9M794.2 691.0L796.0 693.9L792.6 693.8M9.5 709.1L11.5 712.6M11.4 710.0L11.5 712.6L9.3 711.2M27.7 709.1L29.7 712.6M29.6 710.0L29.7 712.6L27.4 711.2M45.8 709.1L51.9 715.7M50.8 711.3L51.9 715.7L47.6 714.2M64.0 709.1L71.4 717.0M70.1 711.8L71.4 717.0L66.3 715.3M82.2 709.1L89.6 718.1M88.6 712.5L89.6 718.1L84.4 716.0M100.4 709.1L109.0 720.0M107.9 713.5L109.0 720.0L103.0 717.5M118.5 709.1L128.2 721.5M127.0 714.3L128.2 721.5L121.5 718.6M136.7 709.1L146.9 722.3M145.7 714.7L146.9 722.3L139.9 719.2M154.9 709.1L166.1 723.7M164.8 715.4L166.1 723.7L158.4 720.3M173.0 709.1L184.4 724.7M183.3 716.1L184.4 724.7L176.5 721.0M191.2 709.1L201.4 725.5M200.9 716.8L201.4 725.5L193.8 721.2M209.4 709.1L219.9 727.4M219.7 718.0L219.9 727.4L211.8 722.5M227.5 709.1L237.7 728.7M237.9 718.8L237.7 728.7L229.6 723.2M245.7 709.1L255.2 729.0M255.7 719.2L255.2 729.0L247.2 723.2M263.9 709.1L272.4 730.4M273.6 720.3L272.4 730.4L264.5 723.9M282.1 709.1L289.2 730.9M291.1 720.9L289.2 730.9L281.8 723.9M300.2 709.1L306.1 731.3M308.5 721.4L306.1 731.3L299.1 723.9M318.4 709.1L322.8 731.6M325.9 721.9L322.8 731.6L316.3 723.8M336.6 709.1L340.9 731.6M344.0 721.9L340.9 731.6L334.4 723.8M354.7 709.1L358.5 730.8M361.7 721.5L358.5 730.8L352.4 723.1M372.9 709.1L376.5 730.8M379.7 721.6L376.5 730.8L370.4 723.1M391.1 709.1L394.8 730.8M398.0 721.5L394.8 730.8L388.7 723.1M409.2 709.1L413.5 730.7M416.4 721.4L413.5 730.7L407.2 723.2M427.4 709.1L432.6 730.5M435.1 721.0L432.6 730.5L426.0 723.3M445.6 709.1L451.7 730.3M453.8 720.7L451.7 730.3L444.8 723.3M463.8 709.1L471.0 728.8M472.4 719.5L471.0 728.8L463.9 722.6M481.9 709.1L490.3 727.3M490.9 718.3L490.3 727.3L483.1 721.9M500.1 709.1L509.5 725.8M509.4 717.1L509.5 725.8L502.1 721.2M518.3 709.1L529.0 725.0M528.2 716.3L529.0 725.0L521.3 721.0M536.4 709.1L546.1 722.6M545.2 715.0L546.1 722.6L539.2 719.3M554.6 709.1L564.2 722.7M563.3 715.1L564.2 722.7L557.3 719.3M572.8 709.1L582.2 722.8M581.4 715.2L582.2 722.8L575.4 719.4M590.9 709.1L601.4 723.2M600.3 715.3L601.4 723.2L594.1 719.8M609.1 709.1L619.1 720.2M617.5 713.4L619.1 720.2L612.5 717.9M627.3 709.1L634.5 724.5M635.0 716.7L634.5 724.5L628.2 719.9M645.5 709.1L650.4 724.3M651.8 717.0L650.4 724.3L645.0 719.2M663.6 709.1L668.1 721.3M669.0 715.2L668.1 721.3L663.4 717.2M681.8 709.1L686.9 721.1M687.5 714.9L686.9 721.1L682.0 717.2M700.0 709.1L706.1 720.6M706.1 714.4L706.1 720.6L700.9 717.2M718.1 709.1L724.4 718.1M723.8 712.7L724.4 718.1L719.6 715.7M736.3 709.1L742.7 715.5M741.4 711.0L742.7 715.5L738.3 714.2M754.5 709.1L761.4 713.1M759.2 709.5L761.4 713.1L757.2 713.0M772.6 709.1L780.5 710.5M777.2 707.9L780.5 710.5L776.5 711.8M790.8 709.1L797.7 710.3M794.7 707.9L797.7 710.3L794.1 711.5M9.5 727.3L10.5 727.3M8.7 726.3L10.5 727.3L8.7 728.2M27.7 727.3L28.7 727.3M26.9 726.3L28.7 727.3L26.9 728.2M45.8 727.3L49.6 728.0M47.7 726.4L49.6 728.0L47.2 728.8M64.0 727.3L69.2 731.8M67.9 728.3L69.2 731.8L65.6 731.0M82.2 727.3L88.0 734.1M87.1 729.6L88.0 734.1L83.7 732.5M100.4 727.3L107.8 736.8M106.9 731.1L107.8 736.8L102.5 734.5M118.5 727.3L126.8 738.5M125.9 731.9L126.8 738.5L120.9 735.7M136.7 727.3L146.1 739.9M145.1 732.6L146.1 739.9L139.5 736.8M154.9 727.3L165.7 741.1M164.4 733.2L165.7 741.1L158.3 737.9M173.0 727.3L184.0 742.1M182.9 733.8L184.0 742.1L176.4 738.6M191.2 727.3L201.2 743.8M200.8 735.1L201.2 743.8L193.7 739.4M209.4 727.3L219.9 745.6M219.7 736.1L219.9 745.6L211.9 740.7M227.5 727.3L237.8 746.8M238.0 737.0L237.8 746.8L229.6 741.3M245.7 727.3L255.4 747.1M255.8 737.3L255.4 747.1L247.4 741.4M263.9 727.3L272.4 748.6M273.6 738.4L272.4 748.6L264.6 742.1M282.1 727.3L289.1 749.1M291.0 739.1L289.1 749.1L281.7 742.1M300.2 727.3L306.0 749.8M308.5 739.8L306.0 749.8L299.0 742.2M318.4 727.3L322.5 750.7M325.9 740.8L322.5 750.7L315.9 742.5M336.6 727.3L340.9 750.7M344.2 740.7L340.9 750.7L334.2 742.5M354.7 727.3L358.7 750.8M362.1 740.8L358.7 750.8L352.1 742.5M372.9 727.3L376.6 750.8M380.2 740.9L376.6 750.8L370.2 742.5M391.1 727.3L394.9 750.2M398.3 740.5L394.9 750.2L388.5 742.1M409.2 727.3L413.6 750.1M416.8 740.3L413.6 750.1L407.1 742.1M427.4 727.3L432.8 749.8M435.5 739.9L432.8 749.8L425.9 742.2M445.6 727.3L452.0 749.6M454.2 739.5L452.0 749.6L444.8 742.3M463.8 727.3L471.4 747.8M472.8 738.1L471.4 747.8L464.0 741.4M481.9 727.3L490.6 746.3M491.3 737.0L490.6 746.3L483.1 740.7M500.1 727.3L509.9 744.7M509.8 735.7L509.9 744.7L502.3 740.0M518.3 727.3L529.6 743.8M528.7 734.8L529.6 743.8L521.6 739.7M536.4 727.3L546.9 741.4M545.8 733.4L546.9 741.4L539.6 738.0M554.6 727.3L565.2 741.2M564.0 733.3L565.2 741.2L557.9 738.0M572.8 727.3L583.5 741.2M582.2 733.2L583.5 741.2L576.1 737.9M590.9 727.3L603.0 741.2M601.2 733.0L603.0 741.2L595.2 738.3M609.1 727.3L621.0 738.0M618.5 731.0L621.0 738.0L613.8 736.3M627.3 727.3L637.0 741.2M636.2 733.4L637.0 741.2L630.0 737.7M645.5 727.3L651.6 745.2M653.1 736.7L651.6 745.2L645.3 739.4M663.6 727.3L668.3 741.5M669.5 734.6L668.3 741.5L663.2 736.7M681.8 727.3L687.5 740.0M688.0 733.5L687.5 740.0L682.2 736.0M700.0 727.3L706.5 739.6M706.6 733.0L706.5 739.6L701.0 736.0M718.1 727.3L725.0 737.1M724.4 731.3L725.0 737.1L719.8 734.5M736.3 727.3L743.4 734.3M742.0 729.5L743.4 734.3L738.6 732.9M754.5 727.3L762.6 731.1M759.9 727.4L762.6 731.1L758.0 731.4M772.6 727.3L781.6 728.0M777.8 725.5L781.6 728.0L777.4 729.9M790.8 727.3L798.8 727.3M795.1 725.2L798.8 727.3L795.1 729.3M9.5 745.4L4.4 739.3M5.2 743.4L4.4 739.3L8.3 740.8M27.7 745.4L22.5 739.3M23.4 743.4L22.5 739.3L26.4 740.8M45.8 745.4L42.8 737.5M42.2 741.9L42.8 737.5L46.1 740.4M64.0 745.4L70.4 750.2M68.6 746.4L70.4 750.2L66.2 749.6M82.2 745.4L85.5 749.0M84.8 746.1L85.5 749.0L82.7 748.1M100.4 745.4L101.1 746.1M100.5 744.2L101.1 746.1L99.1 745.6M118.5 745.4L120.0 748.0M120.0 745.8L120.0 748.0L118.1 746.9M136.7 745.4L144.3 756.6M143.7 750.2L144.3 756.6L138.6 753.7M154.9 745.4L164.0 757.7M163.0 750.6L164.0 757.7L157.5 754.7M173.0 745.4L183.1 759.3M182.1 751.5L183.1 759.3L176.0 755.9M191.2 745.4L200.9 761.2M200.4 752.8L200.9 761.2L193.6 757.0M209.4 745.4L219.5 763.0M219.3 753.9L219.5 763.0L211.7 758.2M227.5 745.4L237.3 764.2M237.5 754.7L237.3 764.2L229.5 758.9M245.7 745.4L255.2 765.3M255.8 755.5L255.2 765.3L247.3 759.6M263.9 745.4L272.4 766.7M273.6 756.6L272.4 766.7L264.6 760.3M282.1 745.4L289.2 767.2M291.0 757.2L289.2 767.2L281.8 760.3M300.2 745.4L306.2 768.5M308.8 758.3L306.2 768.5L299.0 760.8M318.4 745.4L322.9 769.3M326.2 759.1L322.9 769.3L316.1 761.0M336.6 745.4L341.0 769.3M344.4 759.1L341.0 769.3L334.2 761.0M354.7 745.4L358.9 770.3M362.5 759.8L358.9 770.3L352.1 761.6M372.9 745.4L376.9 770.3M380.6 759.9L376.9 770.3L370.1 761.6M391.1 745.4L395.3 770.3M398.9 759.8L395.3 770.3L388.4 761.6M409.2 745.4L413.8 770.2M417.3 759.7L413.8 770.2L406.8 761.6M427.4 745.4L432.9 770.0M436.0 759.4L432.9 770.0L425.6 761.7M445.6 745.4L451.7 768.8M454.3 758.4L451.7 768.8L444.4 761.0M463.8 745.4L471.5 766.9M473.0 756.9L471.5 766.9L463.9 760.1M481.9 745.4L491.1 765.3M491.8 755.5L491.1 765.3L483.3 759.5M500.1 745.4L510.5 763.6M510.3 754.2L510.5 763.6L502.5 758.7M518.3 745.4L530.2 762.7M529.2 753.3L530.2 762.7L521.8 758.5M536.4 745.4L547.6 760.1M546.4 751.8L547.6 760.1L540.0 756.7M554.6 745.4L566.3 759.7M564.8 751.4L566.3 759.7L558.5 756.6M572.8 745.4L584.8 759.4M583.0 751.2L584.8 759.4L577.0 756.5M590.9 745.4L604.4 759.4M602.1 750.9L604.4 759.4L596.0 756.7M609.1 745.4L622.9 757.0M619.9 749.4L622.9 757.0L614.9 755.4M627.3 745.4L638.2 758.5M636.7 750.8L638.2 758.5L630.9 755.6M645.5 745.4L653.5 762.6M654.0 754.1L653.5 762.6L646.6 757.6M663.6 745.4L668.9 761.6M670.3 753.9L668.9 761.6L663.2 756.2M681.8 745.4L687.9 759.1M688.5 752.2L687.9 759.1L682.3 754.9M700.0 745.4L706.3 757.9M706.5 751.3L706.3 757.9L700.9 754.2M718.1 745.4L725.6 756.1M724.9 749.9L725.6 756.1L720.0 753.3M736.3 745.4L744.7 752.5M742.8 747.5L744.7 752.5L739.4 751.4M754.5 745.4L763.9 748.9M760.6 745.1L763.9 748.9L758.9 749.6M772.6 745.4L782.6 745.4M778.3 743.0L782.6 745.4L778.3 747.8M790.8 745.4L799.8 745.4M795.8 743.2L799.8 745.4L795.8 747.6M9.5 763.6L4.4 757.5M5.2 761.6L4.4 757.5L8.3 759.0M27.7 763.6L22.5 757.5M23.4 761.6L22.5 757.5L26.4 759.0M45.8 763.6L43.0 759.7M43.4 762.6L43.0 759.7L45.7 760.9M64.0 763.6L66.3 765.2M65.4 763.3L66.3 765.2L64.2 765.0M82.2 763.6L82.9 764.3M82.3 762.4L82.9 764.3L81.0 763.7M100.4 763.6L101.1 764.3M100.5 762.4L101.1 764.3L99.1 763.7M118.5 763.6L119.2 764.3M118.7 762.4L119.2 764.3L117.3 763.7M136.7 763.6L138.7 767.1M138.6 764.5L138.7 767.1L136.5 765.7M154.9 763.6L163.2 774.2M162.1 767.9L163.2 774.2L157.3 771.7M173.0 763.6L182.4 776.3M181.4 769.1L182.4 776.3L175.7 773.2M191.2 763.6L200.3 778.6M199.9 770.6L200.3 778.6L193.3 774.6M209.4 763.6L219.0 780.4M218.8 771.6L219.0 780.4L211.6 775.8M227.5 763.6L237.4 782.3M237.5 772.9L237.4 782.3L229.5 777.1M245.7 763.6L255.4 783.4M255.8 773.6L255.4 783.4L247.4 777.7M263.9 763.6L272.4 784.9M273.6 774.8L272.4 784.9L264.6 778.4M282.1 763.6L289.1 785.4M291.0 775.4L289.1 785.4L281.7 778.4M300.2 763.6L306.1 786.7M308.7 776.5L306.1 786.7L298.9 779.0M318.4 763.6L322.6 787.7M326.1 777.5L322.6 787.7L315.9 779.3M336.6 763.6L341.0 787.7M344.4 777.4L341.0 787.7L334.2 779.3M354.7 763.6L358.9 788.9M362.6 778.3L358.9 788.9L352.0 780.0M372.9 763.6L377.0 789.4M380.8 778.6L377.0 789.4L370.0 780.3M391.1 763.6L395.4 788.9M399.0 778.2L395.4 788.9L388.4 780.1M409.2 763.6L413.7 788.9M417.3 778.2L413.7 788.9L406.7 780.1M427.4 763.6L432.9 788.7M436.0 777.9L432.9 788.7L425.5 780.2M445.6 763.6L451.5 787.4M454.2 776.9L451.5 787.4L444.2 779.4M463.8 763.6L471.7 785.9M473.3 775.6L471.7 785.9L463.9 778.9M481.9 763.6L491.5 784.2M492.2 774.1L491.5 784.2L483.4 778.2M500.1 763.6L511.0 782.6M510.8 772.8L511.0 782.6L502.7 777.5M518.3 763.6L530.8 781.5M529.7 771.8L530.8 781.5L522.1 777.2M536.4 763.6L548.2 779.0M546.9 770.3L548.2 779.0L540.2 775.4M554.6 763.6L567.0 778.4M565.3 769.9L567.0 778.4L558.9 775.2M572.8 763.6L585.7 778.0M583.7 769.5L585.7 778.0L577.5 775.1M590.9 763.6L605.3 777.9M602.7 769.2L605.3 777.9L596.5 775.4M609.1 763.6L622.9 775.2M619.9 767.5L622.9 775.2L614.9 773.6M627.3 763.6L638.9 777.4M637.2 769.3L638.9 777.4L631.2 774.4M645.5 763.6L653.5 780.8M654.0 772.2L653.5 780.8L646.6 775.7M663.6 763.6L668.9 779.8M670.3 772.1L668.9 779.8L663.2 774.4M681.8 763.6L687.9 777.3M688.5 770.3L687.9 777.3L682.3 773.1M700.0 763.6L706.8 777.0M707.0 770.0L706.8 777.0L701.0 773.0M718.1 763.6L725.6 774.2M724.9 768.1L725.6 774.2L720.0 771.5M736.3 763.6L745.5 771.3M743.4 765.9L745.5 771.3L739.8 770.2M754.5 763.6L764.8 767.4M761.2 763.3L764.8 767.4L759.5 768.2M772.6 763.6L782.6 763.6M778.3 761.2L782.6 763.6L778.3 766.0M790.8 763.6L800.8 763.6M796.4 761.2L800.8 763.6L796.4 766.0"/></g>
<g clip-path="url(#mc)">
<path fill="none" stroke="#000" stroke-width="1" shape-rendering="crispEdges" d="M241.0 28.5L235.0 29.0L233.8 32.5L237.5 40.0L237.5 45.0L235.0 51.0L228.8 60.0L222.5 68.8L227.5 72.5L228.8 78.8L226.0 90.0L222.5 95.0L213.8 97.5L212.5 101.0L216.0 106.0L216.0 113.8L213.9 119.0L220.6 130.3L212.8 142.6L212.8 155.0L215.0 168.5L222.9 174.1L222.9 182.0L218.4 187.6L203.8 188.8L197.0 187.6L195.9 195.5L195.9 202.3L191.4 209.0L188.0 222.5L189.1 238.3L193.6 245.0L197.0 254.0L199.4 267.7L185.7 274.6L193.7 279.0L190.3 288.2L199.4 300.7L217.6 308.6L238.0 313.2L254.0 323.4L269.8 331.4L283.4 345.0L289.1 357.5L281.2 372.3L274.4 378.8L271.7 388.4L273.1 399.3L281.3 411.5L290.8 419.7L299.0 423.8L304.4 427.2L311.2 424.5L316.7 423.8L317.4 422.4L319.4 424.5L321.4 426.5L323.5 444.2L324.3 449.7L324.9 464.7L318.0 472.8L310.7 481.6L297.0 499.8L290.2 511.2L274.3 523.7L265.2 531.7L260.6 545.2L260.6 552.0L249.2 560.0L226.5 570.2L203.7 580.4L185.5 585.0L181.0 586.0L172.7 587.6L163.6 591.0L150.0 595.5L127.4 599.0L109.0 601.2L97.8 605.8L81.9 606.9L31.8 613.7L18.2 616.0L0.0 618.3"/>
<path fill="none" stroke="#000" stroke-width="1" shape-rendering="crispEdges" d="M212.8 143.8L217.3 157.3L218.4 170.8L221.8 175.3L219.5 185.4L213.9 188.8L201.5 189.9L201.5 200.0L199.3 211.3L197.0 220.3L197.0 236.0L199.3 251.8L209.4 258.5L217.3 265.3L226.3 274.3L235.8 284.8L240.3 288.2L254.0 286.0L272.1 286.0L290.2 288.2L301.6 297.3L313.0 303.0L326.6 306.4L338.0 309.8L344.8 312.1L343.7 316.7L349.3 319.0L356.1 319.0L360.7 322.3L372.0 316.7L383.5 312.1L394.9 311.0L404.5 312.1L418.2 312.8L422.7 315.5L429.6 319.6L441.0 319.0L447.8 324.6L468.3 317.8L491.0 309.8L497.8 303.0L495.5 298.5L499.0 297.3L500.0 303.0L507.0 303.0L518.3 292.8L534.2 283.7L536.5 276.8L545.6 265.5L552.4 256.4L555.8 245.0L561.9 235.7L574.4 230.0L585.7 218.6L599.4 208.4L609.1 198.8L619.3 188.6L622.7 178.4L628.7 168.2L632.9 156.3L636.3 144.4L641.4 135.9L648.2 127.4L658.4 120.6L672.0 105.3L687.3 95.4L703.7 84.8L720.0 74.2L736.5 60.8L746.7 46.5L764.1 27.5"/>
<path fill="none" stroke="#000" stroke-width="1" shape-rendering="crispEdges" d="M372.5 41.9L380.0 42.0L386.0 40.0L391.0 33.0L397.5 32.0L397.5 28.5"/>
<path fill="none" stroke="#000" stroke-width="1" shape-rendering="crispEdges" d="M406.0 28.0L410.0 30.6L417.5 37.5L421.0 44.4L424.0 47.0L428.0 53.8L432.5 55.0L438.0 60.6L442.5 55.6L447.5 60.0L457.5 68.0L464.0 69.0L475.0 72.5L489.0 87.5L496.0 94.0L507.5 102.5L511.0 100.0L516.0 101.0L519.0 104.0L524.0 105.0L529.0 110.0L536.0 112.5L539.0 122.5L543.7 134.2L551.3 142.7L559.8 149.5L570.0 153.8L576.8 157.2L582.8 162.3L576.8 167.4L570.0 173.3L567.5 179.3L561.5 182.7L554.7 186.9L552.2 193.7L551.6 197.0L552.8 208.4L551.6 227.7L553.9 232.3L559.6 233.4L561.9 235.7"/>
<path fill="none" stroke="#000" stroke-width="1" shape-rendering="crispEdges" d="M701.6 28.0L700.6 35.2L701.6 39.3L703.5 40.5L702.9 41.7L691.1 45.6L690.0 48.4L689.4 53.5L687.7 54.6L678.7 55.7L674.2 57.4L668.6 58.6L665.8 60.8L664.7 64.7L663.6 66.0"/>
<path fill="none" stroke="#000" stroke-width="1" shape-rendering="crispEdges" d="M659.0 75.5L656.5 76.5L656.0 79.0L658.0 81.0L661.0 80.5L662.0 78.0L661.0 76.0L659.0 75.5"/>
<path fill="none" stroke="#000" stroke-width="1" shape-rendering="crispEdges" d="M661.3 81.0L658.5 84.4L655.1 87.2L648.4 88.9L647.2 92.9L646.1 97.4L645.6 98.5L648.4 99.6L652.9 103.0L653.4 104.7L647.2 105.2L645.6 107.5L646.1 110.3L645.0 113.1L647.2 115.4L652.3 116.5L654.6 118.7L657.4 119.9"/>
<path fill="none" stroke="#000" stroke-width="1" shape-rendering="crispEdges" d="M736.5 28.0L736.5 45.5L739.5 43.4L738.5 40.3L732.4 41.4L724.2 41.4L726.2 45.5L724.2 55.7L722.1 68.0L716.0 70.4L710.2 70.4L705.7 72.0L704.0 76.0L702.4 78.8L703.5 81.0L700.0 80.5L697.3 83.4L691.1 88.5L685.5 92.4L678.7 93.5L675.9 95.7L674.2 97.9L669.7 99.0L665.2 97.4L661.9 95.7L657.9 95.7L657.4 98.5L660.7 100.7L663.0 105.2L661.3 107.5L660.2 112.0L658.0 118.7L656.8 121.0"/>
</g>
<g fill="#000" shape-rendering="crispEdges">
<rect x="0" y="27" width="800" height="1"/>
<rect x="0" y="27" width="1" height="746"/>
<rect x="1" y="28" width="1" height="4"/>
<rect x="1" y="769" width="1" height="4"/>
<rect x="9" y="28" width="1" height="17"/>
<rect x="9" y="756" width="1" height="17"/>
<rect x="16" y="28" width="1" height="4"/>
<rect x="16" y="769" width="1" height="4"/>
<rect x="23" y="28" width="1" height="4"/>
<rect x="23" y="769" width="1" height="4"/>
<rect x="30" y="28" width="1" height="4"/>
<rect x="30" y="769" width="1" height="4"/>
<rect x="38" y="28" width="1" height="4"/>
<rect x="38" y="769" width="1" height="4"/>
<rect x="45" y="28" width="1" height="9"/>
<rect x="45" y="764" width="1" height="9"/>
<rect x="52" y="28" width="1" height="4"/>
<rect x="52" y="769" width="1" height="4"/>
<rect x="59" y="28" width="1" height="4"/>
<rect x="59" y="769" width="1" height="4"/>
<rect x="67" y="28" width="1" height="4"/>
<rect x="67" y="769" width="1" height="4"/>
<rect x="74" y="28" width="1" height="4"/>
<rect x="74" y="769" width="1" height="4"/>
<rect x="81" y="28" width="1" height="17"/>
<rect x="81" y="756" width="1" height="17"/>
<rect x="89" y="28" width="1" height="4"/>
<rect x="89" y="769" width="1" height="4"/>
<rect x="96" y="28" width="1" height="4"/>
<rect x="96" y="769" width="1" height="4"/>
<rect x="103" y="28" width="1" height="4"/>
<rect x="103" y="769" width="1" height="4"/>
<rect x="110" y="28" width="1" height="4"/>
<rect x="110" y="769" width="1" height="4"/>
<rect x="118" y="28" width="1" height="9"/>
<rect x="118" y="764" width="1" height="9"/>
<rect x="125" y="28" width="1" height="4"/>
<rect x="125" y="769" width="1" height="4"/>
<rect x="132" y="28" width="1" height="4"/>
<rect x="132" y="769" width="1" height="4"/>
<rect x="139" y="28" width="1" height="4"/>
<rect x="139" y="769" width="1" height="4"/>
<rect x="147" y="28" width="1" height="4"/>
<rect x="147" y="769" width="1" height="4"/>
<rect x="154" y="28" width="1" height="17"/>
<rect x="154" y="756" width="1" height="17"/>
<rect x="161" y="28" width="1" height="4"/>
<rect x="161" y="769" width="1" height="4"/>
<rect x="169" y="28" width="1" height="4"/>
<rect x="169" y="769" width="1" height="4"/>
<rect x="176" y="28" width="1" height="4"/>
<rect x="176" y="769" width="1" height="4"/>
<rect x="183" y="28" width="1" height="4"/>
<rect x="183" y="769" width="1" height="4"/>
<rect x="190" y="28" width="1" height="9"/>
<rect x="190" y="764" width="1" height="9"/>
<rect x="198" y="28" width="1" height="4"/>
<rect x="198" y="769" width="1" height="4"/>
<rect x="205" y="28" width="1" height="4"/>
<rect x="205" y="769" width="1" height="4"/>
<rect x="212" y="28" width="1" height="4"/>
<rect x="212" y="769" width="1" height="4"/>
<rect x="219" y="28" width="1" height="4"/>
<rect x="219" y="769" width="1" height="4"/>
<rect x="227" y="28" width="1" height="17"/>
<rect x="227" y="756" width="1" height="17"/>
<rect x="234" y="28" width="1" height="4"/>
<rect x="234" y="769" width="1" height="4"/>
<rect x="241" y="28" width="1" height="4"/>
<rect x="241" y="769" width="1" height="4"/>
<rect x="249" y="28" width="1" height="4"/>
<rect x="249" y="769" width="1" height="4"/>
<rect x="256" y="28" width="1" height="4"/>
<rect x="256" y="769" width="1" height="4"/>
<rect x="263" y="28" width="1" height="9"/>
<rect x="263" y="764" width="1" height="9"/>
<rect x="270" y="28" width="1" height="4"/>
<rect x="270" y="769" width="1" height="4"/>
<rect x="278" y="28" width="1" height="4"/>
<rect x="278" y="769" width="1" height="4"/>
<rect x="285" y="28" width="1" height="4"/>
<rect x="285" y="769" width="1" height="4"/>
<rect x="292" y="28" width="1" height="4"/>
<rect x="292" y="769" width="1" height="4"/>
<rect x="299" y="28" width="1" height="17"/>
<rect x="299" y="756" width="1" height="17"/>
<rect x="307" y="28" width="1" height="4"/>
<rect x="307" y="769" width="1" height="4"/>
<rect x="314" y="28" width="1" height="4"/>
<rect x="314" y="769" width="1" height="4"/>
<rect x="321" y="28" width="1" height="4"/>
<rect x="321" y="769" width="1" height="4"/>
<rect x="329" y="28" width="1" height="4"/>
<rect x="329" y="769" width="1" height="4"/>
<rect x="336" y="28" width="1" height="9"/>
<rect x="336" y="764" width="1" height="9"/>
<rect x="343" y="28" width="1" height="4"/>
<rect x="343" y="769" width="1" height="4"/>
<rect x="350" y="28" width="1" height="4"/>
<rect x="350" y="769" width="1" height="4"/>
<rect x="358" y="28" width="1" height="4"/>
<rect x="358" y="769" width="1" height="4"/>
<rect x="365" y="28" width="1" height="4"/>
<rect x="365" y="769" width="1" height="4"/>
<rect x="372" y="28" width="1" height="17"/>
<rect x="372" y="756" width="1" height="17"/>
<rect x="379" y="28" width="1" height="4"/>
<rect x="379" y="769" width="1" height="4"/>
<rect x="387" y="28" width="1" height="4"/>
<rect x="387" y="769" width="1" height="4"/>
<rect x="394" y="28" width="1" height="4"/>
<rect x="394" y="769" width="1" height="4"/>
<rect x="401" y="28" width="1" height="4"/>
<rect x="401" y="769" width="1" height="4"/>
<rect x="409" y="28" width="1" height="9"/>
<rect x="409" y="764" width="1" height="9"/>
<rect x="416" y="28" width="1" height="4"/>
<rect x="416" y="769" width="1" height="4"/>
<rect x="423" y="28" width="1" height="4"/>
<rect x="423" y="769" width="1" height="4"/>
<rect x="430" y="28" width="1" height="4"/>
<rect x="430" y="769" width="1" height="4"/>
<rect x="438" y="28" width="1" height="4"/>
<rect x="438" y="769" width="1" height="4"/>
<rect x="445" y="28" width="1" height="17"/>
<rect x="445" y="756" width="1" height="17"/>
<rect x="452" y="28" width="1" height="4"/>
<rect x="452" y="769" width="1" height="4"/>
<rect x="459" y="28" width="1" height="4"/>
<rect x="459" y="769" width="1" height="4"/>
<rect x="467" y="28" width="1" height="4"/>
<rect x="467" y="769" width="1" height="4"/>
<rect x="474" y="28" width="1" height="4"/>
<rect x="474" y="769" width="1" height="4"/>
<rect x="481" y="28" width="1" height="9"/>
<rect x="481" y="764" width="1" height="9"/>
<rect x="489" y="28" width="1" height="4"/>
<rect x="489" y="769" width="1" height="4"/>
<rect x="496" y="28" width="1" height="4"/>
<rect x="496" y="769" width="1" height="4"/>
<rect x="503" y="28" width="1" height="4"/>
<rect x="503" y="769" width="1" height="4"/>
<rect x="510" y="28" width="1" height="4"/>
<rect x="510" y="769" width="1" height="4"/>
<rect x="518" y="28" width="1" height="17"/>
<rect x="518" y="756" width="1" height="17"/>
<rect x="525" y="28" width="1" height="4"/>
<rect x="525" y="769" width="1" height="4"/>
<rect x="532" y="28" width="1" height="4"/>
<rect x="532" y="769" width="1" height="4"/>
<rect x="539" y="28" width="1" height="4"/>
<rect x="539" y="769" width="1" height="4"/>
<rect x="547" y="28" width="1" height="4"/>
<rect x="547" y="769" width="1" height="4"/>
<rect x="554" y="28" width="1" height="9"/>
<rect x="554" y="764" width="1" height="9"/>
<rect x="561" y="28" width="1" height="4"/>
<rect x="561" y="769" width="1" height="4"/>
<rect x="568" y="28" width="1" height="4"/>
<rect x="568" y="769" width="1" height="4"/>
<rect x="576" y="28" width="1" height="4"/>
<rect x="576" y="769" width="1" height="4"/>
<rect x="583" y="28" width="1" height="4"/>
<rect x="583" y="769" width="1" height="4"/>
<rect x="590" y="28" width="1" height="17"/>
<rect x="590" y="756" width="1" height="17"/>
<rect x="598" y="28" width="1" height="4"/>
<rect x="598" y="769" width="1" height="4"/>
<rect x="605" y="28" width="1" height="4"/>
<rect x="605" y="769" width="1" height="4"/>
<rect x="612" y="28" width="1" height="4"/>
<rect x="612" y="769" width="1" height="4"/>
<rect x="619" y="28" width="1" height="4"/>
<rect x="619" y="769" width="1" height="4"/>
<rect x="627" y="28" width="1" height="9"/>
<rect x="627" y="764" width="1" height="9"/>
<rect x="634" y="28" width="1" height="4"/>
<rect x="634" y="769" width="1" height="4"/>
<rect x="641" y="28" width="1" height="4"/>
<rect x="641" y="769" width="1" height="4"/>
<rect x="648" y="28" width="1" height="4"/>
<rect x="648" y="769" width="1" height="4"/>
<rect x="656" y="28" width="1" height="4"/>
<rect x="656" y="769" width="1" height="4"/>
<rect x="663" y="28" width="1" height="17"/>
<rect x="663" y="756" width="1" height="17"/>
<rect x="670" y="28" width="1" height="4"/>
<rect x="670" y="769" width="1" height="4"/>
<rect x="678" y="28" width="1" height="4"/>
<rect x="678" y="769" width="1" height="4"/>
<rect x="685" y="28" width="1" height="4"/>
<rect x="685" y="769" width="1" height="4"/>
<rect x="692" y="28" width="1" height="4"/>
<rect x="692" y="769" width="1" height="4"/>
<rect x="699" y="28" width="1" height="9"/>
<rect x="699" y="764" width="1" height="9"/>
<rect x="707" y="28" width="1" height="4"/>
<rect x="707" y="769" width="1" height="4"/>
<rect x="714" y="28" width="1" height="4"/>
<rect x="714" y="769" width="1" height="4"/>
<rect x="721" y="28" width="1" height="4"/>
<rect x="721" y="769" width="1" height="4"/>
<rect x="728" y="28" width="1" height="4"/>
<rect x="728" y="769" width="1" height="4"/>
<rect x="736" y="28" width="1" height="17"/>
<rect x="736" y="756" width="1" height="17"/>
<rect x="743" y="28" width="1" height="4"/>
<rect x="743" y="769" width="1" height="4"/>
<rect x="750" y="28" width="1" height="4"/>
<rect x="750" y="769" width="1" height="4"/>
<rect x="758" y="28" width="1" height="4"/>
<rect x="758" y="769" width="1" height="4"/>
<rect x="765" y="28" width="1" height="4"/>
<rect x="765" y="769" width="1" height="4"/>
<rect x="772" y="28" width="1" height="9"/>
<rect x="772" y="764" width="1" height="9"/>
<rect x="779" y="28" width="1" height="4"/>
<rect x="779" y="769" width="1" height="4"/>
<rect x="787" y="28" width="1" height="4"/>
<rect x="787" y="769" width="1" height="4"/>
<rect x="794" y="28" width="1" height="4"/>
<rect x="794" y="769" width="1" height="4"/>
<rect x="1" y="29" width="3" height="1"/>
<rect x="795" y="29" width="5" height="1"/>
<rect x="1" y="36" width="17" height="1"/>
<rect x="782" y="36" width="18" height="1"/>
<rect x="1" y="43" width="3" height="1"/>
<rect x="795" y="43" width="5" height="1"/>
<rect x="1" y="50" width="3" height="1"/>
<rect x="795" y="50" width="5" height="1"/>
<rect x="1" y="58" width="3" height="1"/>
<rect x="795" y="58" width="5" height="1"/>
<rect x="1" y="65" width="3" height="1"/>
<rect x="795" y="65" width="5" height="1"/>
<rect x="1" y="72" width="8" height="1"/>
<rect x="791" y="72" width="9" height="1"/>
<rect x="1" y="80" width="3" height="1"/>
<rect x="795" y="80" width="5" height="1"/>
<rect x="1" y="87" width="3" height="1"/>
<rect x="795" y="87" width="5" height="1"/>
<rect x="1" y="94" width="3" height="1"/>
<rect x="795" y="94" width="5" height="1"/>
<rect x="1" y="101" width="3" height="1"/>
<rect x="795" y="101" width="5" height="1"/>
<rect x="1" y="109" width="17" height="1"/>
<rect x="782" y="109" width="18" height="1"/>
<rect x="1" y="116" width="3" height="1"/>
<rect x="795" y="116" width="5" height="1"/>
<rect x="1" y="123" width="3" height="1"/>
<rect x="795" y="123" width="5" height="1"/>
<rect x="1" y="130" width="3" height="1"/>
<rect x="795" y="130" width="5" height="1"/>
<rect x="1" y="138" width="3" height="1"/>
<rect x="795" y="138" width="5" height="1"/>
<rect x="1" y="145" width="8" height="1"/>
<rect x="791" y="145" width="9" height="1"/>
<rect x="1" y="152" width="3" height="1"/>
<rect x="795" y="152" width="5" height="1"/>
<rect x="1" y="160" width="3" height="1"/>
<rect x="795" y="160" width="5" height="1"/>
<rect x="1" y="167" width="3" height="1"/>
<rect x="795" y="167" width="5" height="1"/>
<rect x="1" y="174" width="3" height="1"/>
<rect x="795" y="174" width="5" height="1"/>
<rect x="1" y="181" width="17" height="1"/>
<rect x="782" y="181" width="18" height="1"/>
<rect x="1" y="189" width="3" height="1"/>
<rect x="795" y="189" width="5" height="1"/>
<rect x="1" y="196" width="3" height="1"/>
<rect x="795" y="196" width="5" height="1"/>
<rect x="1" y="203" width="3" height="1"/>
<rect x="795" y="203" width="5" height="1"/>
<rect x="1" y="210" width="3" height="1"/>
<rect x="795" y="210" width="5" height="1"/>
<rect x="1" y="218" width="8" height="1"/>
<rect x="791" y="218" width="9" height="1"/>
<rect x="1" y="225" width="3" height="1"/>
<rect x="795" y="225" width="5" height="1"/>
<rect x="1" y="232" width="3" height="1"/>
<rect x="795" y="232" width="5" height="1"/>
<rect x="1" y="240" width="3" height="1"/>
<rect x="795" y="240" width="5" height="1"/>
<rect x="1" y="247" width="3" height="1"/>
<rect x="795" y="247" width="5" height="1"/>
<rect x="1" y="254" width="17" height="1"/>
<rect x="782" y="254" width="18" height="1"/>
<rect x="1" y="261" width="3" height="1"/>
<rect x="795" y="261" width="5" height="1"/>
<rect x="1" y="269" width="3" height="1"/>
<rect x="795" y="269" width="5" height="1"/>
<rect x="1" y="276" width="3" height="1"/>
<rect x="795" y="276" width="5" height="1"/>
<rect x="1" y="283" width="3" height="1"/>
<rect x="795" y="283" width="5" height="1"/>
<rect x="1" y="290" width="8" height="1"/>
<rect x="791" y="290" width="9" height="1"/>
<rect x="1" y="298" width="3" height="1"/>
<rect x="795" y="298" width="5" height="1"/>
<rect x="1" y="305" width="3" height="1"/>
<rect x="795" y="305" width="5" height="1"/>
<rect x="1" y="312" width="3" height="1"/>
<rect x="795" y="312" width="5" height="1"/>
<rect x="1" y="320" width="3" height="1"/>
<rect x="795" y="320" width="5" height="1"/>
<rect x="1" y="327" width="17" height="1"/>
<rect x="782" y="327" width="18" height="1"/>
<rect x="1" y="334" width="3" height="1"/>
<rect x="795" y="334" width="5" height="1"/>
<rect x="1" y="341" width="3" height="1"/>
<rect x="795" y="341" width="5" height="1"/>
<rect x="1" y="349" width="3" height="1"/>
<rect x="795" y="349" width="5" height="1"/>
<rect x="1" y="356" width="3" height="1"/>
<rect x="795" y="356" width="5" height="1"/>
<rect x="1" y="363" width="8" height="1"/>
<rect x="791" y="363" width="9" height="1"/>
<rect x="1" y="370" width="3" height="1"/>
<rect x="795" y="370" width="5" height="1"/>
<rect x="1" y="378" width="3" height="1"/>
<rect x="795" y="378" width="5" height="1"/>
<rect x="1" y="385" width="3" height="1"/>
<rect x="795" y="385" width="5" height="1"/>
<rect x="1" y="392" width="3" height="1"/>
<rect x="795" y="392" width="5" height="1"/>
<rect x="1" y="400" width="17" height="1"/>
<rect x="782" y="400" width="18" height="1"/>
<rect x="1" y="407" width="3" height="1"/>
<rect x="795" y="407" width="5" height="1"/>
<rect x="1" y="414" width="3" height="1"/>
<rect x="795" y="414" width="5" height="1"/>
<rect x="1" y="421" width="3" height="1"/>
<rect x="795" y="421" width="5" height="1"/>
<rect x="1" y="429" width="3" height="1"/>
<rect x="795" y="429" width="5" height="1"/>
<rect x="1" y="436" width="8" height="1"/>
<rect x="791" y="436" width="9" height="1"/>
<rect x="1" y="443" width="3" height="1"/>
<rect x="795" y="443" width="5" height="1"/>
<rect x="1" y="450" width="3" height="1"/>
<rect x="795" y="450" width="5" height="1"/>
<rect x="1" y="458" width="3" height="1"/>
<rect x="795" y="458" width="5" height="1"/>
<rect x="1" y="465" width="3" height="1"/>
<rect x="795" y="465" width="5" height="1"/>
<rect x="1" y="472" width="17" height="1"/>
<rect x="782" y="472" width="18" height="1"/>
<rect x="1" y="480" width="3" height="1"/>
<rect x="795" y="480" width="5" height="1"/>
<rect x="1" y="487" width="3" height="1"/>
<rect x="795" y="487" width="5" height="1"/>
<rect x="1" y="494" width="3" height="1"/>
<rect x="795" y="494" width="5" height="1"/>
<rect x="1" y="501" width="3" height="1"/>
<rect x="795" y="501" width="5" height="1"/>
<rect x="1" y="509" width="8" height="1"/>
<rect x="791" y="509" width="9" height="1"/>
<rect x="1" y="516" width="3" height="1"/>
<rect x="795" y="516" width="5" height="1"/>
<rect x="1" y="523" width="3" height="1"/>
<rect x="795" y="523" width="5" height="1"/>
<rect x="1" y="530" width="3" height="1"/>
<rect x="795" y="530" width="5" height="1"/>
<rect x="1" y="538" width="3" height="1"/>
<rect x="795" y="538" width="5" height="1"/>
<rect x="1" y="545" width="17" height="1"/>
<rect x="782" y="545" width="18" height="1"/>
<rect x="1" y="552" width="3" height="1"/>
<rect x="795" y="552" width="5" height="1"/>
<rect x="1" y="560" width="3" height="1"/>
<rect x="795" y="560" width="5" height="1"/>
<rect x="1" y="567" width="3" height="1"/>
<rect x="795" y="567" width="5" height="1"/>
<rect x="1" y="574" width="3" height="1"/>
<rect x="795" y="574" width="5" height="1"/>
<rect x="1" y="581" width="8" height="1"/>
<rect x="791" y="581" width="9" height="1"/>
<rect x="1" y="589" width="3" height="1"/>
<rect x="795" y="589" width="5" height="1"/>
<rect x="1" y="596" width="3" height="1"/>
<rect x="795" y="596" width="5" height="1"/>
<rect x="1" y="603" width="3" height="1"/>
<rect x="795" y="603" width="5" height="1"/>
<rect x="1" y="610" width="3" height="1"/>
<rect x="795" y="610" width="5" height="1"/>
<rect x="1" y="618" width="17" height="1"/>
<rect x="782" y="618" width="18" height="1"/>
<rect x="1" y="625" width="3" height="1"/>
<rect x="795" y="625" width="5" height="1"/>
<rect x="1" y="632" width="3" height="1"/>
<rect x="795" y="632" width="5" height="1"/>
<rect x="1" y="639" width="3" height="1"/>
<rect x="795" y="639" width="5" height="1"/>
<rect x="1" y="647" width="3" height="1"/>
<rect x="795" y="647" width="5" height="1"/>
<rect x="1" y="654" width="8" height="1"/>
<rect x="791" y="654" width="9" height="1"/>
<rect x="1" y="661" width="3" height="1"/>
<rect x="795" y="661" width="5" height="1"/>
<rect x="1" y="669" width="3" height="1"/>
<rect x="795" y="669" width="5" height="1"/>
<rect x="1" y="676" width="3" height="1"/>
<rect x="795" y="676" width="5" height="1"/>
<rect x="1" y="683" width="3" height="1"/>
<rect x="795" y="683" width="5" height="1"/>
<rect x="1" y="690" width="17" height="1"/>
<rect x="782" y="690" width="18" height="1"/>
<rect x="1" y="698" width="3" height="1"/>
<rect x="795" y="698" width="5" height="1"/>
<rect x="1" y="705" width="3" height="1"/>
<rect x="795" y="705" width="5" height="1"/>
<rect x="1" y="712" width="3" height="1"/>
<rect x="795" y="712" width="5" height="1"/>
<rect x="1" y="719" width="3" height="1"/>
<rect x="795" y="719" width="5" height="1"/>
<rect x="1" y="727" width="8" height="1"/>
<rect x="791" y="727" width="9" height="1"/>
<rect x="1" y="734" width="3" height="1"/>
<rect x="795" y="734" width="5" height="1"/>
<rect x="1" y="741" width="3" height="1"/>
<rect x="795" y="741" width="5" height="1"/>
<rect x="1" y="749" width="3" height="1"/>
<rect x="795" y="749" width="5" height="1"/>
<rect x="1" y="756" width="3" height="1"/>
<rect x="795" y="756" width="5" height="1"/>
<rect x="1" y="763" width="17" height="1"/>
<rect x="782" y="763" width="18" height="1"/>
<rect x="1" y="770" width="3" height="1"/>
<rect x="795" y="770" width="5" height="1"/>
</g>
<defs><linearGradient id="cb" x1="0" y1="1" x2="0" y2="0">
<stop offset="0.0000" stop-color="#0000ff"/>
<stop offset="0.2667" stop-color="#00ffff"/>
<stop offset="0.3367" stop-color="#00ff80"/>
<stop offset="0.4000" stop-color="#00ff00"/>
<stop offset="0.5333" stop-color="#ffff00"/>
<stop offset="0.6300" stop-color="#ffaa00"/>
<stop offset="0.7367" stop-color="#ff6400"/>
<stop offset="0.8433" stop-color="#ff0000"/>
<stop offset="1.0000" stop-color="#be0082"/>
</linearGradient></defs>
<g shape-rendering="crispEdges">
<rect x="32" y="160" width="49" height="609" fill="#000"/>
<rect x="33" y="161" width="47" height="607" fill="#fff"/>
<rect x="34" y="162" width="45" height="605" fill="url(#cb)"/>
</g>
<g clip-path="url(#mc)"><path fill="none" stroke="#000" stroke-width="1" shape-rendering="crispEdges" d="M87.6 154.0L93.6 154.0L90.0 158.3L91.8 158.3L93.6 159.4L94.2 161.6L93.6 163.7L91.2 164.8L88.8 164.8L87.0 163.7M100.7 154.0L98.3 154.9L97.3 157.2L97.1 159.4L97.3 161.6L98.3 163.9L100.7 164.8L103.1 163.9L104.0 161.6L104.3 159.4L104.0 157.2L103.1 154.9L100.7 154.0M87.4 308.5L88.0 306.9L90.4 305.8L92.8 306.7L93.7 308.5L93.0 310.7L87.0 316.6L94.2 316.6M97.4 308.5L98.0 306.9L100.4 305.8L102.8 306.7L103.8 308.5L103.1 310.7L97.1 316.6L104.3 316.6M88.2 460.1L90.6 457.9L90.6 468.7M103.7 457.9L98.3 457.9L97.7 462.4L100.1 461.7L102.5 462.0L104.3 463.8L104.3 466.5L102.5 468.4L100.1 468.7L98.0 468.2L97.1 467.1M90.6 610.0L88.2 610.9L88.0 613.0L90.0 614.6L93.0 615.9L94.2 618.1L93.0 620.3L90.6 620.8L88.2 620.3L87.0 618.1L88.2 615.9L91.2 614.6L93.2 613.0L93.0 610.9L90.6 610.0M90.6 762.0L88.2 762.9L87.2 765.2L87.0 767.4L87.2 769.6L88.2 771.9L90.6 772.8L93.0 771.9L94.0 769.6L94.2 767.4L94.0 765.2L93.0 762.9L90.6 762.0M38.3 134.6L35.2 134.6L35.2 150.0L38.3 150.0M40.5 140.6L40.5 148.0M40.5 142.6L42.2 140.8L43.9 140.6L45.2 141.8L45.2 148.0M45.2 142.6L46.9 140.8L48.6 140.6L50.0 141.8L50.0 148.0M51.5 150.0L60.2 134.6M68.7 141.8L67.4 140.6L64.5 140.6L62.9 141.8L63.1 143.4L68.0 145.1L69.3 146.4L68.6 147.6L66.7 148.0L63.8 148.0L62.5 146.8M73.5 134.6L76.6 134.6L76.6 150.0L73.5 150.0"/></g>
<g fill="#808080" font-family="Liberation Sans, sans-serif" font-weight="bold" font-size="24.5px">
<text x="4.6" y="49.7" textLength="385" lengthAdjust="spacingAndGlyphs">modelo GEFS-WAVE (NCEP)</text>
<text x="6" y="72.3" textLength="495" lengthAdjust="spacingAndGlyphs">forecast date: 2024-08-22 18:00:00</text>
<text x="42" y="94.8" textLength="448" lengthAdjust="spacingAndGlyphs">valid date: 2024-08-27 12:00:00</text>
</g>
</svg></body></html>
